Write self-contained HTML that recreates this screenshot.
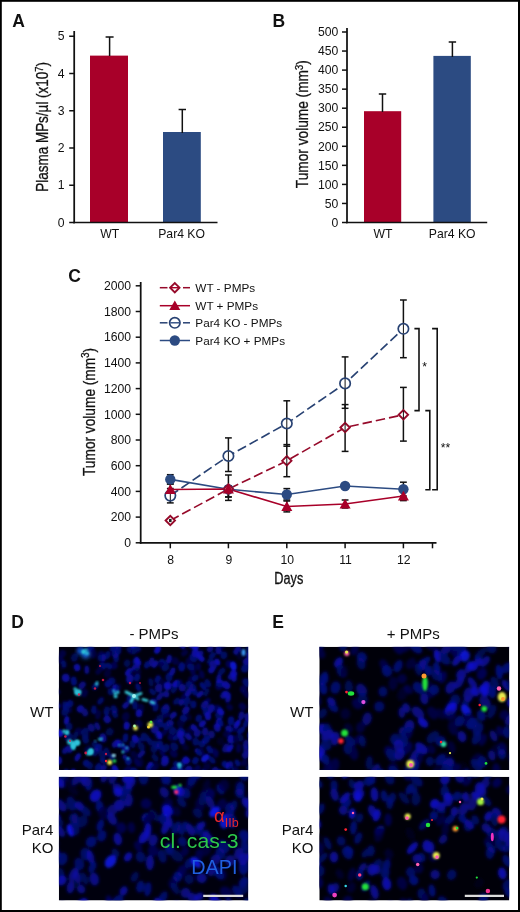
<!DOCTYPE html>
<html><head><meta charset="utf-8"><title>Figure</title>
<style>html,body{margin:0;padding:0;background:#fff}svg{display:block}text{font-family:"Liberation Sans",sans-serif;fill:#111}.b{font-weight:bold;font-size:17.5px}.t{font-size:12.2px}.l{font-size:11.75px}.c{font-size:16px;stroke:#111;stroke-width:0.3px}.m{font-size:15px}</style></head><body>
<svg width="520" height="912" viewBox="0 0 520 912">
<rect x="0" y="0" width="520" height="912" fill="#000"/>
<rect x="1.8" y="1.8" width="516.2" height="908.2" fill="#fff"/>
<text x="12.3" y="26.8" class="b" text-anchor="start" >A</text>
<text x="272.5" y="26.8" class="b" text-anchor="start" >B</text>
<text x="68.3" y="281.6" class="b" text-anchor="start" >C</text>
<text x="11.3" y="627.8" class="b" text-anchor="start" >D</text>
<text x="272.3" y="627.8" class="b" text-anchor="start" >E</text>
<line x1="69.2" y1="222.5" x2="74.2" y2="222.5" stroke="#111" stroke-width="1.5" />
<text x="64.5" y="226.7" class="t" text-anchor="end" >0</text>
<line x1="69.2" y1="185.25" x2="74.2" y2="185.25" stroke="#111" stroke-width="1.5" />
<text x="64.5" y="189.45" class="t" text-anchor="end" >1</text>
<line x1="69.2" y1="148.0" x2="74.2" y2="148.0" stroke="#111" stroke-width="1.5" />
<text x="64.5" y="152.2" class="t" text-anchor="end" >2</text>
<line x1="69.2" y1="110.75" x2="74.2" y2="110.75" stroke="#111" stroke-width="1.5" />
<text x="64.5" y="114.95" class="t" text-anchor="end" >3</text>
<line x1="69.2" y1="73.5" x2="74.2" y2="73.5" stroke="#111" stroke-width="1.5" />
<text x="64.5" y="77.7" class="t" text-anchor="end" >4</text>
<line x1="69.2" y1="36.25" x2="74.2" y2="36.25" stroke="#111" stroke-width="1.5" />
<text x="64.5" y="40.45" class="t" text-anchor="end" >5</text>
<rect x="90" y="55.62" width="38" height="166.88" fill="#A80029"/>
<rect x="163" y="132" width="37.8" height="90.5" fill="#2C4B82"/>
<line x1="74.2" y1="31" x2="74.2" y2="223.35" stroke="#111" stroke-width="1.75" />
<line x1="73.35000000000001" y1="222.5" x2="217.5" y2="222.5" stroke="#111" stroke-width="1.7" />
<line x1="109.6" y1="37" x2="109.6" y2="56" stroke="#111" stroke-width="1.5" />
<line x1="105.6" y1="37" x2="113.6" y2="37" stroke="#111" stroke-width="1.5" />
<line x1="182.3" y1="109.5" x2="182.3" y2="133" stroke="#111" stroke-width="1.5" />
<line x1="178.6" y1="109.5" x2="186" y2="109.5" stroke="#111" stroke-width="1.5" />
<text x="109.8" y="238" class="t" text-anchor="middle" >WT</text>
<text x="181.6" y="238" class="t" text-anchor="middle" >Par4 KO</text>
<text class="c" transform="translate(48.3,191.8) rotate(-90)" textLength="129.8" lengthAdjust="spacingAndGlyphs" >Plasma MPs/µl (x10<tspan dy="-5.8" font-size="11">7</tspan><tspan dy="5.8">)</tspan></text>
<line x1="342" y1="222.5" x2="347" y2="222.5" stroke="#111" stroke-width="1.5" />
<text x="338.3" y="226.7" class="t" text-anchor="end" >0</text>
<line x1="342" y1="203.45" x2="347" y2="203.45" stroke="#111" stroke-width="1.5" />
<text x="338.3" y="207.64999999999998" class="t" text-anchor="end" >50</text>
<line x1="342" y1="184.4" x2="347" y2="184.4" stroke="#111" stroke-width="1.5" />
<text x="338.3" y="188.6" class="t" text-anchor="end" >100</text>
<line x1="342" y1="165.35" x2="347" y2="165.35" stroke="#111" stroke-width="1.5" />
<text x="338.3" y="169.54999999999998" class="t" text-anchor="end" >150</text>
<line x1="342" y1="146.3" x2="347" y2="146.3" stroke="#111" stroke-width="1.5" />
<text x="338.3" y="150.5" class="t" text-anchor="end" >200</text>
<line x1="342" y1="127.25" x2="347" y2="127.25" stroke="#111" stroke-width="1.5" />
<text x="338.3" y="131.45" class="t" text-anchor="end" >250</text>
<line x1="342" y1="108.19999999999999" x2="347" y2="108.19999999999999" stroke="#111" stroke-width="1.5" />
<text x="338.3" y="112.39999999999999" class="t" text-anchor="end" >300</text>
<line x1="342" y1="89.15" x2="347" y2="89.15" stroke="#111" stroke-width="1.5" />
<text x="338.3" y="93.35000000000001" class="t" text-anchor="end" >350</text>
<line x1="342" y1="70.1" x2="347" y2="70.1" stroke="#111" stroke-width="1.5" />
<text x="338.3" y="74.3" class="t" text-anchor="end" >400</text>
<line x1="342" y1="51.04999999999998" x2="347" y2="51.04999999999998" stroke="#111" stroke-width="1.5" />
<text x="338.3" y="55.249999999999986" class="t" text-anchor="end" >450</text>
<line x1="342" y1="32.0" x2="347" y2="32.0" stroke="#111" stroke-width="1.5" />
<text x="338.3" y="36.2" class="t" text-anchor="end" >500</text>
<rect x="364" y="111.2" width="37.2" height="111.3" fill="#A80029"/>
<rect x="433.4" y="55.9" width="37.4" height="166.6" fill="#2C4B82"/>
<line x1="347" y1="28" x2="347" y2="223.35" stroke="#111" stroke-width="1.75" />
<line x1="346.15" y1="222.5" x2="487.2" y2="222.5" stroke="#111" stroke-width="1.7" />
<line x1="382.5" y1="94" x2="382.5" y2="112" stroke="#111" stroke-width="1.5" />
<line x1="378.8" y1="94" x2="386.2" y2="94" stroke="#111" stroke-width="1.5" />
<line x1="452.4" y1="42" x2="452.4" y2="57" stroke="#111" stroke-width="1.5" />
<line x1="448.7" y1="42" x2="456.1" y2="42" stroke="#111" stroke-width="1.5" />
<text x="382.9" y="238" class="t" text-anchor="middle" >WT</text>
<text x="452.2" y="238" class="t" text-anchor="middle" >Par4 KO</text>
<text class="c" transform="translate(308.3,188.2) rotate(-90)" textLength="128" lengthAdjust="spacingAndGlyphs" >Tumor volume (mm<tspan dy="-5.8" font-size="11">3</tspan><tspan dy="5.8">)</tspan></text>
<line x1="140.7" y1="282" x2="140.7" y2="543.65" stroke="#111" stroke-width="1.75" />
<line x1="139.85" y1="542.8" x2="436.5" y2="542.8" stroke="#111" stroke-width="1.7" />
<line x1="135.7" y1="542.8" x2="140.7" y2="542.8" stroke="#111" stroke-width="1.5" />
<text x="131" y="547.0" class="t" text-anchor="end" >0</text>
<line x1="135.7" y1="517.0999999999999" x2="140.7" y2="517.0999999999999" stroke="#111" stroke-width="1.5" />
<text x="131" y="521.3" class="t" text-anchor="end" >200</text>
<line x1="135.7" y1="491.4" x2="140.7" y2="491.4" stroke="#111" stroke-width="1.5" />
<text x="131" y="495.59999999999997" class="t" text-anchor="end" >400</text>
<line x1="135.7" y1="465.69999999999993" x2="140.7" y2="465.69999999999993" stroke="#111" stroke-width="1.5" />
<text x="131" y="469.8999999999999" class="t" text-anchor="end" >600</text>
<line x1="135.7" y1="439.99999999999994" x2="140.7" y2="439.99999999999994" stroke="#111" stroke-width="1.5" />
<text x="131" y="444.19999999999993" class="t" text-anchor="end" >800</text>
<line x1="135.7" y1="414.29999999999995" x2="140.7" y2="414.29999999999995" stroke="#111" stroke-width="1.5" />
<text x="131" y="418.49999999999994" class="t" text-anchor="end" >1000</text>
<line x1="135.7" y1="388.59999999999997" x2="140.7" y2="388.59999999999997" stroke="#111" stroke-width="1.5" />
<text x="131" y="392.79999999999995" class="t" text-anchor="end" >1200</text>
<line x1="135.7" y1="362.9" x2="140.7" y2="362.9" stroke="#111" stroke-width="1.5" />
<text x="131" y="367.09999999999997" class="t" text-anchor="end" >1400</text>
<line x1="135.7" y1="337.19999999999993" x2="140.7" y2="337.19999999999993" stroke="#111" stroke-width="1.5" />
<text x="131" y="341.3999999999999" class="t" text-anchor="end" >1600</text>
<line x1="135.7" y1="311.5" x2="140.7" y2="311.5" stroke="#111" stroke-width="1.5" />
<text x="131" y="315.7" class="t" text-anchor="end" >1800</text>
<line x1="135.7" y1="285.79999999999995" x2="140.7" y2="285.79999999999995" stroke="#111" stroke-width="1.5" />
<text x="131" y="289.99999999999994" class="t" text-anchor="end" >2000</text>
<line x1="170.3" y1="542.8" x2="170.3" y2="548.3" stroke="#111" stroke-width="1.5" />
<text x="170.70000000000002" y="564" class="t" text-anchor="middle" >8</text>
<line x1="228.4" y1="542.8" x2="228.4" y2="548.3" stroke="#111" stroke-width="1.5" />
<text x="228.8" y="564" class="t" text-anchor="middle" >9</text>
<line x1="286.8" y1="542.8" x2="286.8" y2="548.3" stroke="#111" stroke-width="1.5" />
<text x="287.2" y="564" class="t" text-anchor="middle" >10</text>
<line x1="345.1" y1="542.8" x2="345.1" y2="548.3" stroke="#111" stroke-width="1.5" />
<text x="345.5" y="564" class="t" text-anchor="middle" >11</text>
<line x1="403.4" y1="542.8" x2="403.4" y2="548.3" stroke="#111" stroke-width="1.5" />
<text x="403.79999999999995" y="564" class="t" text-anchor="middle" >12</text>
<line x1="432.5" y1="542.8" x2="432.5" y2="548.3" stroke="#111" stroke-width="1.5" />
<text class="c" x="274.3" y="583.6" textLength="29" lengthAdjust="spacingAndGlyphs">Days</text>
<text class="c" transform="translate(94.5,476) rotate(-90)" textLength="128" lengthAdjust="spacingAndGlyphs" >Tumor volume (mm<tspan dy="-5.8" font-size="11">3</tspan><tspan dy="5.8">)</tspan></text>
<line x1="170.3" y1="488.5" x2="170.3" y2="502.9" stroke="#111" stroke-width="1.5" />
<line x1="166.9" y1="488.5" x2="173.70000000000002" y2="488.5" stroke="#111" stroke-width="1.5" />
<line x1="166.9" y1="502.9" x2="173.70000000000002" y2="502.9" stroke="#111" stroke-width="1.5" />
<line x1="170.3" y1="474.7" x2="170.3" y2="484" stroke="#111" stroke-width="1.5" />
<line x1="166.9" y1="474.7" x2="173.70000000000002" y2="474.7" stroke="#111" stroke-width="1.5" />
<line x1="166.9" y1="484" x2="173.70000000000002" y2="484" stroke="#111" stroke-width="1.5" />
<line x1="170.3" y1="484" x2="170.3" y2="495" stroke="#111" stroke-width="1.5" />
<line x1="166.9" y1="484" x2="173.70000000000002" y2="484" stroke="#111" stroke-width="1.5" />
<line x1="166.9" y1="495" x2="173.70000000000002" y2="495" stroke="#111" stroke-width="1.5" />
<line x1="228.4" y1="437.9" x2="228.4" y2="471.5" stroke="#111" stroke-width="1.5" />
<line x1="225.0" y1="437.9" x2="231.8" y2="437.9" stroke="#111" stroke-width="1.5" />
<line x1="225.0" y1="471.5" x2="231.8" y2="471.5" stroke="#111" stroke-width="1.5" />
<line x1="228.4" y1="475" x2="228.4" y2="500.4" stroke="#111" stroke-width="1.5" />
<line x1="225.0" y1="475" x2="231.8" y2="475" stroke="#111" stroke-width="1.5" />
<line x1="225.0" y1="500.4" x2="231.8" y2="500.4" stroke="#111" stroke-width="1.5" />
<line x1="228.4" y1="486" x2="228.4" y2="496.9" stroke="#111" stroke-width="1.5" />
<line x1="225.0" y1="486" x2="231.8" y2="486" stroke="#111" stroke-width="1.5" />
<line x1="225.0" y1="496.9" x2="231.8" y2="496.9" stroke="#111" stroke-width="1.5" />
<line x1="228.4" y1="486" x2="228.4" y2="497" stroke="#111" stroke-width="1.5" />
<line x1="225.0" y1="486" x2="231.8" y2="486" stroke="#111" stroke-width="1.5" />
<line x1="225.0" y1="497" x2="231.8" y2="497" stroke="#111" stroke-width="1.5" />
<line x1="286.8" y1="400.8" x2="286.8" y2="446.2" stroke="#111" stroke-width="1.5" />
<line x1="283.40000000000003" y1="400.8" x2="290.2" y2="400.8" stroke="#111" stroke-width="1.5" />
<line x1="283.40000000000003" y1="446.2" x2="290.2" y2="446.2" stroke="#111" stroke-width="1.5" />
<line x1="286.8" y1="444.6" x2="286.8" y2="476.7" stroke="#111" stroke-width="1.5" />
<line x1="283.40000000000003" y1="444.6" x2="290.2" y2="444.6" stroke="#111" stroke-width="1.5" />
<line x1="283.40000000000003" y1="476.7" x2="290.2" y2="476.7" stroke="#111" stroke-width="1.5" />
<line x1="286.8" y1="488.6" x2="286.8" y2="500" stroke="#111" stroke-width="1.5" />
<line x1="283.40000000000003" y1="488.6" x2="290.2" y2="488.6" stroke="#111" stroke-width="1.5" />
<line x1="283.40000000000003" y1="500" x2="290.2" y2="500" stroke="#111" stroke-width="1.5" />
<line x1="286.8" y1="501" x2="286.8" y2="511.9" stroke="#111" stroke-width="1.5" />
<line x1="283.40000000000003" y1="501" x2="290.2" y2="501" stroke="#111" stroke-width="1.5" />
<line x1="283.40000000000003" y1="511.9" x2="290.2" y2="511.9" stroke="#111" stroke-width="1.5" />
<line x1="345.1" y1="356.9" x2="345.1" y2="408.3" stroke="#111" stroke-width="1.5" />
<line x1="341.70000000000005" y1="356.9" x2="348.5" y2="356.9" stroke="#111" stroke-width="1.5" />
<line x1="341.70000000000005" y1="408.3" x2="348.5" y2="408.3" stroke="#111" stroke-width="1.5" />
<line x1="345.1" y1="404.6" x2="345.1" y2="451.4" stroke="#111" stroke-width="1.5" />
<line x1="341.70000000000005" y1="404.6" x2="348.5" y2="404.6" stroke="#111" stroke-width="1.5" />
<line x1="341.70000000000005" y1="451.4" x2="348.5" y2="451.4" stroke="#111" stroke-width="1.5" />
<line x1="345.1" y1="500" x2="345.1" y2="508" stroke="#111" stroke-width="1.5" />
<line x1="341.70000000000005" y1="500" x2="348.5" y2="500" stroke="#111" stroke-width="1.5" />
<line x1="341.70000000000005" y1="508" x2="348.5" y2="508" stroke="#111" stroke-width="1.5" />
<line x1="403.4" y1="300" x2="403.4" y2="357.7" stroke="#111" stroke-width="1.5" />
<line x1="400.0" y1="300" x2="406.79999999999995" y2="300" stroke="#111" stroke-width="1.5" />
<line x1="400.0" y1="357.7" x2="406.79999999999995" y2="357.7" stroke="#111" stroke-width="1.5" />
<line x1="403.4" y1="387.4" x2="403.4" y2="441.1" stroke="#111" stroke-width="1.5" />
<line x1="400.0" y1="387.4" x2="406.79999999999995" y2="387.4" stroke="#111" stroke-width="1.5" />
<line x1="400.0" y1="441.1" x2="406.79999999999995" y2="441.1" stroke="#111" stroke-width="1.5" />
<line x1="403.4" y1="482.2" x2="403.4" y2="496" stroke="#111" stroke-width="1.5" />
<line x1="400.0" y1="482.2" x2="406.79999999999995" y2="482.2" stroke="#111" stroke-width="1.5" />
<line x1="400.0" y1="496" x2="406.79999999999995" y2="496" stroke="#111" stroke-width="1.5" />
<line x1="403.4" y1="491" x2="403.4" y2="500.6" stroke="#111" stroke-width="1.5" />
<line x1="400.0" y1="491" x2="406.79999999999995" y2="491" stroke="#111" stroke-width="1.5" />
<line x1="400.0" y1="500.6" x2="406.79999999999995" y2="500.6" stroke="#111" stroke-width="1.5" />
<polyline points="170.3,495.6 228.4,456 286.8,423.5 345.1,383.4 403.4,328.8" fill="none" stroke="#284273" stroke-width="1.65" stroke-dasharray="9.5 4"/>
<polyline points="170.3,520.5 228.4,489 286.8,460.8 345.1,427.5 403.4,414.7" fill="none" stroke="#960a2a" stroke-width="1.65" stroke-dasharray="9.5 4"/>
<polyline points="170.3,479.4 228.4,489.3 286.8,494.5 345.1,486 403.4,489.2" fill="none" stroke="#2C4B82" stroke-width="1.65" />
<polyline points="170.3,489.5 228.4,489 286.8,506.5 345.1,504 403.4,496" fill="none" stroke="#A80029" stroke-width="1.65" />
<circle cx="170.3" cy="495.6" r="5.2" fill="#fff" stroke="#284273" stroke-width="1.7"/>
<line x1="170.3" y1="491.1" x2="170.3" y2="500.1" stroke="#111" stroke-width="1.0" />
<circle cx="228.4" cy="456" r="5.2" fill="#fff" stroke="#284273" stroke-width="1.7"/>
<line x1="228.4" y1="451.5" x2="228.4" y2="460.5" stroke="#111" stroke-width="1.0" />
<circle cx="286.8" cy="423.5" r="5.2" fill="#fff" stroke="#284273" stroke-width="1.7"/>
<line x1="286.8" y1="419.0" x2="286.8" y2="428.0" stroke="#111" stroke-width="1.0" />
<circle cx="345.1" cy="383.4" r="5.2" fill="#fff" stroke="#284273" stroke-width="1.7"/>
<line x1="345.1" y1="378.9" x2="345.1" y2="387.9" stroke="#111" stroke-width="1.0" />
<circle cx="403.4" cy="328.8" r="5.2" fill="#fff" stroke="#284273" stroke-width="1.7"/>
<line x1="403.4" y1="324.3" x2="403.4" y2="333.3" stroke="#111" stroke-width="1.0" />
<circle cx="170.3" cy="479.4" r="5.2" fill="#2C4B82"/>
<circle cx="228.4" cy="489.3" r="5.2" fill="#2C4B82"/>
<circle cx="286.8" cy="494.5" r="5.2" fill="#2C4B82"/>
<circle cx="345.1" cy="486" r="5.2" fill="#2C4B82"/>
<circle cx="403.4" cy="489.2" r="5.2" fill="#2C4B82"/>
<path d="M165.60000000000002,520.5 L170.3,515.8 L175.0,520.5 L170.3,525.2 Z" fill="#fff" stroke="#960a2a" stroke-width="1.9"/>
<rect x="169.0" y="518.9" width="2.6" height="3.2" fill="#222"/>
<path d="M223.70000000000002,489 L228.4,484.3 L233.1,489 L228.4,493.7 Z" fill="#fff" stroke="#960a2a" stroke-width="1.9"/>
<line x1="228.4" y1="485" x2="228.4" y2="493" stroke="#111" stroke-width="1.0" />
<path d="M282.1,460.8 L286.8,456.1 L291.5,460.8 L286.8,465.5 Z" fill="#fff" stroke="#960a2a" stroke-width="1.9"/>
<line x1="286.8" y1="456.8" x2="286.8" y2="464.8" stroke="#111" stroke-width="1.0" />
<path d="M340.40000000000003,427.5 L345.1,422.8 L349.8,427.5 L345.1,432.2 Z" fill="#fff" stroke="#960a2a" stroke-width="1.9"/>
<line x1="345.1" y1="423.5" x2="345.1" y2="431.5" stroke="#111" stroke-width="1.0" />
<path d="M398.7,414.7 L403.4,410.0 L408.09999999999997,414.7 L403.4,419.4 Z" fill="#fff" stroke="#960a2a" stroke-width="1.9"/>
<line x1="403.4" y1="410.7" x2="403.4" y2="418.7" stroke="#111" stroke-width="1.0" />
<path d="M164.8,493.9 L170.3,484.3 L175.8,493.9 Z" fill="#A80029"/>
<path d="M222.9,493.4 L228.4,483.8 L233.9,493.4 Z" fill="#A80029"/>
<path d="M281.3,510.9 L286.8,501.3 L292.3,510.9 Z" fill="#A80029"/>
<path d="M339.6,508.4 L345.1,498.8 L350.6,508.4 Z" fill="#A80029"/>
<path d="M397.9,500.4 L403.4,490.8 L408.9,500.4 Z" fill="#A80029"/>
<line x1="159.8" y1="287.7" x2="167.5" y2="287.7" stroke="#960a2a" stroke-width="1.5" />
<line x1="183" y1="287.7" x2="190" y2="287.7" stroke="#960a2a" stroke-width="1.5" />
<path d="M170.10000000000002,287.7 L174.8,283.0 L179.5,287.7 L174.8,292.4 Z" fill="#fff" stroke="#960a2a" stroke-width="1.9"/>
<line x1="159.8" y1="305.7" x2="190" y2="305.7" stroke="#A80029" stroke-width="1.5" />
<path d="M169.3,310.09999999999997 L174.8,300.5 L180.3,310.09999999999997 Z" fill="#A80029"/>
<line x1="159.8" y1="322.8" x2="167.5" y2="322.8" stroke="#284273" stroke-width="1.5" />
<line x1="183" y1="322.8" x2="190" y2="322.8" stroke="#284273" stroke-width="1.5" />
<circle cx="174.8" cy="322.8" r="5.2" fill="#fff" stroke="#284273" stroke-width="1.7"/>
<line x1="170.3" y1="322.8" x2="179.3" y2="322.8" stroke="#2C4B82" stroke-width="1.4" />
<line x1="159.8" y1="340.5" x2="190" y2="340.5" stroke="#2C4B82" stroke-width="1.5" />
<circle cx="174.8" cy="340.5" r="5.2" fill="#2C4B82"/>
<line x1="171.0" y1="287.7" x2="178.60000000000002" y2="287.7" stroke="#A80029" stroke-width="1.4" />
<text x="195.3" y="291.9" class="l" text-anchor="start" >WT - PMPs</text>
<text x="195.3" y="309.9" class="l" text-anchor="start" >WT + PMPs</text>
<text x="195.3" y="327.0" class="l" text-anchor="start" >Par4 KO - PMPs</text>
<text x="195.3" y="344.7" class="l" text-anchor="start" >Par4 KO + PMPs</text>
<path d="M414.4,328.6 H419 V410.6 H414.4" fill="none" stroke="#111" stroke-width="1.6"/>
<path d="M425.3,410.6 H429.8 V489.8 H425.3" fill="none" stroke="#111" stroke-width="1.6"/>
<path d="M432.1,328.6 H437.2 V489.8 H432.1" fill="none" stroke="#111" stroke-width="1.6"/>
<text x="424.7" y="371.3" class="t" text-anchor="middle" >*</text>
<text x="445.6" y="452.3" class="t" text-anchor="middle" >**</text>
<text x="154" y="638.7" class="m" text-anchor="middle" >- PMPs</text>
<text x="413.2" y="638.7" class="m" text-anchor="middle" >+ PMPs</text>
<text x="53.4" y="716.8" class="m" text-anchor="end" >WT</text>
<text x="313.4" y="716.8" class="m" text-anchor="end" >WT</text>
<text x="53.4" y="834.5" class="m" text-anchor="end" >Par4</text>
<text x="53.4" y="853" class="m" text-anchor="end" >KO</text>
<text x="313.4" y="834.5" class="m" text-anchor="end" >Par4</text>
<text x="313.4" y="853" class="m" text-anchor="end" >KO</text>
<defs>
<filter id="nz1" x="0" y="0" width="100%" height="100%" color-interpolation-filters="sRGB"><feTurbulence type="fractalNoise" baseFrequency="0.055" numOctaves="2" seed="4"/><feColorMatrix type="matrix" values="0 0 0 0 0.02  0.25 0 0 0 -0.08  2.6 0 0 0 -0.72  0 0 0 0 1"/></filter>
<filter id="nz2" x="0" y="0" width="100%" height="100%" color-interpolation-filters="sRGB"><feTurbulence type="fractalNoise" baseFrequency="0.05" numOctaves="2" seed="11"/><feColorMatrix type="matrix" values="0 0 0 0 0.02  0.2 0 0 0 -0.07  2.6 0 0 0 -0.70  0 0 0 0 1"/></filter>
<filter id="nz3" x="0" y="0" width="100%" height="100%" color-interpolation-filters="sRGB"><feTurbulence type="fractalNoise" baseFrequency="0.04" numOctaves="2" seed="23"/><feColorMatrix type="matrix" values="0 0 0 0 0.02  0.1 0 0 0 -0.05  2.6 0 0 0 -0.85  0 0 0 0 1"/></filter>
<filter id="nz4" x="0" y="0" width="100%" height="100%" color-interpolation-filters="sRGB"><feTurbulence type="fractalNoise" baseFrequency="0.045" numOctaves="2" seed="37"/><feColorMatrix type="matrix" values="0 0 0 0 0.02  0.1 0 0 0 -0.05  2.6 0 0 0 -0.9  0 0 0 0 1"/></filter>
<filter id="bl1" x="-50%" y="-50%" width="200%" height="200%"><feGaussianBlur stdDeviation="1"/></filter>
<filter id="bl15" x="-10%" y="-10%" width="120%" height="120%"><feGaussianBlur stdDeviation="1.6"/></filter>
<filter id="bl17" x="-10%" y="-10%" width="120%" height="120%"><feGaussianBlur stdDeviation="1.8"/></filter>
<filter id="bl13" x="-10%" y="-10%" width="120%" height="120%"><feGaussianBlur stdDeviation="1.3"/></filter>
<filter id="bl2" x="-50%" y="-50%" width="200%" height="200%"><feGaussianBlur stdDeviation="2.2"/></filter>
<filter id="bl08" x="-50%" y="-50%" width="200%" height="200%"><feGaussianBlur stdDeviation="0.8"/></filter>
<filter id="bl05" x="-50%" y="-50%" width="200%" height="200%"><feGaussianBlur stdDeviation="0.6"/></filter>
</defs>
<svg x="58.8" y="646.8" width="189.5" height="123.2" viewBox="58.8 646.8 189.5 123.2" overflow="hidden">
<rect x="58.8" y="646.8" width="189.5" height="123.2" fill="#00000e"/>
<g filter="url(#bl13)">
<ellipse cx="80.3" cy="649.5" rx="3.2" ry="3.9" transform="rotate(4 80.3 649.5)" fill="rgb(7,11,126)" opacity="0.64"/>
<ellipse cx="90.7" cy="648.8" rx="3.4" ry="3.8" transform="rotate(-50 90.7 648.8)" fill="rgb(7,11,129)" opacity="0.90"/>
<ellipse cx="113.8" cy="648.0" rx="3.9" ry="4.5" transform="rotate(47 113.8 648.0)" fill="rgb(9,14,158)" opacity="0.69"/>
<ellipse cx="118.1" cy="644.4" rx="3.0" ry="4.4" transform="rotate(-50 118.1 644.4)" fill="rgb(6,9,111)" opacity="0.82"/>
<ellipse cx="133.9" cy="645.5" rx="3.5" ry="3.7" transform="rotate(48 133.9 645.5)" fill="rgb(11,17,197)" opacity="0.89"/>
<ellipse cx="137.6" cy="648.8" rx="3.4" ry="3.6" transform="rotate(-45 137.6 648.8)" fill="rgb(8,12,141)" opacity="0.62"/>
<ellipse cx="157.5" cy="649.8" rx="3.0" ry="4.3" transform="rotate(28 157.5 649.8)" fill="rgb(11,17,193)" opacity="0.87"/>
<ellipse cx="182.2" cy="645.5" rx="2.8" ry="3.7" transform="rotate(-35 182.2 645.5)" fill="rgb(10,16,183)" opacity="0.83"/>
<ellipse cx="192.2" cy="644.5" rx="3.9" ry="4.3" transform="rotate(-9 192.2 644.5)" fill="rgb(8,13,146)" opacity="0.88"/>
<ellipse cx="195.3" cy="646.3" rx="3.8" ry="3.6" transform="rotate(-1 195.3 646.3)" fill="rgb(11,17,195)" opacity="0.89"/>
<ellipse cx="210.2" cy="648.8" rx="3.1" ry="3.8" transform="rotate(34 210.2 648.8)" fill="rgb(7,11,129)" opacity="0.95"/>
<ellipse cx="218.5" cy="650.1" rx="3.2" ry="4.5" transform="rotate(-2 218.5 650.1)" fill="rgb(11,16,184)" opacity="0.67"/>
<ellipse cx="222.3" cy="644.4" rx="3.9" ry="4.8" transform="rotate(13 222.3 644.4)" fill="rgb(6,9,105)" opacity="0.59"/>
<ellipse cx="249.4" cy="648.2" rx="3.2" ry="4.6" transform="rotate(19 249.4 648.2)" fill="rgb(8,12,142)" opacity="0.67"/>
<ellipse cx="62.3" cy="654.0" rx="3.5" ry="4.2" transform="rotate(32 62.3 654.0)" fill="rgb(5,8,89)" opacity="0.69"/>
<ellipse cx="93.1" cy="653.8" rx="3.7" ry="4.8" transform="rotate(-2 93.1 653.8)" fill="rgb(4,6,74)" opacity="0.83"/>
<ellipse cx="101.3" cy="655.2" rx="3.6" ry="4.3" transform="rotate(17 101.3 655.2)" fill="rgb(4,7,82)" opacity="0.86"/>
<ellipse cx="107.6" cy="655.1" rx="2.8" ry="4.2" transform="rotate(15 107.6 655.1)" fill="rgb(9,14,158)" opacity="0.64"/>
<ellipse cx="114.8" cy="654.5" rx="3.2" ry="3.9" transform="rotate(-45 114.8 654.5)" fill="rgb(9,13,155)" opacity="0.62"/>
<ellipse cx="118.3" cy="650.5" rx="3.1" ry="4.4" transform="rotate(9 118.3 650.5)" fill="rgb(9,14,158)" opacity="0.65"/>
<ellipse cx="130.0" cy="650.2" rx="2.9" ry="4.1" transform="rotate(-38 130.0 650.2)" fill="rgb(9,13,150)" opacity="0.56"/>
<ellipse cx="134.8" cy="650.9" rx="3.0" ry="4.3" transform="rotate(46 134.8 650.9)" fill="rgb(5,8,98)" opacity="0.88"/>
<ellipse cx="184.6" cy="652.8" rx="2.8" ry="4.0" transform="rotate(47 184.6 652.8)" fill="rgb(4,6,67)" opacity="0.92"/>
<ellipse cx="195.6" cy="653.1" rx="3.9" ry="4.2" transform="rotate(-21 195.6 653.1)" fill="rgb(12,18,211)" opacity="0.74"/>
<ellipse cx="199.9" cy="654.5" rx="2.9" ry="4.6" transform="rotate(33 199.9 654.5)" fill="rgb(11,17,191)" opacity="0.66"/>
<ellipse cx="212.3" cy="655.6" rx="2.9" ry="3.8" transform="rotate(49 212.3 655.6)" fill="rgb(8,13,146)" opacity="0.67"/>
<ellipse cx="223.7" cy="655.3" rx="3.6" ry="4.0" transform="rotate(3 223.7 655.3)" fill="rgb(7,11,124)" opacity="0.76"/>
<ellipse cx="237.3" cy="650.5" rx="3.2" ry="4.8" transform="rotate(39 237.3 650.5)" fill="rgb(10,15,170)" opacity="0.77"/>
<ellipse cx="240.2" cy="655.5" rx="3.3" ry="4.5" transform="rotate(13 240.2 655.5)" fill="rgb(3,4,54)" opacity="0.70"/>
<ellipse cx="249.6" cy="656.0" rx="2.9" ry="4.6" transform="rotate(-43 249.6 656.0)" fill="rgb(9,13,152)" opacity="0.88"/>
<ellipse cx="60.1" cy="660.0" rx="3.6" ry="4.7" transform="rotate(-36 60.1 660.0)" fill="rgb(4,7,81)" opacity="0.75"/>
<ellipse cx="74.6" cy="657.5" rx="3.7" ry="4.6" transform="rotate(16 74.6 657.5)" fill="rgb(8,12,138)" opacity="0.56"/>
<ellipse cx="101.3" cy="658.0" rx="3.8" ry="3.8" transform="rotate(11 101.3 658.0)" fill="rgb(6,9,111)" opacity="0.80"/>
<ellipse cx="103.6" cy="657.8" rx="2.6" ry="3.7" transform="rotate(8 103.6 657.8)" fill="rgb(8,12,144)" opacity="0.85"/>
<ellipse cx="116.1" cy="658.0" rx="3.0" ry="4.4" transform="rotate(-1 116.1 658.0)" fill="rgb(10,15,167)" opacity="0.57"/>
<ellipse cx="127.2" cy="663.3" rx="3.4" ry="3.9" transform="rotate(5 127.2 663.3)" fill="rgb(7,10,117)" opacity="0.65"/>
<ellipse cx="135.8" cy="660.6" rx="2.9" ry="4.1" transform="rotate(24 135.8 660.6)" fill="rgb(9,14,159)" opacity="0.81"/>
<ellipse cx="138.0" cy="661.6" rx="2.7" ry="4.3" transform="rotate(-26 138.0 661.6)" fill="rgb(11,17,189)" opacity="0.90"/>
<ellipse cx="151.3" cy="662.0" rx="2.7" ry="4.8" transform="rotate(18 151.3 662.0)" fill="rgb(8,12,135)" opacity="0.94"/>
<ellipse cx="162.5" cy="662.7" rx="3.4" ry="4.0" transform="rotate(-26 162.5 662.7)" fill="rgb(9,14,161)" opacity="0.68"/>
<ellipse cx="169.0" cy="659.4" rx="2.7" ry="4.6" transform="rotate(15 169.0 659.4)" fill="rgb(9,14,156)" opacity="0.89"/>
<ellipse cx="175.2" cy="661.1" rx="3.6" ry="4.1" transform="rotate(-40 175.2 661.1)" fill="rgb(6,9,101)" opacity="0.56"/>
<ellipse cx="188.6" cy="662.3" rx="3.2" ry="4.7" transform="rotate(12 188.6 662.3)" fill="rgb(6,9,101)" opacity="0.59"/>
<ellipse cx="193.2" cy="658.1" rx="3.1" ry="4.7" transform="rotate(-35 193.2 658.1)" fill="rgb(9,14,161)" opacity="0.65"/>
<ellipse cx="200.9" cy="658.2" rx="2.9" ry="4.2" transform="rotate(-47 200.9 658.2)" fill="rgb(10,15,176)" opacity="0.93"/>
<ellipse cx="210.6" cy="661.7" rx="3.9" ry="3.7" transform="rotate(17 210.6 661.7)" fill="rgb(7,11,124)" opacity="0.67"/>
<ellipse cx="217.3" cy="662.0" rx="2.8" ry="3.6" transform="rotate(-27 217.3 662.0)" fill="rgb(10,15,177)" opacity="0.94"/>
<ellipse cx="246.5" cy="661.5" rx="3.9" ry="3.6" transform="rotate(-44 246.5 661.5)" fill="rgb(9,14,161)" opacity="0.86"/>
<ellipse cx="62.1" cy="667.4" rx="2.7" ry="3.7" transform="rotate(40 62.1 667.4)" fill="rgb(2,3,38)" opacity="0.57"/>
<ellipse cx="63.9" cy="664.2" rx="2.6" ry="3.9" transform="rotate(-9 63.9 664.2)" fill="rgb(8,12,137)" opacity="0.67"/>
<ellipse cx="77.1" cy="667.4" rx="3.3" ry="3.7" transform="rotate(-19 77.1 667.4)" fill="rgb(10,15,170)" opacity="0.92"/>
<ellipse cx="86.8" cy="669.8" rx="2.5" ry="4.3" transform="rotate(-1 86.8 669.8)" fill="rgb(9,14,163)" opacity="0.78"/>
<ellipse cx="102.7" cy="666.0" rx="3.7" ry="3.9" transform="rotate(-38 102.7 666.0)" fill="rgb(7,11,125)" opacity="0.86"/>
<ellipse cx="108.9" cy="666.0" rx="2.6" ry="3.9" transform="rotate(-42 108.9 666.0)" fill="rgb(8,13,147)" opacity="0.72"/>
<ellipse cx="114.0" cy="665.6" rx="3.5" ry="3.7" transform="rotate(-30 114.0 665.6)" fill="rgb(7,11,123)" opacity="0.59"/>
<ellipse cx="135.8" cy="667.8" rx="3.7" ry="4.4" transform="rotate(45 135.8 667.8)" fill="rgb(10,15,169)" opacity="0.84"/>
<ellipse cx="146.9" cy="664.8" rx="2.8" ry="3.9" transform="rotate(18 146.9 664.8)" fill="rgb(7,11,128)" opacity="0.86"/>
<ellipse cx="155.0" cy="664.1" rx="2.7" ry="4.1" transform="rotate(36 155.0 664.1)" fill="rgb(9,14,156)" opacity="0.93"/>
<ellipse cx="162.2" cy="665.5" rx="3.0" ry="4.0" transform="rotate(-49 162.2 665.5)" fill="rgb(4,6,77)" opacity="0.84"/>
<ellipse cx="165.5" cy="667.5" rx="3.5" ry="4.2" transform="rotate(44 165.5 667.5)" fill="rgb(6,9,104)" opacity="0.87"/>
<ellipse cx="181.7" cy="666.9" rx="3.6" ry="4.8" transform="rotate(3 181.7 666.9)" fill="rgb(11,17,194)" opacity="0.59"/>
<ellipse cx="190.9" cy="666.8" rx="3.9" ry="3.6" transform="rotate(8 190.9 666.8)" fill="rgb(7,11,131)" opacity="0.74"/>
<ellipse cx="198.2" cy="666.6" rx="2.9" ry="3.9" transform="rotate(6 198.2 666.6)" fill="rgb(6,9,100)" opacity="0.65"/>
<ellipse cx="211.6" cy="669.7" rx="3.1" ry="3.8" transform="rotate(33 211.6 669.7)" fill="rgb(11,17,194)" opacity="0.75"/>
<ellipse cx="213.0" cy="665.1" rx="3.6" ry="4.7" transform="rotate(-30 213.0 665.1)" fill="rgb(9,13,152)" opacity="0.82"/>
<ellipse cx="229.0" cy="664.0" rx="3.4" ry="3.8" transform="rotate(-11 229.0 664.0)" fill="rgb(6,9,108)" opacity="0.68"/>
<ellipse cx="233.4" cy="666.0" rx="3.2" ry="4.5" transform="rotate(-10 233.4 666.0)" fill="rgb(12,19,215)" opacity="0.92"/>
<ellipse cx="244.8" cy="668.5" rx="3.7" ry="4.1" transform="rotate(9 244.8 668.5)" fill="rgb(7,11,133)" opacity="0.82"/>
<ellipse cx="250.5" cy="665.8" rx="2.6" ry="4.0" transform="rotate(8 250.5 665.8)" fill="rgb(8,13,145)" opacity="0.67"/>
<ellipse cx="99.1" cy="670.8" rx="2.8" ry="4.4" transform="rotate(40 99.1 670.8)" fill="rgb(4,6,68)" opacity="0.91"/>
<ellipse cx="107.5" cy="673.4" rx="3.5" ry="4.3" transform="rotate(22 107.5 673.4)" fill="rgb(4,6,73)" opacity="0.64"/>
<ellipse cx="129.0" cy="672.3" rx="3.3" ry="4.6" transform="rotate(38 129.0 672.3)" fill="rgb(11,17,191)" opacity="0.84"/>
<ellipse cx="133.5" cy="673.6" rx="3.8" ry="4.0" transform="rotate(-22 133.5 673.6)" fill="rgb(2,4,49)" opacity="0.62"/>
<ellipse cx="137.7" cy="671.5" rx="3.4" ry="3.8" transform="rotate(-31 137.7 671.5)" fill="rgb(4,6,67)" opacity="0.79"/>
<ellipse cx="169.2" cy="677.1" rx="3.5" ry="4.7" transform="rotate(-2 169.2 677.1)" fill="rgb(9,14,163)" opacity="0.61"/>
<ellipse cx="172.3" cy="671.8" rx="2.7" ry="4.6" transform="rotate(24 172.3 671.8)" fill="rgb(9,14,157)" opacity="0.88"/>
<ellipse cx="192.9" cy="671.4" rx="2.8" ry="4.1" transform="rotate(-4 192.9 671.4)" fill="rgb(6,10,114)" opacity="0.58"/>
<ellipse cx="201.8" cy="674.5" rx="2.7" ry="4.4" transform="rotate(-13 201.8 674.5)" fill="rgb(4,7,82)" opacity="0.82"/>
<ellipse cx="221.6" cy="671.5" rx="3.0" ry="4.5" transform="rotate(42 221.6 671.5)" fill="rgb(7,10,117)" opacity="0.75"/>
<ellipse cx="231.1" cy="676.1" rx="2.9" ry="4.0" transform="rotate(35 231.1 676.1)" fill="rgb(9,14,164)" opacity="0.76"/>
<ellipse cx="233.6" cy="673.6" rx="3.5" ry="3.7" transform="rotate(-23 233.6 673.6)" fill="rgb(10,16,179)" opacity="0.94"/>
<ellipse cx="55.4" cy="682.8" rx="2.5" ry="3.9" transform="rotate(-4 55.4 682.8)" fill="rgb(9,14,157)" opacity="0.70"/>
<ellipse cx="65.8" cy="677.9" rx="3.9" ry="4.2" transform="rotate(-3 65.8 677.9)" fill="rgb(9,14,159)" opacity="0.93"/>
<ellipse cx="73.8" cy="681.1" rx="3.1" ry="4.6" transform="rotate(-7 73.8 681.1)" fill="rgb(8,13,148)" opacity="0.79"/>
<ellipse cx="108.4" cy="683.7" rx="3.6" ry="4.1" transform="rotate(47 108.4 683.7)" fill="rgb(9,14,159)" opacity="0.72"/>
<ellipse cx="112.0" cy="680.8" rx="3.5" ry="3.8" transform="rotate(-33 112.0 680.8)" fill="rgb(7,11,130)" opacity="0.73"/>
<ellipse cx="129.8" cy="678.9" rx="3.7" ry="4.8" transform="rotate(10 129.8 678.9)" fill="rgb(9,13,151)" opacity="0.92"/>
<ellipse cx="137.0" cy="677.8" rx="3.1" ry="3.9" transform="rotate(25 137.0 677.8)" fill="rgb(9,13,154)" opacity="0.70"/>
<ellipse cx="151.0" cy="682.4" rx="2.7" ry="4.4" transform="rotate(-13 151.0 682.4)" fill="rgb(6,9,101)" opacity="0.78"/>
<ellipse cx="157.7" cy="679.2" rx="2.9" ry="4.3" transform="rotate(23 157.7 679.2)" fill="rgb(10,15,175)" opacity="0.60"/>
<ellipse cx="161.3" cy="682.4" rx="3.6" ry="4.1" transform="rotate(0 161.3 682.4)" fill="rgb(5,7,87)" opacity="0.57"/>
<ellipse cx="168.2" cy="677.8" rx="3.0" ry="3.6" transform="rotate(-20 168.2 677.8)" fill="rgb(5,8,96)" opacity="0.73"/>
<ellipse cx="176.1" cy="683.9" rx="3.3" ry="4.5" transform="rotate(44 176.1 683.9)" fill="rgb(15,22,255)" opacity="0.67"/>
<ellipse cx="179.6" cy="684.0" rx="3.2" ry="4.5" transform="rotate(3 179.6 684.0)" fill="rgb(6,9,104)" opacity="0.71"/>
<ellipse cx="191.7" cy="679.6" rx="3.7" ry="3.8" transform="rotate(-15 191.7 679.6)" fill="rgb(5,8,90)" opacity="0.63"/>
<ellipse cx="195.3" cy="678.0" rx="3.0" ry="3.8" transform="rotate(47 195.3 678.0)" fill="rgb(8,12,143)" opacity="0.66"/>
<ellipse cx="207.7" cy="683.3" rx="3.1" ry="4.4" transform="rotate(-25 207.7 683.3)" fill="rgb(8,12,135)" opacity="0.73"/>
<ellipse cx="218.8" cy="678.8" rx="2.6" ry="4.5" transform="rotate(6 218.8 678.8)" fill="rgb(13,20,223)" opacity="0.55"/>
<ellipse cx="219.8" cy="683.2" rx="3.8" ry="3.7" transform="rotate(9 219.8 683.2)" fill="rgb(11,17,189)" opacity="0.79"/>
<ellipse cx="234.0" cy="678.0" rx="2.7" ry="3.7" transform="rotate(-4 234.0 678.0)" fill="rgb(11,16,185)" opacity="0.81"/>
<ellipse cx="246.2" cy="682.5" rx="3.4" ry="4.7" transform="rotate(-38 246.2 682.5)" fill="rgb(8,12,142)" opacity="0.67"/>
<ellipse cx="246.9" cy="682.8" rx="3.8" ry="4.2" transform="rotate(-34 246.9 682.8)" fill="rgb(6,9,111)" opacity="0.64"/>
<ellipse cx="57.2" cy="690.9" rx="2.6" ry="4.0" transform="rotate(-42 57.2 690.9)" fill="rgb(4,7,82)" opacity="0.81"/>
<ellipse cx="82.1" cy="685.4" rx="3.2" ry="4.3" transform="rotate(40 82.1 685.4)" fill="rgb(9,14,157)" opacity="0.77"/>
<ellipse cx="95.3" cy="686.4" rx="2.9" ry="4.1" transform="rotate(39 95.3 686.4)" fill="rgb(7,11,126)" opacity="0.81"/>
<ellipse cx="115.9" cy="688.4" rx="3.9" ry="4.1" transform="rotate(14 115.9 688.4)" fill="rgb(11,16,188)" opacity="0.84"/>
<ellipse cx="118.7" cy="687.2" rx="2.7" ry="3.7" transform="rotate(22 118.7 687.2)" fill="rgb(3,5,63)" opacity="0.58"/>
<ellipse cx="138.2" cy="687.3" rx="2.6" ry="4.3" transform="rotate(-21 138.2 687.3)" fill="rgb(10,15,175)" opacity="0.59"/>
<ellipse cx="158.8" cy="688.1" rx="3.9" ry="4.3" transform="rotate(-6 158.8 688.1)" fill="rgb(8,12,134)" opacity="0.94"/>
<ellipse cx="167.7" cy="685.9" rx="3.8" ry="4.1" transform="rotate(13 167.7 685.9)" fill="rgb(11,17,192)" opacity="0.92"/>
<ellipse cx="173.9" cy="690.0" rx="2.7" ry="3.7" transform="rotate(44 173.9 690.0)" fill="rgb(5,8,99)" opacity="0.92"/>
<ellipse cx="182.4" cy="687.8" rx="3.6" ry="3.9" transform="rotate(-3 182.4 687.8)" fill="rgb(9,13,151)" opacity="0.85"/>
<ellipse cx="189.5" cy="685.3" rx="3.5" ry="4.5" transform="rotate(-40 189.5 685.3)" fill="rgb(9,14,163)" opacity="0.62"/>
<ellipse cx="192.8" cy="687.5" rx="3.8" ry="3.8" transform="rotate(20 192.8 687.5)" fill="rgb(8,12,141)" opacity="0.59"/>
<ellipse cx="203.0" cy="686.1" rx="2.6" ry="4.5" transform="rotate(-38 203.0 686.1)" fill="rgb(8,13,145)" opacity="0.79"/>
<ellipse cx="219.0" cy="686.3" rx="3.8" ry="3.8" transform="rotate(-8 219.0 686.3)" fill="rgb(6,9,105)" opacity="0.72"/>
<ellipse cx="226.2" cy="685.3" rx="3.6" ry="4.5" transform="rotate(-50 226.2 685.3)" fill="rgb(10,15,174)" opacity="0.89"/>
<ellipse cx="243.5" cy="689.3" rx="3.7" ry="3.8" transform="rotate(-1 243.5 689.3)" fill="rgb(7,11,129)" opacity="0.55"/>
<ellipse cx="84.3" cy="693.1" rx="3.5" ry="4.3" transform="rotate(24 84.3 693.1)" fill="rgb(5,8,89)" opacity="0.67"/>
<ellipse cx="111.1" cy="691.6" rx="3.6" ry="3.7" transform="rotate(-4 111.1 691.6)" fill="rgb(7,11,130)" opacity="0.73"/>
<ellipse cx="152.5" cy="691.7" rx="2.7" ry="4.1" transform="rotate(-41 152.5 691.7)" fill="rgb(7,11,132)" opacity="0.72"/>
<ellipse cx="160.0" cy="696.2" rx="2.8" ry="4.8" transform="rotate(39 160.0 696.2)" fill="rgb(8,13,145)" opacity="0.83"/>
<ellipse cx="166.3" cy="694.0" rx="3.1" ry="3.6" transform="rotate(-4 166.3 694.0)" fill="rgb(8,13,148)" opacity="0.89"/>
<ellipse cx="184.8" cy="696.7" rx="3.5" ry="4.4" transform="rotate(38 184.8 696.7)" fill="rgb(4,7,80)" opacity="0.84"/>
<ellipse cx="188.4" cy="692.6" rx="2.9" ry="4.5" transform="rotate(27 188.4 692.6)" fill="rgb(9,14,159)" opacity="0.89"/>
<ellipse cx="194.7" cy="691.9" rx="3.0" ry="3.8" transform="rotate(-21 194.7 691.9)" fill="rgb(11,16,188)" opacity="0.55"/>
<ellipse cx="200.0" cy="694.2" rx="2.5" ry="4.3" transform="rotate(46 200.0 694.2)" fill="rgb(9,14,159)" opacity="0.92"/>
<ellipse cx="206.4" cy="692.3" rx="2.6" ry="4.4" transform="rotate(26 206.4 692.3)" fill="rgb(6,9,111)" opacity="0.74"/>
<ellipse cx="223.7" cy="694.9" rx="3.1" ry="4.2" transform="rotate(32 223.7 694.9)" fill="rgb(8,13,146)" opacity="0.88"/>
<ellipse cx="226.9" cy="694.9" rx="3.5" ry="4.3" transform="rotate(-41 226.9 694.9)" fill="rgb(10,15,175)" opacity="0.84"/>
<ellipse cx="245.4" cy="693.4" rx="2.7" ry="4.3" transform="rotate(-42 245.4 693.4)" fill="rgb(5,7,85)" opacity="0.80"/>
<ellipse cx="247.2" cy="694.8" rx="3.2" ry="3.8" transform="rotate(-22 247.2 694.8)" fill="rgb(4,6,73)" opacity="0.73"/>
<ellipse cx="55.9" cy="702.7" rx="2.9" ry="3.7" transform="rotate(-20 55.9 702.7)" fill="rgb(9,14,162)" opacity="0.59"/>
<ellipse cx="64.6" cy="704.6" rx="3.0" ry="3.9" transform="rotate(18 64.6 704.6)" fill="rgb(7,10,118)" opacity="0.73"/>
<ellipse cx="69.7" cy="704.0" rx="3.5" ry="4.2" transform="rotate(37 69.7 704.0)" fill="rgb(9,14,158)" opacity="0.66"/>
<ellipse cx="100.6" cy="700.9" rx="2.7" ry="4.2" transform="rotate(38 100.6 700.9)" fill="rgb(8,12,142)" opacity="0.67"/>
<ellipse cx="130.0" cy="698.6" rx="3.4" ry="4.0" transform="rotate(16 130.0 698.6)" fill="rgb(10,15,175)" opacity="0.61"/>
<ellipse cx="153.3" cy="702.4" rx="3.8" ry="4.1" transform="rotate(28 153.3 702.4)" fill="rgb(8,12,141)" opacity="0.93"/>
<ellipse cx="176.6" cy="701.2" rx="2.8" ry="4.1" transform="rotate(43 176.6 701.2)" fill="rgb(6,10,116)" opacity="0.80"/>
<ellipse cx="181.5" cy="702.3" rx="2.9" ry="3.6" transform="rotate(32 181.5 702.3)" fill="rgb(9,14,159)" opacity="0.81"/>
<ellipse cx="187.0" cy="701.5" rx="3.2" ry="4.7" transform="rotate(28 187.0 701.5)" fill="rgb(7,11,129)" opacity="0.79"/>
<ellipse cx="193.3" cy="704.5" rx="3.2" ry="3.9" transform="rotate(3 193.3 704.5)" fill="rgb(10,15,176)" opacity="0.57"/>
<ellipse cx="207.4" cy="701.2" rx="2.7" ry="3.8" transform="rotate(48 207.4 701.2)" fill="rgb(7,11,130)" opacity="0.58"/>
<ellipse cx="228.1" cy="699.3" rx="2.6" ry="3.8" transform="rotate(22 228.1 699.3)" fill="rgb(10,15,169)" opacity="0.75"/>
<ellipse cx="253.1" cy="701.9" rx="3.3" ry="4.0" transform="rotate(-46 253.1 701.9)" fill="rgb(8,12,139)" opacity="0.60"/>
<ellipse cx="55.9" cy="706.6" rx="3.9" ry="4.2" transform="rotate(34 55.9 706.6)" fill="rgb(10,15,176)" opacity="0.85"/>
<ellipse cx="66.3" cy="707.1" rx="3.0" ry="4.4" transform="rotate(36 66.3 707.1)" fill="rgb(8,12,140)" opacity="0.61"/>
<ellipse cx="69.1" cy="708.9" rx="2.5" ry="4.0" transform="rotate(-27 69.1 708.9)" fill="rgb(5,8,99)" opacity="0.63"/>
<ellipse cx="80.4" cy="708.9" rx="3.6" ry="3.9" transform="rotate(42 80.4 708.9)" fill="rgb(10,15,171)" opacity="0.83"/>
<ellipse cx="93.9" cy="709.7" rx="2.8" ry="4.2" transform="rotate(5 93.9 709.7)" fill="rgb(10,15,168)" opacity="0.59"/>
<ellipse cx="106.8" cy="710.7" rx="3.3" ry="4.4" transform="rotate(16 106.8 710.7)" fill="rgb(7,10,119)" opacity="0.74"/>
<ellipse cx="114.2" cy="709.3" rx="3.2" ry="4.3" transform="rotate(-31 114.2 709.3)" fill="rgb(9,14,161)" opacity="0.59"/>
<ellipse cx="125.8" cy="705.2" rx="2.8" ry="4.1" transform="rotate(41 125.8 705.2)" fill="rgb(9,14,164)" opacity="0.83"/>
<ellipse cx="134.9" cy="705.1" rx="2.9" ry="4.7" transform="rotate(-6 134.9 705.1)" fill="rgb(8,13,149)" opacity="0.65"/>
<ellipse cx="140.7" cy="708.3" rx="3.5" ry="4.5" transform="rotate(-2 140.7 708.3)" fill="rgb(3,5,65)" opacity="0.93"/>
<ellipse cx="155.7" cy="707.2" rx="3.0" ry="4.4" transform="rotate(11 155.7 707.2)" fill="rgb(7,11,126)" opacity="0.82"/>
<ellipse cx="164.3" cy="709.8" rx="3.5" ry="3.9" transform="rotate(11 164.3 709.8)" fill="rgb(7,11,131)" opacity="0.85"/>
<ellipse cx="166.4" cy="708.3" rx="3.6" ry="4.6" transform="rotate(-3 166.4 708.3)" fill="rgb(7,11,132)" opacity="0.93"/>
<ellipse cx="185.9" cy="710.3" rx="3.3" ry="4.6" transform="rotate(36 185.9 710.3)" fill="rgb(10,15,169)" opacity="0.80"/>
<ellipse cx="204.7" cy="705.4" rx="3.8" ry="4.8" transform="rotate(26 204.7 705.4)" fill="rgb(10,16,178)" opacity="0.68"/>
<ellipse cx="211.1" cy="708.6" rx="3.4" ry="4.7" transform="rotate(21 211.1 708.6)" fill="rgb(11,16,187)" opacity="0.75"/>
<ellipse cx="217.2" cy="708.8" rx="3.9" ry="4.0" transform="rotate(-0 217.2 708.8)" fill="rgb(7,11,133)" opacity="0.57"/>
<ellipse cx="220.8" cy="711.3" rx="2.9" ry="4.6" transform="rotate(-26 220.8 711.3)" fill="rgb(6,10,116)" opacity="0.91"/>
<ellipse cx="229.6" cy="707.2" rx="3.0" ry="3.6" transform="rotate(-38 229.6 707.2)" fill="rgb(5,8,96)" opacity="0.61"/>
<ellipse cx="242.5" cy="706.6" rx="3.4" ry="4.2" transform="rotate(-38 242.5 706.6)" fill="rgb(6,9,110)" opacity="0.61"/>
<ellipse cx="252.3" cy="705.7" rx="3.6" ry="4.3" transform="rotate(37 252.3 705.7)" fill="rgb(8,12,137)" opacity="0.68"/>
<ellipse cx="65.1" cy="711.8" rx="3.9" ry="4.5" transform="rotate(24 65.1 711.8)" fill="rgb(7,11,133)" opacity="0.67"/>
<ellipse cx="84.8" cy="712.3" rx="3.3" ry="4.2" transform="rotate(-19 84.8 712.3)" fill="rgb(7,11,127)" opacity="0.93"/>
<ellipse cx="98.1" cy="714.7" rx="2.9" ry="4.9" transform="rotate(12 98.1 714.7)" fill="rgb(4,6,72)" opacity="0.82"/>
<ellipse cx="106.8" cy="714.3" rx="2.6" ry="3.8" transform="rotate(-9 106.8 714.3)" fill="rgb(7,11,123)" opacity="0.55"/>
<ellipse cx="114.7" cy="714.1" rx="3.0" ry="4.2" transform="rotate(-29 114.7 714.1)" fill="rgb(9,14,159)" opacity="0.58"/>
<ellipse cx="125.8" cy="716.7" rx="3.8" ry="4.8" transform="rotate(16 125.8 716.7)" fill="rgb(5,8,95)" opacity="0.57"/>
<ellipse cx="138.9" cy="713.4" rx="3.3" ry="3.8" transform="rotate(-5 138.9 713.4)" fill="rgb(12,18,200)" opacity="0.75"/>
<ellipse cx="160.0" cy="718.5" rx="3.9" ry="4.7" transform="rotate(43 160.0 718.5)" fill="rgb(5,8,89)" opacity="0.84"/>
<ellipse cx="165.3" cy="713.7" rx="3.8" ry="4.5" transform="rotate(-46 165.3 713.7)" fill="rgb(7,10,120)" opacity="0.62"/>
<ellipse cx="173.2" cy="715.3" rx="2.9" ry="4.1" transform="rotate(45 173.2 715.3)" fill="rgb(10,15,172)" opacity="0.79"/>
<ellipse cx="183.6" cy="718.2" rx="3.8" ry="3.7" transform="rotate(-30 183.6 718.2)" fill="rgb(8,12,137)" opacity="0.80"/>
<ellipse cx="188.6" cy="716.7" rx="2.8" ry="3.9" transform="rotate(-39 188.6 716.7)" fill="rgb(4,6,75)" opacity="0.56"/>
<ellipse cx="198.7" cy="718.3" rx="3.1" ry="4.0" transform="rotate(28 198.7 718.3)" fill="rgb(7,10,117)" opacity="0.90"/>
<ellipse cx="205.4" cy="712.1" rx="2.8" ry="4.4" transform="rotate(-14 205.4 712.1)" fill="rgb(8,12,143)" opacity="0.67"/>
<ellipse cx="207.9" cy="715.9" rx="3.2" ry="4.5" transform="rotate(-3 207.9 715.9)" fill="rgb(10,16,182)" opacity="0.87"/>
<ellipse cx="219.1" cy="716.0" rx="3.7" ry="4.5" transform="rotate(-31 219.1 716.0)" fill="rgb(7,11,127)" opacity="0.72"/>
<ellipse cx="220.6" cy="711.9" rx="3.0" ry="3.9" transform="rotate(-47 220.6 711.9)" fill="rgb(12,18,201)" opacity="0.69"/>
<ellipse cx="241.3" cy="715.8" rx="2.9" ry="4.7" transform="rotate(11 241.3 715.8)" fill="rgb(9,13,150)" opacity="0.83"/>
<ellipse cx="247.8" cy="717.5" rx="3.4" ry="4.5" transform="rotate(-18 247.8 717.5)" fill="rgb(8,12,138)" opacity="0.94"/>
<ellipse cx="66.7" cy="720.4" rx="2.7" ry="4.3" transform="rotate(10 66.7 720.4)" fill="rgb(10,15,167)" opacity="0.94"/>
<ellipse cx="107.2" cy="719.4" rx="3.6" ry="4.0" transform="rotate(-37 107.2 719.4)" fill="rgb(9,14,158)" opacity="0.86"/>
<ellipse cx="139.0" cy="723.6" rx="3.4" ry="4.0" transform="rotate(-27 139.0 723.6)" fill="rgb(4,6,71)" opacity="0.77"/>
<ellipse cx="154.6" cy="723.1" rx="3.1" ry="3.9" transform="rotate(18 154.6 723.1)" fill="rgb(7,11,133)" opacity="0.62"/>
<ellipse cx="160.4" cy="723.3" rx="3.2" ry="4.6" transform="rotate(-17 160.4 723.3)" fill="rgb(8,13,149)" opacity="0.69"/>
<ellipse cx="170.0" cy="723.3" rx="3.8" ry="3.6" transform="rotate(4 170.0 723.3)" fill="rgb(11,17,193)" opacity="0.63"/>
<ellipse cx="180.7" cy="723.2" rx="3.9" ry="4.0" transform="rotate(-11 180.7 723.2)" fill="rgb(4,7,78)" opacity="0.60"/>
<ellipse cx="202.4" cy="723.8" rx="2.9" ry="4.1" transform="rotate(48 202.4 723.8)" fill="rgb(10,15,172)" opacity="0.90"/>
<ellipse cx="218.9" cy="722.7" rx="3.4" ry="4.8" transform="rotate(9 218.9 722.7)" fill="rgb(13,20,223)" opacity="0.61"/>
<ellipse cx="220.9" cy="722.9" rx="2.5" ry="4.1" transform="rotate(-24 220.9 722.9)" fill="rgb(7,11,126)" opacity="0.77"/>
<ellipse cx="231.0" cy="720.8" rx="3.3" ry="4.6" transform="rotate(8 231.0 720.8)" fill="rgb(8,12,142)" opacity="0.81"/>
<ellipse cx="237.1" cy="724.2" rx="2.7" ry="4.7" transform="rotate(33 237.1 724.2)" fill="rgb(13,20,226)" opacity="0.79"/>
<ellipse cx="245.9" cy="723.4" rx="2.7" ry="4.6" transform="rotate(21 245.9 723.4)" fill="rgb(8,13,146)" opacity="0.74"/>
<ellipse cx="68.9" cy="726.7" rx="3.6" ry="4.1" transform="rotate(-3 68.9 726.7)" fill="rgb(7,10,119)" opacity="0.79"/>
<ellipse cx="78.8" cy="731.6" rx="3.8" ry="3.9" transform="rotate(-16 78.8 731.6)" fill="rgb(6,9,102)" opacity="0.59"/>
<ellipse cx="84.9" cy="732.2" rx="3.7" ry="4.8" transform="rotate(20 84.9 732.2)" fill="rgb(8,13,149)" opacity="0.62"/>
<ellipse cx="91.3" cy="727.8" rx="3.5" ry="4.3" transform="rotate(-21 91.3 727.8)" fill="rgb(10,15,170)" opacity="0.65"/>
<ellipse cx="97.4" cy="726.2" rx="2.6" ry="4.3" transform="rotate(-24 97.4 726.2)" fill="rgb(8,12,136)" opacity="0.89"/>
<ellipse cx="109.7" cy="731.8" rx="3.9" ry="4.2" transform="rotate(38 109.7 731.8)" fill="rgb(6,9,100)" opacity="0.74"/>
<ellipse cx="126.7" cy="725.7" rx="3.1" ry="4.1" transform="rotate(8 126.7 725.7)" fill="rgb(10,15,176)" opacity="0.91"/>
<ellipse cx="154.9" cy="729.6" rx="3.5" ry="4.2" transform="rotate(44 154.9 729.6)" fill="rgb(8,12,143)" opacity="0.95"/>
<ellipse cx="164.8" cy="732.0" rx="2.6" ry="4.0" transform="rotate(33 164.8 732.0)" fill="rgb(6,10,113)" opacity="0.59"/>
<ellipse cx="166.5" cy="726.3" rx="3.6" ry="3.8" transform="rotate(-33 166.5 726.3)" fill="rgb(7,11,130)" opacity="0.80"/>
<ellipse cx="172.6" cy="731.2" rx="3.8" ry="4.5" transform="rotate(23 172.6 731.2)" fill="rgb(8,12,137)" opacity="0.70"/>
<ellipse cx="181.2" cy="731.7" rx="3.7" ry="4.4" transform="rotate(-42 181.2 731.7)" fill="rgb(10,16,183)" opacity="0.63"/>
<ellipse cx="189.3" cy="730.9" rx="2.9" ry="4.1" transform="rotate(-4 189.3 730.9)" fill="rgb(3,5,62)" opacity="0.79"/>
<ellipse cx="194.1" cy="727.8" rx="2.8" ry="4.1" transform="rotate(-44 194.1 727.8)" fill="rgb(11,16,185)" opacity="0.81"/>
<ellipse cx="205.0" cy="731.6" rx="3.1" ry="4.3" transform="rotate(6 205.0 731.6)" fill="rgb(9,14,164)" opacity="0.75"/>
<ellipse cx="217.1" cy="727.7" rx="3.4" ry="4.3" transform="rotate(-20 217.1 727.7)" fill="rgb(11,16,186)" opacity="0.74"/>
<ellipse cx="228.9" cy="729.1" rx="3.5" ry="3.9" transform="rotate(-25 228.9 729.1)" fill="rgb(9,14,161)" opacity="0.82"/>
<ellipse cx="235.0" cy="728.8" rx="2.9" ry="3.8" transform="rotate(46 235.0 728.8)" fill="rgb(7,11,131)" opacity="0.57"/>
<ellipse cx="241.0" cy="730.5" rx="2.8" ry="4.6" transform="rotate(48 241.0 730.5)" fill="rgb(9,14,158)" opacity="0.71"/>
<ellipse cx="59.9" cy="733.2" rx="3.5" ry="3.8" transform="rotate(-41 59.9 733.2)" fill="rgb(11,17,192)" opacity="0.95"/>
<ellipse cx="68.5" cy="736.8" rx="3.5" ry="4.8" transform="rotate(28 68.5 736.8)" fill="rgb(7,10,122)" opacity="0.80"/>
<ellipse cx="75.4" cy="735.7" rx="2.7" ry="4.8" transform="rotate(21 75.4 735.7)" fill="rgb(5,8,89)" opacity="0.92"/>
<ellipse cx="85.7" cy="735.5" rx="3.6" ry="4.6" transform="rotate(23 85.7 735.5)" fill="rgb(5,8,89)" opacity="0.71"/>
<ellipse cx="103.0" cy="737.8" rx="3.5" ry="4.6" transform="rotate(-16 103.0 737.8)" fill="rgb(9,13,151)" opacity="0.91"/>
<ellipse cx="125.5" cy="737.8" rx="2.8" ry="4.6" transform="rotate(8 125.5 737.8)" fill="rgb(8,13,145)" opacity="0.75"/>
<ellipse cx="135.2" cy="739.0" rx="3.3" ry="4.3" transform="rotate(-21 135.2 739.0)" fill="rgb(12,19,215)" opacity="0.76"/>
<ellipse cx="144.1" cy="737.1" rx="3.5" ry="4.4" transform="rotate(-13 144.1 737.1)" fill="rgb(6,10,113)" opacity="0.86"/>
<ellipse cx="147.0" cy="737.9" rx="2.8" ry="4.0" transform="rotate(-37 147.0 737.9)" fill="rgb(5,8,97)" opacity="0.90"/>
<ellipse cx="158.0" cy="735.1" rx="3.8" ry="4.7" transform="rotate(-26 158.0 735.1)" fill="rgb(7,11,125)" opacity="0.60"/>
<ellipse cx="159.4" cy="735.0" rx="2.7" ry="4.4" transform="rotate(-20 159.4 735.0)" fill="rgb(11,16,186)" opacity="0.92"/>
<ellipse cx="171.4" cy="736.9" rx="3.6" ry="4.0" transform="rotate(37 171.4 736.9)" fill="rgb(5,7,87)" opacity="0.85"/>
<ellipse cx="176.5" cy="737.4" rx="2.7" ry="4.1" transform="rotate(46 176.5 737.4)" fill="rgb(10,15,170)" opacity="0.56"/>
<ellipse cx="180.4" cy="734.4" rx="3.8" ry="3.8" transform="rotate(-40 180.4 734.4)" fill="rgb(10,16,178)" opacity="0.84"/>
<ellipse cx="188.4" cy="736.7" rx="3.0" ry="4.1" transform="rotate(-46 188.4 736.7)" fill="rgb(8,13,146)" opacity="0.93"/>
<ellipse cx="197.2" cy="733.0" rx="3.6" ry="4.2" transform="rotate(25 197.2 733.0)" fill="rgb(8,12,142)" opacity="0.88"/>
<ellipse cx="211.4" cy="734.4" rx="3.6" ry="4.0" transform="rotate(-6 211.4 734.4)" fill="rgb(7,10,119)" opacity="0.95"/>
<ellipse cx="226.4" cy="734.0" rx="3.2" ry="3.8" transform="rotate(42 226.4 734.0)" fill="rgb(4,6,72)" opacity="0.75"/>
<ellipse cx="229.8" cy="738.8" rx="2.8" ry="4.7" transform="rotate(9 229.8 738.8)" fill="rgb(6,9,108)" opacity="0.86"/>
<ellipse cx="240.0" cy="737.6" rx="3.6" ry="4.3" transform="rotate(-28 240.0 737.6)" fill="rgb(6,9,100)" opacity="0.76"/>
<ellipse cx="251.2" cy="735.7" rx="3.4" ry="4.4" transform="rotate(-1 251.2 735.7)" fill="rgb(13,20,223)" opacity="0.91"/>
<ellipse cx="85.5" cy="739.3" rx="3.4" ry="4.5" transform="rotate(-15 85.5 739.3)" fill="rgb(6,10,112)" opacity="0.81"/>
<ellipse cx="94.9" cy="744.5" rx="3.3" ry="3.6" transform="rotate(-23 94.9 744.5)" fill="rgb(7,10,118)" opacity="0.71"/>
<ellipse cx="116.0" cy="743.5" rx="3.1" ry="4.8" transform="rotate(45 116.0 743.5)" fill="rgb(10,15,174)" opacity="0.81"/>
<ellipse cx="119.3" cy="743.9" rx="3.6" ry="4.3" transform="rotate(9 119.3 743.9)" fill="rgb(11,17,192)" opacity="0.57"/>
<ellipse cx="132.6" cy="744.1" rx="3.3" ry="4.0" transform="rotate(-3 132.6 744.1)" fill="rgb(7,11,128)" opacity="0.72"/>
<ellipse cx="139.1" cy="740.3" rx="2.7" ry="3.6" transform="rotate(47 139.1 740.3)" fill="rgb(8,13,146)" opacity="0.57"/>
<ellipse cx="150.4" cy="742.0" rx="3.1" ry="4.2" transform="rotate(-44 150.4 742.0)" fill="rgb(7,11,127)" opacity="0.67"/>
<ellipse cx="156.0" cy="744.9" rx="3.1" ry="4.8" transform="rotate(-18 156.0 744.9)" fill="rgb(8,12,140)" opacity="0.60"/>
<ellipse cx="159.7" cy="745.1" rx="3.5" ry="4.8" transform="rotate(12 159.7 745.1)" fill="rgb(9,14,156)" opacity="0.68"/>
<ellipse cx="182.0" cy="740.5" rx="2.9" ry="3.9" transform="rotate(-11 182.0 740.5)" fill="rgb(11,16,185)" opacity="0.74"/>
<ellipse cx="195.7" cy="741.7" rx="3.5" ry="4.2" transform="rotate(-10 195.7 741.7)" fill="rgb(6,10,113)" opacity="0.82"/>
<ellipse cx="201.9" cy="744.0" rx="3.4" ry="3.8" transform="rotate(-1 201.9 744.0)" fill="rgb(7,11,126)" opacity="0.75"/>
<ellipse cx="206.0" cy="740.0" rx="3.6" ry="4.6" transform="rotate(34 206.0 740.0)" fill="rgb(10,16,178)" opacity="0.63"/>
<ellipse cx="220.8" cy="741.3" rx="3.8" ry="3.9" transform="rotate(-26 220.8 741.3)" fill="rgb(2,3,44)" opacity="0.79"/>
<ellipse cx="231.2" cy="739.4" rx="3.3" ry="4.3" transform="rotate(2 231.2 739.4)" fill="rgb(9,14,163)" opacity="0.89"/>
<ellipse cx="235.5" cy="739.4" rx="2.6" ry="4.4" transform="rotate(-2 235.5 739.4)" fill="rgb(4,6,70)" opacity="0.85"/>
<ellipse cx="245.8" cy="744.2" rx="3.0" ry="4.5" transform="rotate(14 245.8 744.2)" fill="rgb(9,14,157)" opacity="0.74"/>
<ellipse cx="65.8" cy="750.0" rx="2.9" ry="4.6" transform="rotate(42 65.8 750.0)" fill="rgb(12,18,211)" opacity="0.56"/>
<ellipse cx="69.3" cy="749.2" rx="3.2" ry="4.0" transform="rotate(-26 69.3 749.2)" fill="rgb(8,12,140)" opacity="0.92"/>
<ellipse cx="88.0" cy="748.9" rx="3.1" ry="4.3" transform="rotate(47 88.0 748.9)" fill="rgb(4,7,79)" opacity="0.81"/>
<ellipse cx="95.4" cy="751.7" rx="3.2" ry="4.7" transform="rotate(22 95.4 751.7)" fill="rgb(6,9,111)" opacity="0.84"/>
<ellipse cx="98.4" cy="747.8" rx="3.5" ry="4.4" transform="rotate(44 98.4 747.8)" fill="rgb(8,13,147)" opacity="0.79"/>
<ellipse cx="106.6" cy="752.0" rx="3.4" ry="4.8" transform="rotate(-17 106.6 752.0)" fill="rgb(8,12,143)" opacity="0.56"/>
<ellipse cx="122.7" cy="746.2" rx="2.9" ry="3.9" transform="rotate(-47 122.7 746.2)" fill="rgb(8,13,148)" opacity="0.65"/>
<ellipse cx="126.1" cy="749.1" rx="3.9" ry="3.7" transform="rotate(-37 126.1 749.1)" fill="rgb(9,14,159)" opacity="0.77"/>
<ellipse cx="141.4" cy="746.6" rx="3.5" ry="4.3" transform="rotate(-22 141.4 746.6)" fill="rgb(6,10,113)" opacity="0.71"/>
<ellipse cx="153.8" cy="749.2" rx="3.5" ry="4.1" transform="rotate(-11 153.8 749.2)" fill="rgb(8,12,136)" opacity="0.58"/>
<ellipse cx="162.4" cy="751.0" rx="3.0" ry="4.7" transform="rotate(1 162.4 751.0)" fill="rgb(6,9,108)" opacity="0.71"/>
<ellipse cx="165.7" cy="748.0" rx="3.8" ry="4.4" transform="rotate(47 165.7 748.0)" fill="rgb(7,11,129)" opacity="0.69"/>
<ellipse cx="174.2" cy="746.4" rx="3.8" ry="4.7" transform="rotate(-37 174.2 746.4)" fill="rgb(9,13,150)" opacity="0.58"/>
<ellipse cx="185.2" cy="747.1" rx="2.8" ry="3.9" transform="rotate(-47 185.2 747.1)" fill="rgb(4,6,74)" opacity="0.58"/>
<ellipse cx="198.4" cy="752.0" rx="2.7" ry="4.5" transform="rotate(-43 198.4 752.0)" fill="rgb(9,14,158)" opacity="0.86"/>
<ellipse cx="201.1" cy="752.1" rx="3.6" ry="4.2" transform="rotate(-26 201.1 752.1)" fill="rgb(5,8,99)" opacity="0.61"/>
<ellipse cx="209.6" cy="749.6" rx="3.0" ry="4.4" transform="rotate(-30 209.6 749.6)" fill="rgb(8,12,144)" opacity="0.76"/>
<ellipse cx="214.3" cy="751.4" rx="2.9" ry="3.7" transform="rotate(-20 214.3 751.4)" fill="rgb(6,10,114)" opacity="0.60"/>
<ellipse cx="225.7" cy="748.1" rx="3.1" ry="4.7" transform="rotate(25 225.7 748.1)" fill="rgb(8,12,134)" opacity="0.91"/>
<ellipse cx="230.1" cy="748.3" rx="2.6" ry="4.5" transform="rotate(34 230.1 748.3)" fill="rgb(12,18,206)" opacity="0.81"/>
<ellipse cx="238.7" cy="748.0" rx="2.8" ry="4.8" transform="rotate(1 238.7 748.0)" fill="rgb(6,9,103)" opacity="0.62"/>
<ellipse cx="246.8" cy="750.2" rx="3.7" ry="4.4" transform="rotate(12 246.8 750.2)" fill="rgb(10,15,167)" opacity="0.66"/>
<ellipse cx="250.8" cy="747.4" rx="3.2" ry="3.9" transform="rotate(-38 250.8 747.4)" fill="rgb(7,10,117)" opacity="0.61"/>
<ellipse cx="77.7" cy="757.1" rx="2.6" ry="4.3" transform="rotate(30 77.7 757.1)" fill="rgb(9,14,163)" opacity="0.91"/>
<ellipse cx="102.1" cy="754.3" rx="3.6" ry="4.7" transform="rotate(-27 102.1 754.3)" fill="rgb(6,9,105)" opacity="0.77"/>
<ellipse cx="112.0" cy="758.2" rx="2.7" ry="4.8" transform="rotate(-35 112.0 758.2)" fill="rgb(8,12,139)" opacity="0.69"/>
<ellipse cx="125.5" cy="757.7" rx="2.5" ry="3.6" transform="rotate(-38 125.5 757.7)" fill="rgb(8,12,137)" opacity="0.93"/>
<ellipse cx="133.7" cy="754.5" rx="3.4" ry="4.0" transform="rotate(-32 133.7 754.5)" fill="rgb(4,6,73)" opacity="0.69"/>
<ellipse cx="141.3" cy="754.1" rx="2.6" ry="4.8" transform="rotate(43 141.3 754.1)" fill="rgb(9,14,156)" opacity="0.78"/>
<ellipse cx="155.1" cy="757.7" rx="3.1" ry="4.5" transform="rotate(-32 155.1 757.7)" fill="rgb(7,11,125)" opacity="0.63"/>
<ellipse cx="165.2" cy="759.1" rx="3.6" ry="3.7" transform="rotate(10 165.2 759.1)" fill="rgb(9,14,166)" opacity="0.87"/>
<ellipse cx="173.6" cy="753.5" rx="3.6" ry="4.6" transform="rotate(-44 173.6 753.5)" fill="rgb(6,9,102)" opacity="0.67"/>
<ellipse cx="205.3" cy="758.2" rx="3.1" ry="4.8" transform="rotate(49 205.3 758.2)" fill="rgb(13,19,221)" opacity="0.87"/>
<ellipse cx="216.1" cy="753.7" rx="2.7" ry="4.0" transform="rotate(7 216.1 753.7)" fill="rgb(5,7,84)" opacity="0.88"/>
<ellipse cx="245.7" cy="755.0" rx="3.9" ry="3.6" transform="rotate(-38 245.7 755.0)" fill="rgb(8,12,141)" opacity="0.90"/>
<ellipse cx="58.4" cy="760.6" rx="3.6" ry="4.4" transform="rotate(-0 58.4 760.6)" fill="rgb(15,22,255)" opacity="0.58"/>
<ellipse cx="86.5" cy="763.3" rx="3.6" ry="3.7" transform="rotate(-40 86.5 763.3)" fill="rgb(8,12,141)" opacity="0.80"/>
<ellipse cx="89.9" cy="765.6" rx="3.2" ry="3.9" transform="rotate(-2 89.9 765.6)" fill="rgb(6,10,112)" opacity="0.77"/>
<ellipse cx="103.1" cy="760.7" rx="2.8" ry="3.7" transform="rotate(-49 103.1 760.7)" fill="rgb(6,10,114)" opacity="0.93"/>
<ellipse cx="128.6" cy="761.3" rx="3.4" ry="4.0" transform="rotate(11 128.6 761.3)" fill="rgb(7,11,131)" opacity="0.84"/>
<ellipse cx="137.3" cy="762.4" rx="3.0" ry="4.7" transform="rotate(-28 137.3 762.4)" fill="rgb(7,10,121)" opacity="0.59"/>
<ellipse cx="140.9" cy="762.7" rx="2.8" ry="4.8" transform="rotate(3 140.9 762.7)" fill="rgb(4,7,81)" opacity="0.57"/>
<ellipse cx="150.6" cy="765.4" rx="3.2" ry="3.6" transform="rotate(29 150.6 765.4)" fill="rgb(10,15,174)" opacity="0.94"/>
<ellipse cx="155.2" cy="766.4" rx="3.8" ry="4.7" transform="rotate(43 155.2 766.4)" fill="rgb(5,8,95)" opacity="0.56"/>
<ellipse cx="164.5" cy="760.3" rx="3.4" ry="3.8" transform="rotate(-15 164.5 760.3)" fill="rgb(9,13,153)" opacity="0.67"/>
<ellipse cx="164.9" cy="762.4" rx="3.6" ry="4.5" transform="rotate(45 164.9 762.4)" fill="rgb(9,14,163)" opacity="0.79"/>
<ellipse cx="176.4" cy="765.1" rx="3.0" ry="4.4" transform="rotate(-19 176.4 765.1)" fill="rgb(7,10,119)" opacity="0.92"/>
<ellipse cx="181.3" cy="764.5" rx="3.8" ry="4.8" transform="rotate(47 181.3 764.5)" fill="rgb(6,9,100)" opacity="0.94"/>
<ellipse cx="186.1" cy="760.2" rx="3.9" ry="3.6" transform="rotate(34 186.1 760.2)" fill="rgb(12,18,205)" opacity="0.81"/>
<ellipse cx="195.4" cy="760.6" rx="3.2" ry="3.9" transform="rotate(40 195.4 760.6)" fill="rgb(8,12,140)" opacity="0.80"/>
<ellipse cx="211.9" cy="760.0" rx="2.7" ry="4.5" transform="rotate(-42 211.9 760.0)" fill="rgb(7,10,117)" opacity="0.88"/>
<ellipse cx="225.5" cy="764.7" rx="3.3" ry="4.3" transform="rotate(-47 225.5 764.7)" fill="rgb(9,14,162)" opacity="0.72"/>
<ellipse cx="229.5" cy="765.4" rx="3.6" ry="4.6" transform="rotate(33 229.5 765.4)" fill="rgb(11,17,199)" opacity="0.64"/>
<ellipse cx="237.4" cy="762.9" rx="2.6" ry="3.8" transform="rotate(-25 237.4 762.9)" fill="rgb(9,14,156)" opacity="0.70"/>
<ellipse cx="244.2" cy="762.7" rx="2.9" ry="4.0" transform="rotate(46 244.2 762.7)" fill="rgb(4,6,73)" opacity="0.90"/>
<ellipse cx="66.4" cy="772.7" rx="3.8" ry="3.9" transform="rotate(-42 66.4 772.7)" fill="rgb(7,10,118)" opacity="0.87"/>
<ellipse cx="73.0" cy="773.1" rx="3.1" ry="4.3" transform="rotate(9 73.0 773.1)" fill="rgb(10,16,178)" opacity="0.83"/>
<ellipse cx="98.5" cy="767.1" rx="3.4" ry="4.3" transform="rotate(31 98.5 767.1)" fill="rgb(9,14,158)" opacity="0.67"/>
<ellipse cx="103.6" cy="767.8" rx="2.7" ry="3.6" transform="rotate(48 103.6 767.8)" fill="rgb(10,16,181)" opacity="0.69"/>
<ellipse cx="115.3" cy="769.4" rx="2.9" ry="4.8" transform="rotate(-29 115.3 769.4)" fill="rgb(11,17,199)" opacity="0.90"/>
<ellipse cx="127.7" cy="770.4" rx="3.9" ry="4.8" transform="rotate(45 127.7 770.4)" fill="rgb(6,10,114)" opacity="0.61"/>
<ellipse cx="134.2" cy="771.3" rx="3.8" ry="4.5" transform="rotate(-38 134.2 771.3)" fill="rgb(6,10,114)" opacity="0.90"/>
<ellipse cx="148.3" cy="769.0" rx="2.7" ry="3.6" transform="rotate(-7 148.3 769.0)" fill="rgb(11,17,189)" opacity="0.60"/>
<ellipse cx="152.5" cy="768.7" rx="2.8" ry="3.9" transform="rotate(48 152.5 768.7)" fill="rgb(4,7,82)" opacity="0.77"/>
<ellipse cx="173.9" cy="770.7" rx="3.9" ry="3.9" transform="rotate(50 173.9 770.7)" fill="rgb(10,15,167)" opacity="0.64"/>
<ellipse cx="180.8" cy="771.6" rx="2.8" ry="3.8" transform="rotate(38 180.8 771.6)" fill="rgb(9,13,154)" opacity="0.88"/>
<ellipse cx="188.7" cy="769.8" rx="3.9" ry="4.4" transform="rotate(17 188.7 769.8)" fill="rgb(11,16,188)" opacity="0.71"/>
<ellipse cx="197.0" cy="769.1" rx="3.0" ry="4.6" transform="rotate(36 197.0 769.1)" fill="rgb(4,7,83)" opacity="0.92"/>
<ellipse cx="203.5" cy="773.2" rx="3.8" ry="4.5" transform="rotate(7 203.5 773.2)" fill="rgb(8,12,136)" opacity="0.79"/>
<ellipse cx="207.0" cy="766.6" rx="3.8" ry="4.1" transform="rotate(10 207.0 766.6)" fill="rgb(3,5,65)" opacity="0.84"/>
<ellipse cx="215.3" cy="770.9" rx="3.9" ry="3.8" transform="rotate(41 215.3 770.9)" fill="rgb(10,15,171)" opacity="0.76"/>
<ellipse cx="220.5" cy="773.2" rx="3.5" ry="3.9" transform="rotate(-37 220.5 773.2)" fill="rgb(9,14,163)" opacity="0.91"/>
<ellipse cx="231.0" cy="770.9" rx="4.0" ry="4.0" transform="rotate(14 231.0 770.9)" fill="rgb(3,5,60)" opacity="0.56"/>
<ellipse cx="235.4" cy="770.1" rx="3.1" ry="4.1" transform="rotate(-48 235.4 770.1)" fill="rgb(7,10,119)" opacity="0.60"/>
<ellipse cx="249.7" cy="767.3" rx="3.4" ry="4.2" transform="rotate(47 249.7 767.3)" fill="rgb(6,10,112)" opacity="0.70"/>
<ellipse cx="59.0" cy="773.5" rx="2.8" ry="3.8" transform="rotate(-33 59.0 773.5)" fill="rgb(12,18,201)" opacity="0.78"/>
<ellipse cx="65.6" cy="777.2" rx="3.8" ry="4.5" transform="rotate(-7 65.6 777.2)" fill="rgb(11,16,188)" opacity="0.56"/>
<ellipse cx="76.1" cy="776.4" rx="3.1" ry="4.0" transform="rotate(44 76.1 776.4)" fill="rgb(11,17,196)" opacity="0.76"/>
<ellipse cx="89.3" cy="778.1" rx="2.7" ry="3.8" transform="rotate(-40 89.3 778.1)" fill="rgb(6,10,112)" opacity="0.71"/>
<ellipse cx="93.7" cy="774.8" rx="3.0" ry="4.2" transform="rotate(38 93.7 774.8)" fill="rgb(11,17,189)" opacity="0.65"/>
<ellipse cx="106.9" cy="774.9" rx="2.9" ry="4.6" transform="rotate(-26 106.9 774.9)" fill="rgb(5,7,85)" opacity="0.86"/>
<ellipse cx="111.4" cy="773.4" rx="3.8" ry="4.4" transform="rotate(-25 111.4 773.4)" fill="rgb(5,8,96)" opacity="0.81"/>
<ellipse cx="124.0" cy="774.3" rx="3.0" ry="4.3" transform="rotate(-0 124.0 774.3)" fill="rgb(7,11,130)" opacity="0.61"/>
<ellipse cx="136.3" cy="778.2" rx="2.8" ry="3.7" transform="rotate(1 136.3 778.2)" fill="rgb(5,8,90)" opacity="0.65"/>
<ellipse cx="143.4" cy="779.5" rx="2.7" ry="3.8" transform="rotate(22 143.4 779.5)" fill="rgb(4,7,83)" opacity="0.58"/>
<ellipse cx="148.6" cy="778.2" rx="2.7" ry="3.9" transform="rotate(-6 148.6 778.2)" fill="rgb(10,15,174)" opacity="0.71"/>
<ellipse cx="151.2" cy="777.0" rx="2.9" ry="4.8" transform="rotate(-21 151.2 777.0)" fill="rgb(4,6,74)" opacity="0.71"/>
<ellipse cx="162.6" cy="779.7" rx="3.4" ry="4.4" transform="rotate(-37 162.6 779.7)" fill="rgb(10,15,170)" opacity="0.69"/>
<ellipse cx="169.6" cy="780.0" rx="3.1" ry="4.9" transform="rotate(43 169.6 780.0)" fill="rgb(9,14,163)" opacity="0.73"/>
<ellipse cx="174.9" cy="776.9" rx="3.4" ry="4.5" transform="rotate(-2 174.9 776.9)" fill="rgb(3,5,66)" opacity="0.80"/>
<ellipse cx="192.7" cy="780.2" rx="3.8" ry="4.4" transform="rotate(28 192.7 780.2)" fill="rgb(5,8,97)" opacity="0.69"/>
<ellipse cx="201.0" cy="774.5" rx="2.7" ry="3.8" transform="rotate(32 201.0 774.5)" fill="rgb(3,5,65)" opacity="0.94"/>
<ellipse cx="220.4" cy="775.2" rx="2.7" ry="4.7" transform="rotate(25 220.4 775.2)" fill="rgb(7,11,123)" opacity="0.77"/>
<ellipse cx="243.2" cy="773.6" rx="2.6" ry="4.3" transform="rotate(-28 243.2 773.6)" fill="rgb(6,9,106)" opacity="0.83"/>
<ellipse cx="251.3" cy="775.7" rx="3.6" ry="3.7" transform="rotate(8 251.3 775.7)" fill="rgb(9,14,164)" opacity="0.84"/>
</g>
<ellipse cx="85.7" cy="654" rx="4.5" ry="4.5" fill="#1a62dc" filter="url(#bl2)" opacity="1"/>
<ellipse cx="80" cy="651" rx="3.0" ry="3.0" fill="#1a62dc" filter="url(#bl2)" opacity="1"/>
<ellipse cx="243.5" cy="652.5" rx="2.0" ry="3.4" fill="#3a98f8" filter="url(#bl1)" opacity="1"/>
<ellipse cx="78.4" cy="693.2" rx="2.5" ry="2.5" fill="#2fc4dc" filter="url(#bl08)" opacity="1"/>
<ellipse cx="76.4" cy="692.8" rx="2.1" ry="2.1" fill="#2fc4dc" filter="url(#bl08)" opacity="1"/>
<ellipse cx="75.0" cy="688.8" rx="1.6" ry="1.6" fill="#2fc4dc" filter="url(#bl08)" opacity="1"/>
<ellipse cx="79.3" cy="691.5" rx="2.1" ry="2.1" fill="#2fc4dc" filter="url(#bl08)" opacity="1"/>
<ellipse cx="76.5" cy="690.9" rx="2.1" ry="2.1" fill="#2fc4dc" filter="url(#bl08)" opacity="1"/>
<ellipse cx="97.3" cy="682.3" rx="1.0" ry="1.0" fill="#2fc4dc" filter="url(#bl08)" opacity="1"/>
<ellipse cx="96.6" cy="684.0" rx="1.7" ry="1.7" fill="#2fc4dc" filter="url(#bl08)" opacity="1"/>
<ellipse cx="115.3" cy="693.6" rx="1.8" ry="1.8" fill="#2fc4dc" filter="url(#bl08)" opacity="1"/>
<ellipse cx="113.8" cy="690.9" rx="1.4" ry="1.4" fill="#2fc4dc" filter="url(#bl08)" opacity="1"/>
<ellipse cx="117.7" cy="692.2" rx="1.7" ry="1.7" fill="#2fc4dc" filter="url(#bl08)" opacity="1"/>
<ellipse cx="115.6" cy="696.3" rx="1.9" ry="1.9" fill="#2fc4dc" filter="url(#bl08)" opacity="1"/>
<g filter="url(#bl1)" stroke="#38d0e0" stroke-width="2.8" stroke-linecap="round" fill="none"><path d="M126,692 L134,696 L141,693.5 M131,702 L134,696 L138,699 M143,699.5 L147,700.5 M151,702 L154,703"/></g>
<ellipse cx="134" cy="696" rx="2.0" ry="2.0" fill="#9ff0f0" filter="url(#bl05)" opacity="1"/>
<ellipse cx="72.9" cy="746.2" rx="2.1" ry="2.1" fill="#2fc4dc" filter="url(#bl08)" opacity="1"/>
<ellipse cx="73.3" cy="745.8" rx="2.1" ry="2.1" fill="#2fc4dc" filter="url(#bl08)" opacity="1"/>
<ellipse cx="76.9" cy="742.7" rx="2.6" ry="2.6" fill="#2fc4dc" filter="url(#bl08)" opacity="1"/>
<ellipse cx="73.4" cy="748.2" rx="1.9" ry="1.9" fill="#2fc4dc" filter="url(#bl08)" opacity="1"/>
<ellipse cx="73.4" cy="746.1" rx="1.8" ry="1.8" fill="#2fc4dc" filter="url(#bl08)" opacity="1"/>
<ellipse cx="77.2" cy="742.8" rx="2.7" ry="2.7" fill="#2fc4dc" filter="url(#bl08)" opacity="1"/>
<ellipse cx="73.3" cy="743.4" rx="2.0" ry="2.0" fill="#2fc4dc" filter="url(#bl08)" opacity="1"/>
<ellipse cx="69.9" cy="742.0" rx="2.8" ry="2.8" fill="#2fc4dc" filter="url(#bl08)" opacity="1"/>
<ellipse cx="73.6" cy="744.2" rx="2.4" ry="2.4" fill="#2fc4dc" filter="url(#bl08)" opacity="1"/>
<ellipse cx="64.0" cy="731.4" rx="1.8" ry="1.8" fill="#2fc4dc" filter="url(#bl08)" opacity="1"/>
<ellipse cx="67.2" cy="732.1" rx="2.0" ry="2.0" fill="#2fc4dc" filter="url(#bl08)" opacity="1"/>
<ellipse cx="66.7" cy="733.0" rx="2.0" ry="2.0" fill="#2fc4dc" filter="url(#bl08)" opacity="1"/>
<ellipse cx="91.2" cy="750.3" rx="2.0" ry="2.0" fill="#2fc4dc" filter="url(#bl08)" opacity="1"/>
<ellipse cx="90.5" cy="753.0" rx="2.3" ry="2.3" fill="#2fc4dc" filter="url(#bl08)" opacity="1"/>
<ellipse cx="88.0" cy="753.5" rx="1.9" ry="1.9" fill="#2fc4dc" filter="url(#bl08)" opacity="1"/>
<ellipse cx="90.7" cy="751.8" rx="2.5" ry="2.5" fill="#2fc4dc" filter="url(#bl08)" opacity="1"/>
<ellipse cx="90.3" cy="751.5" rx="2.1" ry="2.1" fill="#2fc4dc" filter="url(#bl08)" opacity="1"/>
<ellipse cx="113.1" cy="755.5" rx="1.5" ry="1.5" fill="#a0f0ff" filter="url(#bl08)" opacity="1"/>
<ellipse cx="114.5" cy="755.5" rx="1.2" ry="1.2" fill="#a0f0ff" filter="url(#bl08)" opacity="1"/>
<ellipse cx="179.4" cy="767.5" rx="1.4" ry="1.4" fill="#2fc4dc" filter="url(#bl08)" opacity="1"/>
<ellipse cx="178.9" cy="764.6" rx="1.5" ry="1.5" fill="#2fc4dc" filter="url(#bl08)" opacity="1"/>
<ellipse cx="179.7" cy="765.0" rx="2.0" ry="2.0" fill="#2fc4dc" filter="url(#bl08)" opacity="1"/>
<ellipse cx="95.3" cy="741.1" rx="0.9" ry="0.9" fill="#2fc4dc" filter="url(#bl08)" opacity="1"/>
<ellipse cx="100.4" cy="739.6" rx="1.2" ry="1.2" fill="#2fc4dc" filter="url(#bl08)" opacity="1"/>
<ellipse cx="101.6" cy="738.8" rx="1.2" ry="1.2" fill="#2fc4dc" filter="url(#bl08)" opacity="1"/>
<ellipse cx="98.9" cy="739.0" rx="1.1" ry="1.1" fill="#2fc4dc" filter="url(#bl08)" opacity="1"/>
<ellipse cx="119.3" cy="745.2" rx="1.1" ry="1.1" fill="#2fc4dc" filter="url(#bl08)" opacity="1"/>
<ellipse cx="128.0" cy="758.6" rx="1.3" ry="1.3" fill="#2fc4dc" filter="url(#bl08)" opacity="1"/>
<ellipse cx="123.0" cy="745.1" rx="1.1" ry="1.1" fill="#2fc4dc" filter="url(#bl08)" opacity="1"/>
<ellipse cx="122.9" cy="752.0" rx="1.4" ry="1.4" fill="#2fc4dc" filter="url(#bl08)" opacity="1"/>
<ellipse cx="126.8" cy="748.0" rx="1.3" ry="1.3" fill="#2fc4dc" filter="url(#bl08)" opacity="1"/>
<ellipse cx="83.6" cy="651.8" rx="2.1" ry="2.1" fill="#2fc4dc" filter="url(#bl08)" opacity="1"/>
<ellipse cx="83.7" cy="651.5" rx="1.7" ry="1.7" fill="#2fc4dc" filter="url(#bl08)" opacity="1"/>
<ellipse cx="87.0" cy="653.2" rx="1.8" ry="1.8" fill="#2fc4dc" filter="url(#bl08)" opacity="1"/>
<ellipse cx="86.2" cy="650.1" rx="1.4" ry="1.4" fill="#2fc4dc" filter="url(#bl08)" opacity="1"/>
<ellipse cx="135.5" cy="728" rx="2.4" ry="2.4" fill="#e8ea50" filter="url(#bl1)" opacity="1"/>
<ellipse cx="150.3" cy="724.7" rx="2.8" ry="2.8" fill="#e8ea50" filter="url(#bl1)" opacity="1"/>
<ellipse cx="109.7" cy="762.3" rx="2.6" ry="2.6" fill="#e8ea50" filter="url(#bl1)" opacity="1"/>
<ellipse cx="134.5" cy="726" rx="1.4" ry="1.4" fill="#b0ffb0" filter="url(#bl05)" opacity="1"/>
<ellipse cx="151" cy="722" rx="1.5" ry="1.5" fill="#60e040" filter="url(#bl05)" opacity="1"/>
<ellipse cx="148.5" cy="727" rx="1.5" ry="1.5" fill="#f0d030" filter="url(#bl05)" opacity="1"/>
<ellipse cx="114.5" cy="761" rx="1.8" ry="1.8" fill="#22e03a" filter="url(#bl1)" opacity="1"/>
<ellipse cx="106" cy="761" rx="1.2" ry="1.2" fill="#ff2030" filter="url(#bl05)" opacity="1"/>
<ellipse cx="103" cy="680" rx="1.3" ry="1.3" fill="#e01c48" filter="url(#bl05)" opacity="0.85"/>
<ellipse cx="130" cy="683" rx="1.2" ry="1.2" fill="#e01c48" filter="url(#bl05)" opacity="0.85"/>
<ellipse cx="95" cy="688.5" rx="1.2" ry="1.2" fill="#e01c48" filter="url(#bl05)" opacity="0.85"/>
<ellipse cx="79" cy="694.5" rx="1.3" ry="1.3" fill="#e01c48" filter="url(#bl05)" opacity="0.85"/>
<ellipse cx="65.4" cy="736.5" rx="1.3" ry="1.3" fill="#e01c48" filter="url(#bl05)" opacity="0.85"/>
<ellipse cx="85.7" cy="753" rx="1.4" ry="1.4" fill="#e01c48" filter="url(#bl05)" opacity="0.85"/>
<ellipse cx="106" cy="754" rx="1.2" ry="1.2" fill="#e01c48" filter="url(#bl05)" opacity="0.85"/>
<ellipse cx="100" cy="666" rx="1.0" ry="1.0" fill="#e01c48" filter="url(#bl05)" opacity="0.85"/>
<ellipse cx="140" cy="683" rx="0.9" ry="0.9" fill="#e01c48" filter="url(#bl05)" opacity="0.85"/>
<ellipse cx="70" cy="741" rx="1.0" ry="1.0" fill="#e01c48" filter="url(#bl05)" opacity="0.85"/>
</svg>
<svg x="58.8" y="776.8" width="189.5" height="123.7" viewBox="58.8 776.8 189.5 123.7" overflow="hidden">
<rect x="58.8" y="776.8" width="189.5" height="123.7" fill="#00000e"/>
<g filter="url(#bl15)">
<ellipse cx="64.1" cy="777.1" rx="3.5" ry="6.3" transform="rotate(-46 64.1 777.1)" fill="rgb(8,12,136)" opacity="0.59"/>
<ellipse cx="76.7" cy="779.8" rx="3.9" ry="6.6" transform="rotate(45 76.7 779.8)" fill="rgb(9,14,156)" opacity="0.78"/>
<ellipse cx="85.8" cy="781.2" rx="5.1" ry="5.7" transform="rotate(-36 85.8 781.2)" fill="rgb(10,15,175)" opacity="0.88"/>
<ellipse cx="104.2" cy="777.2" rx="3.5" ry="5.5" transform="rotate(18 104.2 777.2)" fill="rgb(10,15,173)" opacity="0.72"/>
<ellipse cx="112.9" cy="777.6" rx="4.0" ry="7.0" transform="rotate(20 112.9 777.6)" fill="rgb(9,13,151)" opacity="0.76"/>
<ellipse cx="127.5" cy="778.9" rx="5.4" ry="5.2" transform="rotate(-8 127.5 778.9)" fill="rgb(12,18,202)" opacity="0.85"/>
<ellipse cx="130.0" cy="776.7" rx="4.7" ry="7.0" transform="rotate(7 130.0 776.7)" fill="rgb(10,15,174)" opacity="0.83"/>
<ellipse cx="143.5" cy="777.5" rx="5.1" ry="7.4" transform="rotate(-3 143.5 777.5)" fill="rgb(7,11,125)" opacity="0.82"/>
<ellipse cx="165.8" cy="779.8" rx="4.2" ry="6.7" transform="rotate(-48 165.8 779.8)" fill="rgb(7,11,126)" opacity="0.60"/>
<ellipse cx="166.4" cy="779.3" rx="3.9" ry="6.0" transform="rotate(37 166.4 779.3)" fill="rgb(9,13,155)" opacity="0.58"/>
<ellipse cx="192.1" cy="780.2" rx="4.2" ry="5.9" transform="rotate(38 192.1 780.2)" fill="rgb(10,15,172)" opacity="0.62"/>
<ellipse cx="196.0" cy="774.3" rx="4.6" ry="5.6" transform="rotate(-50 196.0 774.3)" fill="rgb(8,12,143)" opacity="0.72"/>
<ellipse cx="244.0" cy="775.9" rx="4.7" ry="5.1" transform="rotate(-43 244.0 775.9)" fill="rgb(9,14,156)" opacity="0.69"/>
<ellipse cx="250.1" cy="772.1" rx="3.6" ry="5.9" transform="rotate(-47 250.1 772.1)" fill="rgb(10,15,173)" opacity="0.90"/>
<ellipse cx="59.9" cy="782.8" rx="4.1" ry="5.9" transform="rotate(-38 59.9 782.8)" fill="rgb(13,20,223)" opacity="0.74"/>
<ellipse cx="68.0" cy="782.3" rx="4.1" ry="5.6" transform="rotate(33 68.0 782.3)" fill="rgb(2,4,47)" opacity="0.61"/>
<ellipse cx="73.0" cy="790.3" rx="3.7" ry="6.4" transform="rotate(-47 73.0 790.3)" fill="rgb(2,3,40)" opacity="0.90"/>
<ellipse cx="88.6" cy="783.9" rx="3.8" ry="7.0" transform="rotate(3 88.6 783.9)" fill="rgb(7,11,130)" opacity="0.86"/>
<ellipse cx="117.6" cy="788.3" rx="4.4" ry="5.9" transform="rotate(-47 117.6 788.3)" fill="rgb(10,16,181)" opacity="0.65"/>
<ellipse cx="125.8" cy="790.4" rx="5.3" ry="7.6" transform="rotate(46 125.8 790.4)" fill="rgb(9,13,155)" opacity="0.70"/>
<ellipse cx="130.7" cy="783.6" rx="3.8" ry="6.6" transform="rotate(40 130.7 783.6)" fill="rgb(10,15,174)" opacity="0.81"/>
<ellipse cx="191.2" cy="783.0" rx="3.7" ry="7.3" transform="rotate(31 191.2 783.0)" fill="rgb(6,9,111)" opacity="0.61"/>
<ellipse cx="206.4" cy="786.6" rx="3.5" ry="7.5" transform="rotate(15 206.4 786.6)" fill="rgb(3,5,58)" opacity="0.72"/>
<ellipse cx="220.5" cy="789.1" rx="3.9" ry="5.7" transform="rotate(-26 220.5 789.1)" fill="rgb(8,12,134)" opacity="0.78"/>
<ellipse cx="224.1" cy="785.4" rx="5.2" ry="5.9" transform="rotate(-4 224.1 785.4)" fill="rgb(4,6,74)" opacity="0.72"/>
<ellipse cx="239.6" cy="786.1" rx="4.5" ry="5.0" transform="rotate(-6 239.6 786.1)" fill="rgb(6,9,106)" opacity="0.62"/>
<ellipse cx="240.4" cy="788.9" rx="4.4" ry="6.9" transform="rotate(6 240.4 788.9)" fill="rgb(7,11,127)" opacity="0.77"/>
<ellipse cx="95.6" cy="795.7" rx="5.3" ry="6.8" transform="rotate(38 95.6 795.7)" fill="rgb(11,17,192)" opacity="0.93"/>
<ellipse cx="117.8" cy="792.0" rx="4.3" ry="5.1" transform="rotate(-26 117.8 792.0)" fill="rgb(12,18,203)" opacity="0.86"/>
<ellipse cx="164.3" cy="792.3" rx="4.4" ry="5.8" transform="rotate(-30 164.3 792.3)" fill="rgb(10,15,176)" opacity="0.68"/>
<ellipse cx="179.3" cy="790.9" rx="4.7" ry="6.3" transform="rotate(-44 179.3 790.9)" fill="rgb(13,19,220)" opacity="0.94"/>
<ellipse cx="185.5" cy="793.2" rx="5.0" ry="5.6" transform="rotate(-37 185.5 793.2)" fill="rgb(8,12,143)" opacity="0.72"/>
<ellipse cx="202.3" cy="798.4" rx="3.7" ry="7.4" transform="rotate(7 202.3 798.4)" fill="rgb(8,12,144)" opacity="0.57"/>
<ellipse cx="209.5" cy="794.7" rx="5.3" ry="6.6" transform="rotate(30 209.5 794.7)" fill="rgb(7,11,133)" opacity="0.58"/>
<ellipse cx="239.7" cy="793.3" rx="4.5" ry="5.5" transform="rotate(-39 239.7 793.3)" fill="rgb(9,14,156)" opacity="0.63"/>
<ellipse cx="252.4" cy="795.4" rx="4.1" ry="4.9" transform="rotate(-25 252.4 795.4)" fill="rgb(9,14,160)" opacity="0.56"/>
<ellipse cx="61.0" cy="805.2" rx="4.4" ry="7.4" transform="rotate(-39 61.0 805.2)" fill="rgb(10,15,167)" opacity="0.75"/>
<ellipse cx="71.2" cy="803.7" rx="4.8" ry="7.5" transform="rotate(-16 71.2 803.7)" fill="rgb(6,9,111)" opacity="0.88"/>
<ellipse cx="79.3" cy="806.0" rx="4.1" ry="5.0" transform="rotate(-37 79.3 806.0)" fill="rgb(12,18,209)" opacity="0.65"/>
<ellipse cx="99.5" cy="806.3" rx="3.9" ry="5.7" transform="rotate(-4 99.5 806.3)" fill="rgb(10,16,178)" opacity="0.61"/>
<ellipse cx="119.1" cy="805.2" rx="5.3" ry="5.7" transform="rotate(-14 119.1 805.2)" fill="rgb(11,17,189)" opacity="0.74"/>
<ellipse cx="124.0" cy="801.9" rx="3.4" ry="5.6" transform="rotate(-41 124.0 801.9)" fill="rgb(9,13,150)" opacity="0.71"/>
<ellipse cx="129.0" cy="800.3" rx="3.9" ry="6.5" transform="rotate(3 129.0 800.3)" fill="rgb(9,13,150)" opacity="0.84"/>
<ellipse cx="146.1" cy="803.7" rx="5.4" ry="5.3" transform="rotate(22 146.1 803.7)" fill="rgb(5,8,91)" opacity="0.81"/>
<ellipse cx="167.2" cy="805.0" rx="5.1" ry="7.1" transform="rotate(33 167.2 805.0)" fill="rgb(4,6,76)" opacity="0.82"/>
<ellipse cx="181.6" cy="802.2" rx="3.7" ry="5.9" transform="rotate(-40 181.6 802.2)" fill="rgb(6,9,107)" opacity="0.88"/>
<ellipse cx="200.1" cy="804.6" rx="5.0" ry="6.9" transform="rotate(0 200.1 804.6)" fill="rgb(5,8,92)" opacity="0.58"/>
<ellipse cx="210.0" cy="802.4" rx="4.0" ry="6.9" transform="rotate(-29 210.0 802.4)" fill="rgb(8,12,137)" opacity="0.85"/>
<ellipse cx="221.5" cy="804.7" rx="4.4" ry="6.7" transform="rotate(27 221.5 804.7)" fill="rgb(6,9,107)" opacity="0.58"/>
<ellipse cx="233.9" cy="805.4" rx="3.5" ry="5.6" transform="rotate(17 233.9 805.4)" fill="rgb(6,9,111)" opacity="0.83"/>
<ellipse cx="246.6" cy="802.8" rx="4.3" ry="6.2" transform="rotate(-38 246.6 802.8)" fill="rgb(10,15,170)" opacity="0.94"/>
<ellipse cx="258.4" cy="800.2" rx="5.0" ry="7.5" transform="rotate(-5 258.4 800.2)" fill="rgb(7,11,133)" opacity="0.66"/>
<ellipse cx="56.1" cy="818.2" rx="4.6" ry="5.3" transform="rotate(2 56.1 818.2)" fill="rgb(10,15,170)" opacity="0.88"/>
<ellipse cx="74.9" cy="817.7" rx="3.5" ry="4.9" transform="rotate(-1 74.9 817.7)" fill="rgb(8,12,143)" opacity="0.73"/>
<ellipse cx="84.9" cy="810.7" rx="4.0" ry="7.2" transform="rotate(-50 84.9 810.7)" fill="rgb(9,13,150)" opacity="0.60"/>
<ellipse cx="103.4" cy="812.9" rx="5.4" ry="6.5" transform="rotate(-14 103.4 812.9)" fill="rgb(4,6,73)" opacity="0.72"/>
<ellipse cx="112.6" cy="809.8" rx="5.1" ry="5.7" transform="rotate(44 112.6 809.8)" fill="rgb(9,13,150)" opacity="0.75"/>
<ellipse cx="146.4" cy="818.1" rx="4.8" ry="5.0" transform="rotate(23 146.4 818.1)" fill="rgb(10,16,181)" opacity="0.73"/>
<ellipse cx="154.3" cy="815.4" rx="3.5" ry="7.4" transform="rotate(-37 154.3 815.4)" fill="rgb(6,10,113)" opacity="0.67"/>
<ellipse cx="163.4" cy="818.5" rx="4.7" ry="5.7" transform="rotate(6 163.4 818.5)" fill="rgb(9,14,156)" opacity="0.71"/>
<ellipse cx="167.4" cy="810.9" rx="5.2" ry="6.2" transform="rotate(-28 167.4 810.9)" fill="rgb(15,22,255)" opacity="0.73"/>
<ellipse cx="176.5" cy="811.2" rx="4.1" ry="5.1" transform="rotate(-26 176.5 811.2)" fill="rgb(4,6,75)" opacity="0.65"/>
<ellipse cx="197.6" cy="813.2" rx="4.2" ry="5.8" transform="rotate(-44 197.6 813.2)" fill="rgb(7,11,131)" opacity="0.60"/>
<ellipse cx="214.4" cy="811.9" rx="4.2" ry="6.1" transform="rotate(45 214.4 811.9)" fill="rgb(15,22,253)" opacity="0.89"/>
<ellipse cx="229.9" cy="809.6" rx="4.8" ry="7.3" transform="rotate(-3 229.9 809.6)" fill="rgb(8,13,149)" opacity="0.71"/>
<ellipse cx="249.4" cy="811.7" rx="3.7" ry="6.3" transform="rotate(18 249.4 811.7)" fill="rgb(8,13,149)" opacity="0.93"/>
<ellipse cx="58.4" cy="823.8" rx="5.0" ry="5.5" transform="rotate(42 58.4 823.8)" fill="rgb(7,11,129)" opacity="0.60"/>
<ellipse cx="73.8" cy="819.3" rx="4.6" ry="5.9" transform="rotate(-28 73.8 819.3)" fill="rgb(7,11,123)" opacity="0.79"/>
<ellipse cx="82.2" cy="821.5" rx="5.3" ry="6.6" transform="rotate(38 82.2 821.5)" fill="rgb(7,10,121)" opacity="0.65"/>
<ellipse cx="100.3" cy="825.3" rx="3.5" ry="6.2" transform="rotate(17 100.3 825.3)" fill="rgb(9,13,154)" opacity="0.72"/>
<ellipse cx="112.1" cy="819.0" rx="4.3" ry="6.7" transform="rotate(-30 112.1 819.0)" fill="rgb(10,15,169)" opacity="0.75"/>
<ellipse cx="121.2" cy="827.7" rx="5.0" ry="5.5" transform="rotate(-28 121.2 827.7)" fill="rgb(5,7,87)" opacity="0.85"/>
<ellipse cx="131.4" cy="827.6" rx="3.8" ry="5.5" transform="rotate(-8 131.4 827.6)" fill="rgb(6,9,100)" opacity="0.61"/>
<ellipse cx="148.6" cy="819.2" rx="4.2" ry="7.3" transform="rotate(38 148.6 819.2)" fill="rgb(3,5,65)" opacity="0.84"/>
<ellipse cx="165.8" cy="827.4" rx="3.8" ry="7.4" transform="rotate(25 165.8 827.4)" fill="rgb(12,18,207)" opacity="0.70"/>
<ellipse cx="169.3" cy="821.8" rx="3.4" ry="5.7" transform="rotate(-15 169.3 821.8)" fill="rgb(9,14,161)" opacity="0.93"/>
<ellipse cx="176.3" cy="827.7" rx="4.1" ry="7.1" transform="rotate(32 176.3 827.7)" fill="rgb(8,12,138)" opacity="0.74"/>
<ellipse cx="188.0" cy="827.3" rx="4.1" ry="7.3" transform="rotate(-47 188.0 827.3)" fill="rgb(9,13,155)" opacity="0.71"/>
<ellipse cx="201.4" cy="825.8" rx="3.5" ry="5.1" transform="rotate(42 201.4 825.8)" fill="rgb(8,13,147)" opacity="0.91"/>
<ellipse cx="224.7" cy="821.3" rx="4.9" ry="7.4" transform="rotate(13 224.7 821.3)" fill="rgb(12,19,216)" opacity="0.93"/>
<ellipse cx="231.3" cy="820.9" rx="5.3" ry="7.5" transform="rotate(-11 231.3 820.9)" fill="rgb(8,13,149)" opacity="0.75"/>
<ellipse cx="59.8" cy="831.1" rx="4.1" ry="7.0" transform="rotate(-42 59.8 831.1)" fill="rgb(11,17,192)" opacity="0.63"/>
<ellipse cx="70.5" cy="830.3" rx="3.5" ry="6.4" transform="rotate(-17 70.5 830.3)" fill="rgb(13,20,232)" opacity="0.95"/>
<ellipse cx="75.2" cy="828.8" rx="4.4" ry="6.8" transform="rotate(-5 75.2 828.8)" fill="rgb(8,12,139)" opacity="0.64"/>
<ellipse cx="101.8" cy="835.8" rx="4.5" ry="5.9" transform="rotate(24 101.8 835.8)" fill="rgb(9,14,159)" opacity="0.65"/>
<ellipse cx="144.0" cy="837.2" rx="4.4" ry="7.1" transform="rotate(34 144.0 837.2)" fill="rgb(10,16,178)" opacity="0.92"/>
<ellipse cx="147.6" cy="830.7" rx="3.8" ry="7.5" transform="rotate(8 147.6 830.7)" fill="rgb(11,16,184)" opacity="0.90"/>
<ellipse cx="180.9" cy="830.0" rx="3.7" ry="5.4" transform="rotate(-25 180.9 830.0)" fill="rgb(7,11,133)" opacity="0.79"/>
<ellipse cx="190.6" cy="829.9" rx="4.1" ry="6.7" transform="rotate(-31 190.6 829.9)" fill="rgb(8,12,139)" opacity="0.87"/>
<ellipse cx="198.9" cy="828.6" rx="4.2" ry="6.4" transform="rotate(14 198.9 828.6)" fill="rgb(10,15,174)" opacity="0.59"/>
<ellipse cx="204.6" cy="834.5" rx="4.0" ry="5.7" transform="rotate(45 204.6 834.5)" fill="rgb(7,11,130)" opacity="0.69"/>
<ellipse cx="244.3" cy="835.6" rx="5.2" ry="6.1" transform="rotate(-34 244.3 835.6)" fill="rgb(11,17,197)" opacity="0.56"/>
<ellipse cx="55.0" cy="843.1" rx="4.4" ry="5.3" transform="rotate(-22 55.0 843.1)" fill="rgb(3,5,59)" opacity="0.59"/>
<ellipse cx="91.2" cy="841.8" rx="5.2" ry="5.9" transform="rotate(40 91.2 841.8)" fill="rgb(8,12,137)" opacity="0.80"/>
<ellipse cx="117.7" cy="839.0" rx="4.2" ry="6.3" transform="rotate(-12 117.7 839.0)" fill="rgb(10,15,171)" opacity="0.84"/>
<ellipse cx="153.1" cy="840.2" rx="4.6" ry="6.0" transform="rotate(16 153.1 840.2)" fill="rgb(10,15,171)" opacity="0.73"/>
<ellipse cx="182.4" cy="841.6" rx="4.4" ry="5.2" transform="rotate(-37 182.4 841.6)" fill="rgb(8,12,134)" opacity="0.73"/>
<ellipse cx="207.9" cy="837.8" rx="4.2" ry="7.5" transform="rotate(-36 207.9 837.8)" fill="rgb(9,14,157)" opacity="0.89"/>
<ellipse cx="223.5" cy="846.5" rx="5.3" ry="7.4" transform="rotate(-33 223.5 846.5)" fill="rgb(10,15,172)" opacity="0.58"/>
<ellipse cx="234.3" cy="844.4" rx="5.2" ry="5.6" transform="rotate(32 234.3 844.4)" fill="rgb(3,5,60)" opacity="0.61"/>
<ellipse cx="245.0" cy="845.9" rx="3.9" ry="6.3" transform="rotate(-18 245.0 845.9)" fill="rgb(10,15,174)" opacity="0.61"/>
<ellipse cx="55.7" cy="853.9" rx="4.5" ry="6.6" transform="rotate(-14 55.7 853.9)" fill="rgb(9,13,155)" opacity="0.90"/>
<ellipse cx="85.7" cy="854.1" rx="5.4" ry="6.5" transform="rotate(-14 85.7 854.1)" fill="rgb(9,13,153)" opacity="0.62"/>
<ellipse cx="115.5" cy="852.8" rx="3.4" ry="5.0" transform="rotate(-35 115.5 852.8)" fill="rgb(6,9,106)" opacity="0.80"/>
<ellipse cx="138.1" cy="846.6" rx="3.6" ry="5.9" transform="rotate(-28 138.1 846.6)" fill="rgb(6,9,103)" opacity="0.63"/>
<ellipse cx="153.1" cy="851.0" rx="5.3" ry="5.6" transform="rotate(-35 153.1 851.0)" fill="rgb(7,11,123)" opacity="0.59"/>
<ellipse cx="169.6" cy="849.1" rx="4.7" ry="6.4" transform="rotate(-15 169.6 849.1)" fill="rgb(7,11,123)" opacity="0.92"/>
<ellipse cx="184.9" cy="851.6" rx="3.9" ry="5.1" transform="rotate(28 184.9 851.6)" fill="rgb(6,10,115)" opacity="0.55"/>
<ellipse cx="198.9" cy="855.4" rx="3.8" ry="6.5" transform="rotate(1 198.9 855.4)" fill="rgb(6,9,103)" opacity="0.62"/>
<ellipse cx="206.0" cy="849.4" rx="5.2" ry="7.0" transform="rotate(22 206.0 849.4)" fill="rgb(5,8,93)" opacity="0.55"/>
<ellipse cx="220.3" cy="853.6" rx="4.9" ry="6.1" transform="rotate(-27 220.3 853.6)" fill="rgb(10,15,172)" opacity="0.57"/>
<ellipse cx="238.9" cy="853.3" rx="4.5" ry="6.1" transform="rotate(29 238.9 853.3)" fill="rgb(10,15,167)" opacity="0.76"/>
<ellipse cx="251.7" cy="854.8" rx="3.9" ry="5.5" transform="rotate(24 251.7 854.8)" fill="rgb(12,19,212)" opacity="0.68"/>
<ellipse cx="62.3" cy="859.0" rx="5.2" ry="6.6" transform="rotate(19 62.3 859.0)" fill="rgb(7,11,127)" opacity="0.82"/>
<ellipse cx="79.3" cy="863.9" rx="4.9" ry="6.4" transform="rotate(-19 79.3 863.9)" fill="rgb(9,14,163)" opacity="0.58"/>
<ellipse cx="90.6" cy="857.3" rx="3.6" ry="7.4" transform="rotate(-16 90.6 857.3)" fill="rgb(12,18,204)" opacity="0.61"/>
<ellipse cx="110.6" cy="861.4" rx="5.0" ry="7.1" transform="rotate(39 110.6 861.4)" fill="rgb(13,20,223)" opacity="0.92"/>
<ellipse cx="128.1" cy="856.9" rx="3.6" ry="5.0" transform="rotate(35 128.1 856.9)" fill="rgb(10,16,182)" opacity="0.87"/>
<ellipse cx="140.6" cy="856.9" rx="4.9" ry="5.5" transform="rotate(-18 140.6 856.9)" fill="rgb(8,12,142)" opacity="0.65"/>
<ellipse cx="149.9" cy="862.6" rx="4.1" ry="7.5" transform="rotate(0 149.9 862.6)" fill="rgb(9,13,153)" opacity="0.89"/>
<ellipse cx="162.3" cy="856.2" rx="4.3" ry="7.0" transform="rotate(-15 162.3 856.2)" fill="rgb(8,12,136)" opacity="0.64"/>
<ellipse cx="176.8" cy="855.9" rx="4.9" ry="7.5" transform="rotate(-50 176.8 855.9)" fill="rgb(6,9,102)" opacity="0.75"/>
<ellipse cx="189.1" cy="863.4" rx="4.4" ry="5.8" transform="rotate(33 189.1 863.4)" fill="rgb(8,12,143)" opacity="0.66"/>
<ellipse cx="195.8" cy="862.4" rx="3.6" ry="6.6" transform="rotate(-42 195.8 862.4)" fill="rgb(14,22,245)" opacity="0.87"/>
<ellipse cx="215.7" cy="859.7" rx="5.2" ry="5.1" transform="rotate(39 215.7 859.7)" fill="rgb(10,15,176)" opacity="0.66"/>
<ellipse cx="230.1" cy="860.6" rx="5.2" ry="5.5" transform="rotate(-4 230.1 860.6)" fill="rgb(9,13,154)" opacity="0.76"/>
<ellipse cx="243.6" cy="859.0" rx="5.1" ry="6.7" transform="rotate(24 243.6 859.0)" fill="rgb(10,15,170)" opacity="0.86"/>
<ellipse cx="255.0" cy="857.1" rx="5.2" ry="5.5" transform="rotate(-31 255.0 857.1)" fill="rgb(11,16,187)" opacity="0.67"/>
<ellipse cx="60.7" cy="873.1" rx="3.7" ry="5.6" transform="rotate(-17 60.7 873.1)" fill="rgb(7,11,126)" opacity="0.68"/>
<ellipse cx="73.7" cy="874.2" rx="4.2" ry="7.6" transform="rotate(29 73.7 874.2)" fill="rgb(8,13,146)" opacity="0.84"/>
<ellipse cx="92.4" cy="867.2" rx="3.5" ry="6.0" transform="rotate(29 92.4 867.2)" fill="rgb(7,11,133)" opacity="0.80"/>
<ellipse cx="181.8" cy="871.1" rx="4.3" ry="6.1" transform="rotate(12 181.8 871.1)" fill="rgb(6,9,105)" opacity="0.71"/>
<ellipse cx="190.8" cy="873.9" rx="4.7" ry="7.0" transform="rotate(-11 190.8 873.9)" fill="rgb(2,3,41)" opacity="0.57"/>
<ellipse cx="211.9" cy="870.1" rx="4.6" ry="6.4" transform="rotate(22 211.9 870.1)" fill="rgb(9,14,156)" opacity="0.75"/>
<ellipse cx="218.4" cy="873.0" rx="4.2" ry="7.5" transform="rotate(-29 218.4 873.0)" fill="rgb(7,11,133)" opacity="0.86"/>
<ellipse cx="222.9" cy="874.4" rx="3.5" ry="5.6" transform="rotate(-10 222.9 874.4)" fill="rgb(6,10,113)" opacity="0.56"/>
<ellipse cx="243.6" cy="867.7" rx="4.9" ry="7.4" transform="rotate(3 243.6 867.7)" fill="rgb(9,14,163)" opacity="0.71"/>
<ellipse cx="61.7" cy="880.5" rx="4.5" ry="5.5" transform="rotate(46 61.7 880.5)" fill="rgb(13,19,220)" opacity="0.69"/>
<ellipse cx="77.1" cy="877.3" rx="3.7" ry="7.1" transform="rotate(-15 77.1 877.3)" fill="rgb(10,15,168)" opacity="0.70"/>
<ellipse cx="84.4" cy="878.5" rx="3.4" ry="6.8" transform="rotate(-22 84.4 878.5)" fill="rgb(7,11,124)" opacity="0.65"/>
<ellipse cx="94.2" cy="879.0" rx="4.7" ry="6.7" transform="rotate(-14 94.2 879.0)" fill="rgb(13,19,220)" opacity="0.57"/>
<ellipse cx="134.7" cy="876.9" rx="3.7" ry="5.5" transform="rotate(28 134.7 876.9)" fill="rgb(6,10,115)" opacity="0.69"/>
<ellipse cx="173.2" cy="882.4" rx="4.8" ry="6.3" transform="rotate(24 173.2 882.4)" fill="rgb(4,6,73)" opacity="0.77"/>
<ellipse cx="177.6" cy="876.7" rx="4.4" ry="5.1" transform="rotate(-3 177.6 876.7)" fill="rgb(10,16,181)" opacity="0.61"/>
<ellipse cx="189.1" cy="879.2" rx="5.1" ry="4.9" transform="rotate(34 189.1 879.2)" fill="rgb(5,8,99)" opacity="0.82"/>
<ellipse cx="201.6" cy="878.0" rx="5.3" ry="5.1" transform="rotate(14 201.6 878.0)" fill="rgb(9,14,160)" opacity="0.80"/>
<ellipse cx="243.5" cy="882.6" rx="4.4" ry="6.3" transform="rotate(27 243.5 882.6)" fill="rgb(9,14,160)" opacity="0.72"/>
<ellipse cx="254.8" cy="882.3" rx="5.1" ry="6.0" transform="rotate(0 254.8 882.3)" fill="rgb(11,17,191)" opacity="0.66"/>
<ellipse cx="70.8" cy="886.9" rx="4.0" ry="6.5" transform="rotate(13 70.8 886.9)" fill="rgb(9,13,152)" opacity="0.84"/>
<ellipse cx="81.0" cy="888.9" rx="4.0" ry="4.9" transform="rotate(-31 81.0 888.9)" fill="rgb(8,12,138)" opacity="0.92"/>
<ellipse cx="123.6" cy="891.0" rx="3.8" ry="5.0" transform="rotate(27 123.6 891.0)" fill="rgb(12,18,200)" opacity="0.70"/>
<ellipse cx="140.3" cy="886.7" rx="4.1" ry="6.1" transform="rotate(14 140.3 886.7)" fill="rgb(7,10,119)" opacity="0.92"/>
<ellipse cx="147.8" cy="889.1" rx="3.7" ry="7.1" transform="rotate(8 147.8 889.1)" fill="rgb(11,16,187)" opacity="0.56"/>
<ellipse cx="175.0" cy="888.3" rx="3.6" ry="6.6" transform="rotate(-29 175.0 888.3)" fill="rgb(7,11,128)" opacity="0.61"/>
<ellipse cx="185.6" cy="892.9" rx="5.1" ry="5.2" transform="rotate(-48 185.6 892.9)" fill="rgb(8,12,144)" opacity="0.84"/>
<ellipse cx="226.0" cy="892.5" rx="5.3" ry="6.8" transform="rotate(-49 226.0 892.5)" fill="rgb(7,10,120)" opacity="0.56"/>
<ellipse cx="237.1" cy="891.5" rx="4.0" ry="6.9" transform="rotate(-33 237.1 891.5)" fill="rgb(10,16,179)" opacity="0.57"/>
<ellipse cx="243.8" cy="889.2" rx="4.8" ry="5.3" transform="rotate(30 243.8 889.2)" fill="rgb(6,10,114)" opacity="0.70"/>
<ellipse cx="255.7" cy="889.7" rx="4.2" ry="7.0" transform="rotate(44 255.7 889.7)" fill="rgb(9,14,161)" opacity="0.67"/>
<ellipse cx="109.0" cy="900.7" rx="3.4" ry="5.6" transform="rotate(-8 109.0 900.7)" fill="rgb(5,8,99)" opacity="0.78"/>
<ellipse cx="117.6" cy="901.4" rx="5.1" ry="7.1" transform="rotate(37 117.6 901.4)" fill="rgb(7,10,121)" opacity="0.89"/>
<ellipse cx="162.9" cy="897.5" rx="3.9" ry="6.9" transform="rotate(29 162.9 897.5)" fill="rgb(8,12,136)" opacity="0.73"/>
<ellipse cx="192.7" cy="898.0" rx="4.6" ry="5.4" transform="rotate(-31 192.7 898.0)" fill="rgb(10,15,176)" opacity="0.70"/>
<ellipse cx="199.0" cy="896.9" rx="3.7" ry="5.0" transform="rotate(50 199.0 896.9)" fill="rgb(12,18,206)" opacity="0.70"/>
<ellipse cx="213.9" cy="898.7" rx="4.4" ry="5.0" transform="rotate(-47 213.9 898.7)" fill="rgb(13,20,230)" opacity="0.74"/>
<ellipse cx="248.0" cy="902.1" rx="3.5" ry="5.4" transform="rotate(-32 248.0 902.1)" fill="rgb(8,13,145)" opacity="0.58"/>
<ellipse cx="64.1" cy="908.1" rx="3.7" ry="7.5" transform="rotate(-24 64.1 908.1)" fill="rgb(5,8,97)" opacity="0.93"/>
<ellipse cx="79.0" cy="906.1" rx="3.7" ry="7.5" transform="rotate(49 79.0 906.1)" fill="rgb(7,11,127)" opacity="0.64"/>
<ellipse cx="82.4" cy="904.9" rx="5.2" ry="7.3" transform="rotate(34 82.4 904.9)" fill="rgb(13,19,217)" opacity="0.83"/>
<ellipse cx="97.4" cy="911.7" rx="3.7" ry="6.9" transform="rotate(44 97.4 911.7)" fill="rgb(10,15,170)" opacity="0.82"/>
<ellipse cx="111.0" cy="905.5" rx="3.7" ry="6.2" transform="rotate(-33 111.0 905.5)" fill="rgb(9,13,151)" opacity="0.82"/>
<ellipse cx="119.4" cy="909.2" rx="3.5" ry="7.4" transform="rotate(-28 119.4 909.2)" fill="rgb(10,15,172)" opacity="0.92"/>
<ellipse cx="136.7" cy="910.8" rx="4.3" ry="5.2" transform="rotate(43 136.7 910.8)" fill="rgb(10,16,180)" opacity="0.73"/>
<ellipse cx="141.1" cy="910.1" rx="4.7" ry="5.3" transform="rotate(-28 141.1 910.1)" fill="rgb(6,9,102)" opacity="0.57"/>
<ellipse cx="153.9" cy="907.6" rx="5.1" ry="5.6" transform="rotate(-9 153.9 907.6)" fill="rgb(10,15,167)" opacity="0.89"/>
<ellipse cx="159.7" cy="904.0" rx="4.1" ry="7.3" transform="rotate(-39 159.7 904.0)" fill="rgb(10,15,176)" opacity="0.94"/>
<ellipse cx="177.1" cy="906.9" rx="3.9" ry="5.4" transform="rotate(-14 177.1 906.9)" fill="rgb(15,22,255)" opacity="0.92"/>
<ellipse cx="194.3" cy="909.2" rx="5.3" ry="4.9" transform="rotate(31 194.3 909.2)" fill="rgb(8,12,142)" opacity="0.69"/>
<ellipse cx="217.3" cy="904.2" rx="5.2" ry="5.5" transform="rotate(7 217.3 904.2)" fill="rgb(9,14,166)" opacity="0.86"/>
<ellipse cx="228.4" cy="904.3" rx="3.6" ry="6.5" transform="rotate(-0 228.4 904.3)" fill="rgb(10,15,169)" opacity="0.66"/>
<ellipse cx="247.9" cy="907.9" rx="3.6" ry="6.9" transform="rotate(-9 247.9 907.9)" fill="rgb(8,13,147)" opacity="0.87"/>
</g>
<ellipse cx="174.3" cy="787.3" rx="3.2" ry="1.7" fill="#22e03a" filter="url(#bl08)" opacity="1"/>
<ellipse cx="180" cy="785.2" rx="1.5" ry="1.5" fill="#22e03a" filter="url(#bl08)" opacity="1"/>
<ellipse cx="176.3" cy="792" rx="2.2" ry="2.2" fill="#ff3070" filter="url(#bl08)" opacity="1"/>
</svg>
<svg x="319.3" y="646.8" width="190" height="123.2" viewBox="319.3 646.8 190 123.2" overflow="hidden">
<rect x="319.3" y="646.8" width="190" height="123.2" fill="#000009"/>
<g filter="url(#bl17)">
<ellipse cx="319.0" cy="645.6" rx="5.0" ry="4.8" transform="rotate(0 319.0 645.6)" fill="rgb(6,9,109)" opacity="0.77"/>
<ellipse cx="343.5" cy="644.4" rx="4.3" ry="7.5" transform="rotate(9 343.5 644.4)" fill="rgb(6,9,106)" opacity="0.86"/>
<ellipse cx="354.7" cy="649.0" rx="3.9" ry="6.7" transform="rotate(23 354.7 649.0)" fill="rgb(6,9,102)" opacity="0.66"/>
<ellipse cx="397.8" cy="647.7" rx="4.5" ry="7.4" transform="rotate(-30 397.8 647.7)" fill="rgb(7,11,126)" opacity="0.55"/>
<ellipse cx="406.7" cy="647.2" rx="3.5" ry="6.2" transform="rotate(42 406.7 647.2)" fill="rgb(4,7,83)" opacity="0.81"/>
<ellipse cx="415.9" cy="647.5" rx="4.5" ry="7.6" transform="rotate(-45 415.9 647.5)" fill="rgb(8,12,140)" opacity="0.77"/>
<ellipse cx="429.7" cy="643.6" rx="5.3" ry="7.7" transform="rotate(-38 429.7 643.6)" fill="rgb(5,8,99)" opacity="0.64"/>
<ellipse cx="438.9" cy="642.6" rx="4.7" ry="6.5" transform="rotate(27 438.9 642.6)" fill="rgb(2,3,36)" opacity="0.58"/>
<ellipse cx="445.6" cy="650.1" rx="4.2" ry="6.0" transform="rotate(49 445.6 650.1)" fill="rgb(8,12,139)" opacity="0.87"/>
<ellipse cx="454.5" cy="646.2" rx="4.2" ry="5.7" transform="rotate(-41 454.5 646.2)" fill="rgb(7,11,127)" opacity="0.80"/>
<ellipse cx="461.6" cy="649.4" rx="4.9" ry="7.1" transform="rotate(-0 461.6 649.4)" fill="rgb(7,11,123)" opacity="0.85"/>
<ellipse cx="491.4" cy="648.3" rx="5.0" ry="5.5" transform="rotate(-45 491.4 648.3)" fill="rgb(5,8,93)" opacity="0.94"/>
<ellipse cx="511.8" cy="642.3" rx="3.8" ry="5.9" transform="rotate(11 511.8 642.3)" fill="rgb(9,13,154)" opacity="0.61"/>
<ellipse cx="319.9" cy="652.6" rx="4.4" ry="6.8" transform="rotate(-43 319.9 652.6)" fill="rgb(4,7,82)" opacity="0.73"/>
<ellipse cx="361.9" cy="657.1" rx="4.9" ry="5.4" transform="rotate(-49 361.9 657.1)" fill="rgb(8,12,137)" opacity="0.77"/>
<ellipse cx="437.4" cy="655.8" rx="3.5" ry="6.5" transform="rotate(-13 437.4 655.8)" fill="rgb(11,17,197)" opacity="0.90"/>
<ellipse cx="444.5" cy="658.9" rx="4.6" ry="7.3" transform="rotate(-46 444.5 658.9)" fill="rgb(7,10,122)" opacity="0.82"/>
<ellipse cx="455.2" cy="652.0" rx="4.5" ry="5.3" transform="rotate(-44 455.2 652.0)" fill="rgb(6,9,108)" opacity="0.69"/>
<ellipse cx="464.9" cy="656.2" rx="4.8" ry="5.8" transform="rotate(28 464.9 656.2)" fill="rgb(14,21,244)" opacity="0.79"/>
<ellipse cx="478.7" cy="660.4" rx="3.6" ry="5.8" transform="rotate(-27 478.7 660.4)" fill="rgb(10,16,179)" opacity="0.86"/>
<ellipse cx="480.7" cy="653.4" rx="3.6" ry="7.5" transform="rotate(48 480.7 653.4)" fill="rgb(6,9,103)" opacity="0.74"/>
<ellipse cx="338.5" cy="662.5" rx="3.9" ry="5.7" transform="rotate(30 338.5 662.5)" fill="rgb(9,14,162)" opacity="0.94"/>
<ellipse cx="361.2" cy="663.4" rx="4.5" ry="6.2" transform="rotate(-15 361.2 663.4)" fill="rgb(8,12,138)" opacity="0.63"/>
<ellipse cx="383.8" cy="664.5" rx="4.1" ry="5.7" transform="rotate(-33 383.8 664.5)" fill="rgb(4,7,82)" opacity="0.77"/>
<ellipse cx="398.1" cy="666.2" rx="4.2" ry="6.5" transform="rotate(26 398.1 666.2)" fill="rgb(9,14,166)" opacity="0.63"/>
<ellipse cx="410.9" cy="663.5" rx="4.4" ry="6.2" transform="rotate(37 410.9 663.5)" fill="rgb(4,6,77)" opacity="0.68"/>
<ellipse cx="422.7" cy="665.2" rx="4.7" ry="5.6" transform="rotate(3 422.7 665.2)" fill="rgb(8,12,140)" opacity="0.92"/>
<ellipse cx="424.6" cy="661.8" rx="3.5" ry="7.2" transform="rotate(50 424.6 661.8)" fill="rgb(8,12,141)" opacity="0.81"/>
<ellipse cx="436.9" cy="668.6" rx="3.6" ry="6.8" transform="rotate(-14 436.9 668.6)" fill="rgb(9,14,162)" opacity="0.70"/>
<ellipse cx="456.7" cy="660.6" rx="3.4" ry="6.2" transform="rotate(37 456.7 660.6)" fill="rgb(11,16,186)" opacity="0.82"/>
<ellipse cx="468.9" cy="667.4" rx="3.6" ry="6.1" transform="rotate(18 468.9 667.4)" fill="rgb(9,14,166)" opacity="0.85"/>
<ellipse cx="473.0" cy="666.0" rx="5.1" ry="4.9" transform="rotate(-31 473.0 666.0)" fill="rgb(12,18,208)" opacity="0.86"/>
<ellipse cx="485.0" cy="661.4" rx="3.8" ry="6.4" transform="rotate(40 485.0 661.4)" fill="rgb(9,14,164)" opacity="0.82"/>
<ellipse cx="506.8" cy="667.9" rx="4.3" ry="6.6" transform="rotate(46 506.8 667.9)" fill="rgb(8,13,145)" opacity="0.77"/>
<ellipse cx="323.1" cy="678.4" rx="4.0" ry="7.4" transform="rotate(27 323.1 678.4)" fill="rgb(8,12,142)" opacity="0.76"/>
<ellipse cx="341.9" cy="671.2" rx="5.0" ry="6.5" transform="rotate(-30 341.9 671.2)" fill="rgb(6,9,111)" opacity="0.88"/>
<ellipse cx="344.7" cy="670.8" rx="3.4" ry="6.0" transform="rotate(28 344.7 670.8)" fill="rgb(1,2,30)" opacity="0.57"/>
<ellipse cx="387.0" cy="671.0" rx="5.2" ry="5.9" transform="rotate(-21 387.0 671.0)" fill="rgb(8,13,146)" opacity="0.74"/>
<ellipse cx="418.2" cy="669.7" rx="3.5" ry="6.3" transform="rotate(-19 418.2 669.7)" fill="rgb(8,12,143)" opacity="0.56"/>
<ellipse cx="428.4" cy="670.7" rx="3.8" ry="5.3" transform="rotate(14 428.4 670.7)" fill="rgb(7,11,124)" opacity="0.92"/>
<ellipse cx="436.7" cy="675.4" rx="5.1" ry="6.4" transform="rotate(-47 436.7 675.4)" fill="rgb(9,13,153)" opacity="0.57"/>
<ellipse cx="442.6" cy="677.3" rx="4.0" ry="6.4" transform="rotate(21 442.6 677.3)" fill="rgb(7,11,127)" opacity="0.58"/>
<ellipse cx="461.2" cy="674.8" rx="5.0" ry="5.8" transform="rotate(16 461.2 674.8)" fill="rgb(10,15,177)" opacity="0.76"/>
<ellipse cx="481.8" cy="673.8" rx="4.9" ry="6.3" transform="rotate(25 481.8 673.8)" fill="rgb(7,11,132)" opacity="0.59"/>
<ellipse cx="499.2" cy="672.0" rx="3.5" ry="7.5" transform="rotate(-9 499.2 672.0)" fill="rgb(8,13,148)" opacity="0.81"/>
<ellipse cx="513.5" cy="675.5" rx="3.4" ry="6.1" transform="rotate(-11 513.5 675.5)" fill="rgb(6,9,111)" opacity="0.93"/>
<ellipse cx="325.4" cy="679.0" rx="3.4" ry="5.1" transform="rotate(8 325.4 679.0)" fill="rgb(7,11,133)" opacity="0.70"/>
<ellipse cx="335.5" cy="687.6" rx="5.1" ry="6.3" transform="rotate(16 335.5 687.6)" fill="rgb(10,15,167)" opacity="0.61"/>
<ellipse cx="348.9" cy="686.8" rx="4.3" ry="6.7" transform="rotate(-3 348.9 686.8)" fill="rgb(6,10,113)" opacity="0.68"/>
<ellipse cx="393.1" cy="683.6" rx="4.6" ry="6.8" transform="rotate(4 393.1 683.6)" fill="rgb(3,5,58)" opacity="0.93"/>
<ellipse cx="402.1" cy="678.8" rx="4.7" ry="5.0" transform="rotate(47 402.1 678.8)" fill="rgb(5,8,96)" opacity="0.62"/>
<ellipse cx="427.6" cy="685.8" rx="5.2" ry="6.8" transform="rotate(-18 427.6 685.8)" fill="rgb(3,5,64)" opacity="0.74"/>
<ellipse cx="450.7" cy="687.5" rx="4.9" ry="6.6" transform="rotate(31 450.7 687.5)" fill="rgb(10,15,177)" opacity="0.73"/>
<ellipse cx="459.0" cy="682.8" rx="3.8" ry="7.2" transform="rotate(38 459.0 682.8)" fill="rgb(9,14,163)" opacity="0.78"/>
<ellipse cx="472.4" cy="683.1" rx="3.5" ry="6.9" transform="rotate(-34 472.4 683.1)" fill="rgb(13,20,229)" opacity="0.59"/>
<ellipse cx="485.8" cy="686.2" rx="4.1" ry="5.4" transform="rotate(21 485.8 686.2)" fill="rgb(11,17,195)" opacity="0.94"/>
<ellipse cx="494.8" cy="683.2" rx="4.1" ry="6.9" transform="rotate(-23 494.8 683.2)" fill="rgb(8,12,135)" opacity="0.65"/>
<ellipse cx="506.2" cy="685.4" rx="3.4" ry="6.5" transform="rotate(-37 506.2 685.4)" fill="rgb(11,16,185)" opacity="0.75"/>
<ellipse cx="511.7" cy="686.1" rx="4.4" ry="7.1" transform="rotate(-37 511.7 686.1)" fill="rgb(4,7,83)" opacity="0.69"/>
<ellipse cx="323.2" cy="688.6" rx="4.1" ry="6.1" transform="rotate(-13 323.2 688.6)" fill="rgb(10,16,179)" opacity="0.64"/>
<ellipse cx="361.5" cy="690.0" rx="5.1" ry="6.8" transform="rotate(-32 361.5 690.0)" fill="rgb(11,16,187)" opacity="0.60"/>
<ellipse cx="382.9" cy="691.6" rx="4.6" ry="5.2" transform="rotate(-2 382.9 691.6)" fill="rgb(8,13,148)" opacity="0.65"/>
<ellipse cx="402.7" cy="693.7" rx="4.9" ry="7.3" transform="rotate(25 402.7 693.7)" fill="rgb(2,4,45)" opacity="0.93"/>
<ellipse cx="408.5" cy="689.3" rx="3.4" ry="5.5" transform="rotate(-42 408.5 689.3)" fill="rgb(6,10,114)" opacity="0.55"/>
<ellipse cx="418.7" cy="687.9" rx="5.0" ry="6.9" transform="rotate(-45 418.7 687.9)" fill="rgb(7,11,125)" opacity="0.87"/>
<ellipse cx="430.1" cy="692.8" rx="5.2" ry="5.4" transform="rotate(40 430.1 692.8)" fill="rgb(6,9,104)" opacity="0.63"/>
<ellipse cx="434.2" cy="689.8" rx="5.0" ry="5.3" transform="rotate(7 434.2 689.8)" fill="rgb(7,11,123)" opacity="0.86"/>
<ellipse cx="468.4" cy="694.8" rx="5.1" ry="7.5" transform="rotate(7 468.4 694.8)" fill="rgb(12,18,203)" opacity="0.62"/>
<ellipse cx="475.1" cy="691.7" rx="4.0" ry="5.0" transform="rotate(-31 475.1 691.7)" fill="rgb(12,18,207)" opacity="0.83"/>
<ellipse cx="483.8" cy="690.7" rx="4.2" ry="6.2" transform="rotate(-30 483.8 690.7)" fill="rgb(12,18,209)" opacity="0.95"/>
<ellipse cx="492.1" cy="692.1" rx="4.2" ry="6.2" transform="rotate(-7 492.1 692.1)" fill="rgb(8,13,145)" opacity="0.80"/>
<ellipse cx="315.8" cy="699.5" rx="5.2" ry="7.6" transform="rotate(-28 315.8 699.5)" fill="rgb(4,7,80)" opacity="0.81"/>
<ellipse cx="331.4" cy="701.6" rx="3.7" ry="5.0" transform="rotate(-46 331.4 701.6)" fill="rgb(10,15,174)" opacity="0.79"/>
<ellipse cx="357.3" cy="703.8" rx="4.8" ry="6.1" transform="rotate(-44 357.3 703.8)" fill="rgb(7,10,117)" opacity="0.57"/>
<ellipse cx="362.8" cy="699.1" rx="5.1" ry="5.9" transform="rotate(-29 362.8 699.1)" fill="rgb(6,10,112)" opacity="0.71"/>
<ellipse cx="424.3" cy="698.7" rx="4.1" ry="5.8" transform="rotate(-11 424.3 698.7)" fill="rgb(9,14,159)" opacity="0.80"/>
<ellipse cx="450.9" cy="705.7" rx="4.1" ry="7.7" transform="rotate(34 450.9 705.7)" fill="rgb(8,13,146)" opacity="0.67"/>
<ellipse cx="455.4" cy="699.8" rx="5.2" ry="5.9" transform="rotate(1 455.4 699.8)" fill="rgb(7,11,130)" opacity="0.68"/>
<ellipse cx="466.0" cy="701.9" rx="3.5" ry="7.0" transform="rotate(33 466.0 701.9)" fill="rgb(8,13,149)" opacity="0.59"/>
<ellipse cx="485.1" cy="702.2" rx="5.1" ry="7.5" transform="rotate(-33 485.1 702.2)" fill="rgb(11,16,185)" opacity="0.60"/>
<ellipse cx="512.3" cy="702.9" rx="5.2" ry="5.7" transform="rotate(-40 512.3 702.9)" fill="rgb(11,16,188)" opacity="0.86"/>
<ellipse cx="322.5" cy="713.4" rx="4.1" ry="5.6" transform="rotate(36 322.5 713.4)" fill="rgb(8,12,142)" opacity="0.55"/>
<ellipse cx="333.0" cy="707.1" rx="3.8" ry="6.3" transform="rotate(-47 333.0 707.1)" fill="rgb(7,11,133)" opacity="0.81"/>
<ellipse cx="345.4" cy="713.8" rx="5.0" ry="5.5" transform="rotate(1 345.4 713.8)" fill="rgb(3,5,62)" opacity="0.78"/>
<ellipse cx="379.3" cy="706.5" rx="5.2" ry="5.3" transform="rotate(18 379.3 706.5)" fill="rgb(9,13,150)" opacity="0.64"/>
<ellipse cx="401.8" cy="712.6" rx="3.5" ry="5.5" transform="rotate(-5 401.8 712.6)" fill="rgb(8,12,139)" opacity="0.86"/>
<ellipse cx="406.2" cy="708.0" rx="4.0" ry="5.0" transform="rotate(-22 406.2 708.0)" fill="rgb(8,13,145)" opacity="0.89"/>
<ellipse cx="417.9" cy="712.6" rx="4.8" ry="7.3" transform="rotate(-48 417.9 712.6)" fill="rgb(9,14,158)" opacity="0.79"/>
<ellipse cx="432.5" cy="713.1" rx="4.8" ry="7.0" transform="rotate(-34 432.5 713.1)" fill="rgb(5,8,96)" opacity="0.63"/>
<ellipse cx="440.8" cy="713.9" rx="4.3" ry="6.5" transform="rotate(-49 440.8 713.9)" fill="rgb(4,6,70)" opacity="0.76"/>
<ellipse cx="451.0" cy="709.1" rx="5.2" ry="7.3" transform="rotate(45 451.0 709.1)" fill="rgb(15,22,255)" opacity="0.68"/>
<ellipse cx="466.0" cy="710.3" rx="4.3" ry="6.5" transform="rotate(-35 466.0 710.3)" fill="rgb(14,21,243)" opacity="0.84"/>
<ellipse cx="491.9" cy="711.6" rx="3.8" ry="7.3" transform="rotate(25 491.9 711.6)" fill="rgb(8,13,147)" opacity="0.56"/>
<ellipse cx="504.2" cy="714.8" rx="4.6" ry="5.2" transform="rotate(46 504.2 714.8)" fill="rgb(4,7,80)" opacity="0.83"/>
<ellipse cx="367.0" cy="718.9" rx="4.7" ry="6.7" transform="rotate(15 367.0 718.9)" fill="rgb(8,12,134)" opacity="0.84"/>
<ellipse cx="423.0" cy="722.6" rx="4.0" ry="6.1" transform="rotate(-47 423.0 722.6)" fill="rgb(11,17,199)" opacity="0.90"/>
<ellipse cx="450.4" cy="715.3" rx="5.3" ry="5.1" transform="rotate(41 450.4 715.3)" fill="rgb(5,8,96)" opacity="0.70"/>
<ellipse cx="459.6" cy="721.1" rx="4.9" ry="5.8" transform="rotate(33 459.6 721.1)" fill="rgb(8,12,141)" opacity="0.75"/>
<ellipse cx="468.5" cy="720.2" rx="5.3" ry="7.6" transform="rotate(5 468.5 720.2)" fill="rgb(4,7,82)" opacity="0.82"/>
<ellipse cx="472.3" cy="723.7" rx="5.3" ry="6.5" transform="rotate(42 472.3 723.7)" fill="rgb(7,11,125)" opacity="0.92"/>
<ellipse cx="481.4" cy="715.5" rx="4.5" ry="5.8" transform="rotate(-15 481.4 715.5)" fill="rgb(8,13,146)" opacity="0.73"/>
<ellipse cx="510.9" cy="719.4" rx="4.7" ry="7.3" transform="rotate(47 510.9 719.4)" fill="rgb(8,12,137)" opacity="0.87"/>
<ellipse cx="323.6" cy="729.6" rx="5.2" ry="6.7" transform="rotate(-43 323.6 729.6)" fill="rgb(10,16,180)" opacity="0.89"/>
<ellipse cx="327.6" cy="730.1" rx="4.5" ry="7.3" transform="rotate(-11 327.6 730.1)" fill="rgb(6,9,108)" opacity="0.82"/>
<ellipse cx="348.4" cy="728.3" rx="4.3" ry="5.3" transform="rotate(-31 348.4 728.3)" fill="rgb(3,4,51)" opacity="0.92"/>
<ellipse cx="360.6" cy="727.3" rx="4.5" ry="5.7" transform="rotate(11 360.6 727.3)" fill="rgb(5,7,86)" opacity="0.68"/>
<ellipse cx="402.6" cy="731.5" rx="3.9" ry="4.8" transform="rotate(3 402.6 731.5)" fill="rgb(9,13,152)" opacity="0.73"/>
<ellipse cx="409.3" cy="726.2" rx="5.1" ry="6.4" transform="rotate(16 409.3 726.2)" fill="rgb(8,12,139)" opacity="0.95"/>
<ellipse cx="452.9" cy="728.0" rx="4.5" ry="7.3" transform="rotate(-18 452.9 728.0)" fill="rgb(5,8,90)" opacity="0.65"/>
<ellipse cx="477.9" cy="729.0" rx="4.9" ry="7.2" transform="rotate(29 477.9 729.0)" fill="rgb(7,11,123)" opacity="0.82"/>
<ellipse cx="499.9" cy="731.0" rx="3.5" ry="5.3" transform="rotate(-21 499.9 731.0)" fill="rgb(5,7,84)" opacity="0.91"/>
<ellipse cx="506.8" cy="732.2" rx="3.9" ry="6.1" transform="rotate(-5 506.8 732.2)" fill="rgb(8,12,135)" opacity="0.78"/>
<ellipse cx="315.0" cy="738.9" rx="3.7" ry="5.6" transform="rotate(1 315.0 738.9)" fill="rgb(8,12,142)" opacity="0.56"/>
<ellipse cx="327.6" cy="735.5" rx="4.9" ry="7.4" transform="rotate(49 327.6 735.5)" fill="rgb(9,13,151)" opacity="0.93"/>
<ellipse cx="335.2" cy="738.6" rx="4.4" ry="6.8" transform="rotate(13 335.2 738.6)" fill="rgb(11,17,197)" opacity="0.72"/>
<ellipse cx="350.3" cy="740.7" rx="4.1" ry="7.0" transform="rotate(-44 350.3 740.7)" fill="rgb(6,9,110)" opacity="0.88"/>
<ellipse cx="359.4" cy="739.3" rx="4.4" ry="5.2" transform="rotate(39 359.4 739.3)" fill="rgb(5,8,97)" opacity="0.73"/>
<ellipse cx="362.5" cy="741.3" rx="3.6" ry="5.9" transform="rotate(-6 362.5 741.3)" fill="rgb(6,9,108)" opacity="0.77"/>
<ellipse cx="395.3" cy="739.3" rx="5.3" ry="5.8" transform="rotate(16 395.3 739.3)" fill="rgb(8,12,134)" opacity="0.72"/>
<ellipse cx="404.0" cy="740.3" rx="3.9" ry="6.5" transform="rotate(-6 404.0 740.3)" fill="rgb(8,13,146)" opacity="0.65"/>
<ellipse cx="407.1" cy="733.9" rx="4.9" ry="7.6" transform="rotate(30 407.1 733.9)" fill="rgb(6,9,111)" opacity="0.66"/>
<ellipse cx="432.9" cy="737.1" rx="4.8" ry="7.5" transform="rotate(47 432.9 737.1)" fill="rgb(5,8,93)" opacity="0.94"/>
<ellipse cx="440.5" cy="741.0" rx="4.7" ry="5.4" transform="rotate(50 440.5 741.0)" fill="rgb(7,11,126)" opacity="0.86"/>
<ellipse cx="461.9" cy="736.5" rx="4.3" ry="5.7" transform="rotate(-23 461.9 736.5)" fill="rgb(10,15,176)" opacity="0.76"/>
<ellipse cx="476.7" cy="737.7" rx="4.1" ry="7.5" transform="rotate(26 476.7 737.7)" fill="rgb(6,10,115)" opacity="0.85"/>
<ellipse cx="482.9" cy="739.8" rx="3.5" ry="6.4" transform="rotate(23 482.9 739.8)" fill="rgb(6,9,107)" opacity="0.62"/>
<ellipse cx="493.6" cy="735.9" rx="3.5" ry="5.9" transform="rotate(-25 493.6 735.9)" fill="rgb(8,12,136)" opacity="0.86"/>
<ellipse cx="321.3" cy="750.9" rx="4.1" ry="6.4" transform="rotate(3 321.3 750.9)" fill="rgb(10,15,177)" opacity="0.94"/>
<ellipse cx="326.0" cy="745.0" rx="4.9" ry="5.7" transform="rotate(-45 326.0 745.0)" fill="rgb(6,9,110)" opacity="0.89"/>
<ellipse cx="348.1" cy="748.3" rx="4.7" ry="6.1" transform="rotate(4 348.1 748.3)" fill="rgb(7,10,122)" opacity="0.77"/>
<ellipse cx="389.7" cy="751.6" rx="5.2" ry="6.4" transform="rotate(-42 389.7 751.6)" fill="rgb(7,11,126)" opacity="0.55"/>
<ellipse cx="398.9" cy="745.9" rx="5.2" ry="6.3" transform="rotate(-14 398.9 745.9)" fill="rgb(11,16,187)" opacity="0.70"/>
<ellipse cx="406.9" cy="748.1" rx="4.8" ry="7.3" transform="rotate(36 406.9 748.1)" fill="rgb(7,11,130)" opacity="0.59"/>
<ellipse cx="421.4" cy="748.4" rx="4.7" ry="7.4" transform="rotate(-47 421.4 748.4)" fill="rgb(11,16,188)" opacity="0.80"/>
<ellipse cx="431.3" cy="749.3" rx="4.1" ry="5.0" transform="rotate(-28 431.3 749.3)" fill="rgb(5,7,84)" opacity="0.69"/>
<ellipse cx="451.7" cy="747.1" rx="3.7" ry="6.4" transform="rotate(-19 451.7 747.1)" fill="rgb(4,6,75)" opacity="0.66"/>
<ellipse cx="496.2" cy="749.8" rx="5.0" ry="5.7" transform="rotate(4 496.2 749.8)" fill="rgb(3,5,61)" opacity="0.58"/>
<ellipse cx="501.9" cy="748.6" rx="4.9" ry="6.3" transform="rotate(-5 501.9 748.6)" fill="rgb(6,10,114)" opacity="0.63"/>
<ellipse cx="323.2" cy="758.0" rx="3.8" ry="7.4" transform="rotate(-47 323.2 758.0)" fill="rgb(11,17,199)" opacity="0.89"/>
<ellipse cx="325.6" cy="759.4" rx="4.2" ry="5.6" transform="rotate(-16 325.6 759.4)" fill="rgb(6,9,102)" opacity="0.83"/>
<ellipse cx="353.5" cy="752.9" rx="4.6" ry="7.4" transform="rotate(-14 353.5 752.9)" fill="rgb(4,7,81)" opacity="0.81"/>
<ellipse cx="391.3" cy="755.2" rx="4.7" ry="7.3" transform="rotate(-29 391.3 755.2)" fill="rgb(6,10,116)" opacity="0.75"/>
<ellipse cx="399.5" cy="754.4" rx="5.0" ry="6.1" transform="rotate(30 399.5 754.4)" fill="rgb(10,15,170)" opacity="0.78"/>
<ellipse cx="414.5" cy="755.5" rx="3.5" ry="7.1" transform="rotate(27 414.5 755.5)" fill="rgb(13,20,225)" opacity="0.56"/>
<ellipse cx="419.7" cy="758.0" rx="3.6" ry="5.9" transform="rotate(9 419.7 758.0)" fill="rgb(6,10,114)" opacity="0.55"/>
<ellipse cx="440.7" cy="759.8" rx="4.8" ry="6.7" transform="rotate(39 440.7 759.8)" fill="rgb(9,13,153)" opacity="0.70"/>
<ellipse cx="448.8" cy="756.1" rx="3.9" ry="5.0" transform="rotate(-18 448.8 756.1)" fill="rgb(2,3,41)" opacity="0.62"/>
<ellipse cx="476.8" cy="759.8" rx="5.1" ry="7.1" transform="rotate(38 476.8 759.8)" fill="rgb(4,7,80)" opacity="0.67"/>
<ellipse cx="491.8" cy="755.5" rx="3.7" ry="5.3" transform="rotate(-19 491.8 755.5)" fill="rgb(8,12,138)" opacity="0.85"/>
<ellipse cx="502.0" cy="754.3" rx="4.2" ry="5.3" transform="rotate(-9 502.0 754.3)" fill="rgb(10,15,168)" opacity="0.61"/>
<ellipse cx="512.7" cy="758.5" rx="3.7" ry="5.7" transform="rotate(-29 512.7 758.5)" fill="rgb(9,13,155)" opacity="0.56"/>
<ellipse cx="327.0" cy="769.2" rx="3.8" ry="6.8" transform="rotate(10 327.0 769.2)" fill="rgb(5,8,95)" opacity="0.71"/>
<ellipse cx="334.2" cy="765.6" rx="5.1" ry="7.6" transform="rotate(16 334.2 765.6)" fill="rgb(6,9,109)" opacity="0.59"/>
<ellipse cx="369.3" cy="762.8" rx="3.6" ry="7.0" transform="rotate(6 369.3 762.8)" fill="rgb(5,8,98)" opacity="0.83"/>
<ellipse cx="392.7" cy="767.9" rx="4.9" ry="5.8" transform="rotate(41 392.7 767.9)" fill="rgb(4,6,72)" opacity="0.75"/>
<ellipse cx="413.4" cy="760.9" rx="4.0" ry="5.0" transform="rotate(-44 413.4 760.9)" fill="rgb(8,12,134)" opacity="0.85"/>
<ellipse cx="415.4" cy="766.8" rx="3.7" ry="6.1" transform="rotate(22 415.4 766.8)" fill="rgb(8,13,147)" opacity="0.75"/>
<ellipse cx="429.9" cy="761.2" rx="4.3" ry="4.8" transform="rotate(2 429.9 761.2)" fill="rgb(7,11,123)" opacity="0.75"/>
<ellipse cx="448.3" cy="763.9" rx="5.0" ry="6.7" transform="rotate(49 448.3 763.9)" fill="rgb(9,14,164)" opacity="0.80"/>
<ellipse cx="456.0" cy="767.9" rx="4.4" ry="5.0" transform="rotate(42 456.0 767.9)" fill="rgb(7,10,120)" opacity="0.57"/>
<ellipse cx="465.0" cy="768.2" rx="3.9" ry="6.7" transform="rotate(-41 465.0 768.2)" fill="rgb(1,2,30)" opacity="0.66"/>
<ellipse cx="476.4" cy="765.5" rx="4.3" ry="7.6" transform="rotate(-37 476.4 765.5)" fill="rgb(7,10,117)" opacity="0.78"/>
<ellipse cx="482.1" cy="762.0" rx="5.1" ry="6.1" transform="rotate(-5 482.1 762.0)" fill="rgb(7,11,128)" opacity="0.78"/>
<ellipse cx="496.3" cy="769.9" rx="4.0" ry="6.9" transform="rotate(-4 496.3 769.9)" fill="rgb(6,10,115)" opacity="0.57"/>
<ellipse cx="514.2" cy="768.1" rx="4.1" ry="6.0" transform="rotate(-2 514.2 768.1)" fill="rgb(6,10,116)" opacity="0.65"/>
<ellipse cx="317.9" cy="775.9" rx="3.5" ry="6.5" transform="rotate(43 317.9 775.9)" fill="rgb(9,14,156)" opacity="0.93"/>
<ellipse cx="331.2" cy="777.8" rx="4.9" ry="5.8" transform="rotate(-19 331.2 777.8)" fill="rgb(2,3,43)" opacity="0.83"/>
<ellipse cx="375.1" cy="770.4" rx="4.0" ry="7.4" transform="rotate(30 375.1 770.4)" fill="rgb(10,15,170)" opacity="0.67"/>
<ellipse cx="381.4" cy="773.1" rx="3.8" ry="5.6" transform="rotate(-31 381.4 773.1)" fill="rgb(6,9,111)" opacity="0.87"/>
<ellipse cx="394.5" cy="772.2" rx="4.5" ry="7.6" transform="rotate(-38 394.5 772.2)" fill="rgb(6,10,115)" opacity="0.86"/>
<ellipse cx="409.3" cy="771.5" rx="4.7" ry="6.6" transform="rotate(-29 409.3 771.5)" fill="rgb(8,12,143)" opacity="0.56"/>
<ellipse cx="420.3" cy="777.9" rx="3.5" ry="6.9" transform="rotate(21 420.3 777.9)" fill="rgb(10,16,181)" opacity="0.89"/>
<ellipse cx="436.0" cy="773.2" rx="4.4" ry="6.6" transform="rotate(6 436.0 773.2)" fill="rgb(3,5,58)" opacity="0.91"/>
<ellipse cx="445.1" cy="770.2" rx="5.2" ry="5.5" transform="rotate(47 445.1 770.2)" fill="rgb(6,9,103)" opacity="0.80"/>
<ellipse cx="451.6" cy="774.3" rx="4.0" ry="5.8" transform="rotate(-30 451.6 774.3)" fill="rgb(8,12,139)" opacity="0.93"/>
<ellipse cx="464.3" cy="774.6" rx="4.3" ry="7.0" transform="rotate(40 464.3 774.6)" fill="rgb(7,10,120)" opacity="0.65"/>
<ellipse cx="478.7" cy="776.7" rx="3.6" ry="5.5" transform="rotate(-28 478.7 776.7)" fill="rgb(9,13,155)" opacity="0.90"/>
</g>
<ellipse cx="425" cy="683.5" rx="2.75" ry="7.5" fill="#22e03a" filter="url(#bl08)" opacity="1"/>
<ellipse cx="424" cy="676" rx="2.5" ry="2.5" fill="#ff9a30" filter="url(#bl05)" opacity="1"/>
<ellipse cx="346.8" cy="653.4" rx="2.5" ry="2.5" fill="#ff60b0" filter="url(#bl08)" opacity="1"/>
<ellipse cx="346.6" cy="652" rx="1.625" ry="1.625" fill="#e8ea50" filter="url(#bl05)" opacity="1"/>
<ellipse cx="351" cy="693.5" rx="3.25" ry="2.25" fill="#22e03a" filter="url(#bl05)" opacity="1"/>
<ellipse cx="346.5" cy="692" rx="1.375" ry="1.375" fill="#ff2030" filter="url(#bl05)" opacity="1"/>
<ellipse cx="363.4" cy="702" rx="2.125" ry="2.125" fill="#e050e0" filter="url(#bl05)" opacity="1"/>
<ellipse cx="344.6" cy="733" rx="3.5" ry="3.5" fill="#22e03a" filter="url(#bl08)" opacity="1"/>
<ellipse cx="340.9" cy="741" rx="2.75" ry="2.75" fill="#ff2030" filter="url(#bl08)" opacity="1"/>
<ellipse cx="499" cy="688.5" rx="2.25" ry="2.25" fill="#ff60b0" filter="url(#bl05)" opacity="1"/>
<ellipse cx="502" cy="697" rx="4.25" ry="5.0" fill="#e8ea50" filter="url(#bl08)" opacity="1"/>
<ellipse cx="503" cy="699" rx="2.0" ry="2.0" fill="#ff9a30" filter="url(#bl05)" opacity="1"/>
<ellipse cx="484.2" cy="708.8" rx="2.875" ry="2.875" fill="#22e03a" filter="url(#bl08)" opacity="1"/>
<ellipse cx="479.7" cy="705" rx="1.25" ry="1.25" fill="#ff2030" filter="url(#bl05)" opacity="1"/>
<ellipse cx="443.5" cy="744" rx="2.875" ry="2.875" fill="#30e0a0" filter="url(#bl08)" opacity="1"/>
<ellipse cx="441" cy="742" rx="1.25" ry="1.25" fill="#ff2030" filter="url(#bl05)" opacity="1"/>
<ellipse cx="410.3" cy="764" rx="4.0" ry="4.0" fill="#e8ea50" filter="url(#bl08)" opacity="1"/>
<ellipse cx="411" cy="765" rx="2.0" ry="2.0" fill="#ff60b0" filter="url(#bl05)" opacity="1"/>
<ellipse cx="486" cy="763.4" rx="1.375" ry="1.375" fill="#22e03a" filter="url(#bl05)" opacity="1"/>
<ellipse cx="450" cy="753" rx="1.125" ry="1.125" fill="#e8ea50" filter="url(#bl05)" opacity="1"/>
</svg>
<svg x="319.3" y="776.8" width="190" height="123.7" viewBox="319.3 776.8 190 123.7" overflow="hidden">
<rect x="319.3" y="776.8" width="190" height="123.7" fill="#000009"/>
<g filter="url(#bl17)">
<ellipse cx="331.1" cy="774.1" rx="3.5" ry="5.2" transform="rotate(23 331.1 774.1)" fill="rgb(10,15,170)" opacity="0.64"/>
<ellipse cx="346.5" cy="772.6" rx="3.5" ry="7.0" transform="rotate(31 346.5 772.6)" fill="rgb(10,16,183)" opacity="0.87"/>
<ellipse cx="371.6" cy="779.0" rx="4.0" ry="5.6" transform="rotate(-7 371.6 779.0)" fill="rgb(8,12,136)" opacity="0.88"/>
<ellipse cx="389.7" cy="779.0" rx="4.5" ry="5.8" transform="rotate(-32 389.7 779.0)" fill="rgb(8,12,143)" opacity="0.63"/>
<ellipse cx="407.6" cy="775.9" rx="4.1" ry="5.2" transform="rotate(-26 407.6 775.9)" fill="rgb(7,11,131)" opacity="0.58"/>
<ellipse cx="416.8" cy="780.8" rx="4.5" ry="7.2" transform="rotate(-46 416.8 780.8)" fill="rgb(9,13,154)" opacity="0.61"/>
<ellipse cx="445.0" cy="779.4" rx="4.8" ry="5.6" transform="rotate(22 445.0 779.4)" fill="rgb(11,17,190)" opacity="0.79"/>
<ellipse cx="459.8" cy="777.6" rx="4.6" ry="5.5" transform="rotate(-20 459.8 777.6)" fill="rgb(12,18,200)" opacity="0.62"/>
<ellipse cx="469.5" cy="773.4" rx="3.3" ry="6.4" transform="rotate(6 469.5 773.4)" fill="rgb(6,9,110)" opacity="0.73"/>
<ellipse cx="475.2" cy="773.2" rx="5.1" ry="4.9" transform="rotate(-20 475.2 773.2)" fill="rgb(7,10,121)" opacity="0.66"/>
<ellipse cx="486.2" cy="773.1" rx="3.9" ry="6.9" transform="rotate(-49 486.2 773.1)" fill="rgb(6,9,106)" opacity="0.94"/>
<ellipse cx="515.2" cy="778.9" rx="4.5" ry="6.9" transform="rotate(-24 515.2 778.9)" fill="rgb(9,14,158)" opacity="0.79"/>
<ellipse cx="318.0" cy="783.3" rx="3.6" ry="5.6" transform="rotate(-46 318.0 783.3)" fill="rgb(6,10,115)" opacity="0.85"/>
<ellipse cx="334.1" cy="785.4" rx="3.8" ry="5.4" transform="rotate(-7 334.1 785.4)" fill="rgb(9,14,161)" opacity="0.60"/>
<ellipse cx="351.8" cy="783.8" rx="3.3" ry="5.0" transform="rotate(-14 351.8 783.8)" fill="rgb(5,8,90)" opacity="0.95"/>
<ellipse cx="359.0" cy="785.8" rx="4.7" ry="5.5" transform="rotate(39 359.0 785.8)" fill="rgb(11,17,195)" opacity="0.77"/>
<ellipse cx="368.5" cy="781.2" rx="4.8" ry="5.0" transform="rotate(-2 368.5 781.2)" fill="rgb(7,11,125)" opacity="0.87"/>
<ellipse cx="409.7" cy="789.0" rx="3.5" ry="6.1" transform="rotate(31 409.7 789.0)" fill="rgb(8,13,145)" opacity="0.76"/>
<ellipse cx="413.7" cy="789.6" rx="3.4" ry="4.7" transform="rotate(-47 413.7 789.6)" fill="rgb(6,10,115)" opacity="0.84"/>
<ellipse cx="467.4" cy="781.2" rx="3.7" ry="5.5" transform="rotate(44 467.4 781.2)" fill="rgb(6,9,106)" opacity="0.65"/>
<ellipse cx="479.7" cy="788.6" rx="5.0" ry="6.7" transform="rotate(-2 479.7 788.6)" fill="rgb(9,14,161)" opacity="0.91"/>
<ellipse cx="485.7" cy="782.9" rx="4.1" ry="5.1" transform="rotate(7 485.7 782.9)" fill="rgb(12,18,206)" opacity="0.56"/>
<ellipse cx="496.9" cy="782.7" rx="4.3" ry="5.4" transform="rotate(39 496.9 782.7)" fill="rgb(5,7,88)" opacity="0.88"/>
<ellipse cx="511.0" cy="789.6" rx="4.8" ry="5.0" transform="rotate(34 511.0 789.6)" fill="rgb(7,10,119)" opacity="0.61"/>
<ellipse cx="334.5" cy="794.5" rx="4.0" ry="6.7" transform="rotate(-16 334.5 794.5)" fill="rgb(9,13,155)" opacity="0.83"/>
<ellipse cx="344.9" cy="797.9" rx="3.4" ry="7.1" transform="rotate(43 344.9 797.9)" fill="rgb(10,16,179)" opacity="0.88"/>
<ellipse cx="357.2" cy="795.9" rx="4.4" ry="6.2" transform="rotate(-24 357.2 795.9)" fill="rgb(12,19,213)" opacity="0.79"/>
<ellipse cx="359.1" cy="795.5" rx="4.2" ry="6.7" transform="rotate(38 359.1 795.5)" fill="rgb(13,19,217)" opacity="0.70"/>
<ellipse cx="374.5" cy="794.3" rx="4.0" ry="7.2" transform="rotate(-6 374.5 794.3)" fill="rgb(10,16,182)" opacity="0.82"/>
<ellipse cx="384.1" cy="795.9" rx="3.4" ry="5.9" transform="rotate(-9 384.1 795.9)" fill="rgb(7,10,121)" opacity="0.88"/>
<ellipse cx="391.7" cy="798.5" rx="4.0" ry="6.2" transform="rotate(25 391.7 798.5)" fill="rgb(8,13,148)" opacity="0.61"/>
<ellipse cx="404.1" cy="798.1" rx="3.6" ry="7.3" transform="rotate(-41 404.1 798.1)" fill="rgb(7,11,131)" opacity="0.60"/>
<ellipse cx="412.2" cy="790.5" rx="3.6" ry="5.0" transform="rotate(-48 412.2 790.5)" fill="rgb(6,10,114)" opacity="0.64"/>
<ellipse cx="444.7" cy="791.3" rx="4.4" ry="6.0" transform="rotate(2 444.7 791.3)" fill="rgb(7,10,119)" opacity="0.86"/>
<ellipse cx="447.6" cy="796.1" rx="4.0" ry="5.3" transform="rotate(-22 447.6 796.1)" fill="rgb(5,8,97)" opacity="0.91"/>
<ellipse cx="457.2" cy="796.2" rx="4.4" ry="5.0" transform="rotate(36 457.2 796.2)" fill="rgb(6,10,116)" opacity="0.94"/>
<ellipse cx="465.7" cy="797.0" rx="3.8" ry="4.9" transform="rotate(-6 465.7 797.0)" fill="rgb(11,16,185)" opacity="0.78"/>
<ellipse cx="475.9" cy="796.1" rx="3.8" ry="5.6" transform="rotate(-50 475.9 796.1)" fill="rgb(10,16,183)" opacity="0.90"/>
<ellipse cx="481.8" cy="790.8" rx="4.7" ry="5.8" transform="rotate(-8 481.8 790.8)" fill="rgb(10,15,170)" opacity="0.76"/>
<ellipse cx="346.6" cy="801.9" rx="4.7" ry="5.5" transform="rotate(-7 346.6 801.9)" fill="rgb(9,14,164)" opacity="0.67"/>
<ellipse cx="389.7" cy="803.5" rx="3.7" ry="5.8" transform="rotate(-0 389.7 803.5)" fill="rgb(7,11,132)" opacity="0.69"/>
<ellipse cx="416.0" cy="799.1" rx="4.7" ry="6.6" transform="rotate(6 416.0 799.1)" fill="rgb(6,10,112)" opacity="0.72"/>
<ellipse cx="434.9" cy="804.0" rx="4.8" ry="5.0" transform="rotate(46 434.9 804.0)" fill="rgb(13,20,231)" opacity="0.78"/>
<ellipse cx="441.2" cy="806.8" rx="4.2" ry="4.8" transform="rotate(30 441.2 806.8)" fill="rgb(12,18,211)" opacity="0.81"/>
<ellipse cx="448.1" cy="799.6" rx="4.9" ry="7.0" transform="rotate(-3 448.1 799.6)" fill="rgb(13,20,223)" opacity="0.63"/>
<ellipse cx="472.4" cy="803.6" rx="4.5" ry="7.3" transform="rotate(17 472.4 803.6)" fill="rgb(9,13,151)" opacity="0.75"/>
<ellipse cx="486.3" cy="800.8" rx="3.4" ry="6.6" transform="rotate(-43 486.3 800.8)" fill="rgb(6,10,116)" opacity="0.78"/>
<ellipse cx="320.5" cy="808.9" rx="3.7" ry="6.0" transform="rotate(29 320.5 808.9)" fill="rgb(6,10,115)" opacity="0.83"/>
<ellipse cx="343.3" cy="810.1" rx="4.6" ry="4.9" transform="rotate(-6 343.3 810.1)" fill="rgb(8,13,147)" opacity="0.88"/>
<ellipse cx="352.2" cy="813.7" rx="3.6" ry="5.4" transform="rotate(4 352.2 813.7)" fill="rgb(12,18,205)" opacity="0.87"/>
<ellipse cx="372.4" cy="811.1" rx="4.0" ry="6.5" transform="rotate(-23 372.4 811.1)" fill="rgb(11,17,191)" opacity="0.73"/>
<ellipse cx="376.7" cy="815.2" rx="3.9" ry="6.3" transform="rotate(16 376.7 815.2)" fill="rgb(11,17,189)" opacity="0.91"/>
<ellipse cx="433.8" cy="815.7" rx="4.3" ry="4.8" transform="rotate(8 433.8 815.7)" fill="rgb(7,11,131)" opacity="0.87"/>
<ellipse cx="440.9" cy="809.1" rx="4.3" ry="5.7" transform="rotate(-45 440.9 809.1)" fill="rgb(7,11,129)" opacity="0.67"/>
<ellipse cx="454.5" cy="811.5" rx="4.0" ry="4.8" transform="rotate(11 454.5 811.5)" fill="rgb(10,15,174)" opacity="0.80"/>
<ellipse cx="463.7" cy="808.8" rx="4.7" ry="6.6" transform="rotate(24 463.7 808.8)" fill="rgb(10,15,170)" opacity="0.72"/>
<ellipse cx="496.5" cy="813.3" rx="4.8" ry="6.0" transform="rotate(-29 496.5 813.3)" fill="rgb(13,19,220)" opacity="0.57"/>
<ellipse cx="315.0" cy="822.6" rx="5.0" ry="7.3" transform="rotate(-43 315.0 822.6)" fill="rgb(10,16,178)" opacity="0.84"/>
<ellipse cx="359.6" cy="817.9" rx="3.5" ry="4.9" transform="rotate(16 359.6 817.9)" fill="rgb(7,10,119)" opacity="0.76"/>
<ellipse cx="388.1" cy="819.7" rx="3.8" ry="6.5" transform="rotate(-2 388.1 819.7)" fill="rgb(7,10,119)" opacity="0.58"/>
<ellipse cx="424.3" cy="824.4" rx="3.6" ry="7.1" transform="rotate(43 424.3 824.4)" fill="rgb(9,13,153)" opacity="0.59"/>
<ellipse cx="440.8" cy="820.4" rx="3.6" ry="6.2" transform="rotate(36 440.8 820.4)" fill="rgb(4,7,82)" opacity="0.73"/>
<ellipse cx="449.9" cy="819.3" rx="3.7" ry="6.9" transform="rotate(46 449.9 819.3)" fill="rgb(8,12,144)" opacity="0.68"/>
<ellipse cx="462.3" cy="818.4" rx="3.8" ry="4.8" transform="rotate(-35 462.3 818.4)" fill="rgb(10,15,176)" opacity="0.64"/>
<ellipse cx="469.2" cy="824.2" rx="3.8" ry="6.2" transform="rotate(-47 469.2 824.2)" fill="rgb(10,15,177)" opacity="0.74"/>
<ellipse cx="475.3" cy="819.8" rx="3.7" ry="5.1" transform="rotate(-26 475.3 819.8)" fill="rgb(9,13,155)" opacity="0.58"/>
<ellipse cx="488.1" cy="816.3" rx="3.5" ry="5.2" transform="rotate(26 488.1 816.3)" fill="rgb(13,20,223)" opacity="0.68"/>
<ellipse cx="494.5" cy="819.9" rx="4.0" ry="6.3" transform="rotate(-10 494.5 819.9)" fill="rgb(6,9,102)" opacity="0.86"/>
<ellipse cx="353.5" cy="827.6" rx="3.5" ry="7.1" transform="rotate(5 353.5 827.6)" fill="rgb(8,13,148)" opacity="0.72"/>
<ellipse cx="379.5" cy="830.5" rx="4.1" ry="6.0" transform="rotate(41 379.5 830.5)" fill="rgb(7,10,121)" opacity="0.93"/>
<ellipse cx="445.3" cy="829.3" rx="3.8" ry="6.6" transform="rotate(8 445.3 829.3)" fill="rgb(5,7,86)" opacity="0.59"/>
<ellipse cx="468.1" cy="826.1" rx="4.5" ry="5.5" transform="rotate(3 468.1 826.1)" fill="rgb(9,13,153)" opacity="0.57"/>
<ellipse cx="486.4" cy="828.0" rx="4.3" ry="5.5" transform="rotate(-42 486.4 828.0)" fill="rgb(8,12,135)" opacity="0.91"/>
<ellipse cx="491.5" cy="832.9" rx="5.0" ry="5.9" transform="rotate(-24 491.5 832.9)" fill="rgb(9,14,156)" opacity="0.58"/>
<ellipse cx="503.9" cy="830.9" rx="4.9" ry="4.9" transform="rotate(15 503.9 830.9)" fill="rgb(7,11,132)" opacity="0.65"/>
<ellipse cx="317.8" cy="838.1" rx="3.9" ry="5.6" transform="rotate(-4 317.8 838.1)" fill="rgb(1,2,30)" opacity="0.71"/>
<ellipse cx="341.1" cy="841.0" rx="4.4" ry="5.0" transform="rotate(-17 341.1 841.0)" fill="rgb(9,13,152)" opacity="0.59"/>
<ellipse cx="358.2" cy="838.1" rx="3.6" ry="6.2" transform="rotate(24 358.2 838.1)" fill="rgb(7,11,131)" opacity="0.75"/>
<ellipse cx="378.9" cy="835.0" rx="4.4" ry="7.1" transform="rotate(19 378.9 835.0)" fill="rgb(4,6,70)" opacity="0.71"/>
<ellipse cx="410.3" cy="834.0" rx="4.1" ry="6.6" transform="rotate(-26 410.3 834.0)" fill="rgb(2,3,35)" opacity="0.73"/>
<ellipse cx="443.1" cy="839.3" rx="3.8" ry="5.0" transform="rotate(39 443.1 839.3)" fill="rgb(8,12,134)" opacity="0.85"/>
<ellipse cx="488.8" cy="841.7" rx="5.0" ry="4.9" transform="rotate(5 488.8 841.7)" fill="rgb(4,7,82)" opacity="0.75"/>
<ellipse cx="498.3" cy="835.7" rx="5.0" ry="5.9" transform="rotate(-4 498.3 835.7)" fill="rgb(8,12,137)" opacity="0.56"/>
<ellipse cx="503.3" cy="835.5" rx="5.1" ry="7.3" transform="rotate(-19 503.3 835.5)" fill="rgb(10,16,183)" opacity="0.68"/>
<ellipse cx="508.3" cy="838.9" rx="3.5" ry="7.1" transform="rotate(6 508.3 838.9)" fill="rgb(11,16,186)" opacity="0.62"/>
<ellipse cx="320.0" cy="848.4" rx="4.1" ry="6.2" transform="rotate(-0 320.0 848.4)" fill="rgb(5,8,97)" opacity="0.68"/>
<ellipse cx="327.6" cy="843.3" rx="3.3" ry="6.9" transform="rotate(-25 327.6 843.3)" fill="rgb(6,9,101)" opacity="0.90"/>
<ellipse cx="349.1" cy="850.1" rx="3.3" ry="5.3" transform="rotate(-46 349.1 850.1)" fill="rgb(8,12,136)" opacity="0.90"/>
<ellipse cx="370.8" cy="850.9" rx="4.2" ry="5.7" transform="rotate(5 370.8 850.9)" fill="rgb(5,8,95)" opacity="0.95"/>
<ellipse cx="412.4" cy="848.0" rx="3.5" ry="7.3" transform="rotate(42 412.4 848.0)" fill="rgb(14,21,234)" opacity="0.69"/>
<ellipse cx="427.4" cy="846.3" rx="4.9" ry="6.4" transform="rotate(-14 427.4 846.3)" fill="rgb(12,18,202)" opacity="0.78"/>
<ellipse cx="430.9" cy="847.4" rx="3.7" ry="5.9" transform="rotate(-2 430.9 847.4)" fill="rgb(9,14,162)" opacity="0.83"/>
<ellipse cx="490.8" cy="847.6" rx="3.6" ry="6.7" transform="rotate(-42 490.8 847.6)" fill="rgb(6,9,104)" opacity="0.93"/>
<ellipse cx="499.7" cy="845.7" rx="3.8" ry="6.9" transform="rotate(-39 499.7 845.7)" fill="rgb(9,14,162)" opacity="0.58"/>
<ellipse cx="507.3" cy="847.2" rx="4.2" ry="5.9" transform="rotate(38 507.3 847.2)" fill="rgb(9,14,158)" opacity="0.65"/>
<ellipse cx="322.2" cy="858.2" rx="3.2" ry="7.3" transform="rotate(47 322.2 858.2)" fill="rgb(8,12,136)" opacity="0.66"/>
<ellipse cx="333.9" cy="857.1" rx="4.3" ry="5.5" transform="rotate(-2 333.9 857.1)" fill="rgb(9,13,151)" opacity="0.94"/>
<ellipse cx="347.4" cy="853.1" rx="4.7" ry="6.7" transform="rotate(-36 347.4 853.1)" fill="rgb(7,11,129)" opacity="0.87"/>
<ellipse cx="366.7" cy="852.6" rx="3.7" ry="6.3" transform="rotate(47 366.7 852.6)" fill="rgb(5,8,99)" opacity="0.88"/>
<ellipse cx="388.9" cy="854.1" rx="4.3" ry="5.5" transform="rotate(-18 388.9 854.1)" fill="rgb(3,4,55)" opacity="0.75"/>
<ellipse cx="417.0" cy="858.5" rx="4.8" ry="4.6" transform="rotate(31 417.0 858.5)" fill="rgb(11,16,187)" opacity="0.66"/>
<ellipse cx="421.2" cy="857.6" rx="4.5" ry="4.8" transform="rotate(-29 421.2 857.6)" fill="rgb(8,12,144)" opacity="0.71"/>
<ellipse cx="433.5" cy="856.8" rx="4.8" ry="4.7" transform="rotate(-31 433.5 856.8)" fill="rgb(4,7,78)" opacity="0.81"/>
<ellipse cx="490.0" cy="852.9" rx="4.3" ry="6.2" transform="rotate(4 490.0 852.9)" fill="rgb(9,14,158)" opacity="0.61"/>
<ellipse cx="315.3" cy="865.1" rx="4.7" ry="6.5" transform="rotate(-43 315.3 865.1)" fill="rgb(12,18,208)" opacity="0.67"/>
<ellipse cx="362.6" cy="867.6" rx="3.3" ry="5.4" transform="rotate(40 362.6 867.6)" fill="rgb(9,13,154)" opacity="0.78"/>
<ellipse cx="377.7" cy="863.5" rx="3.8" ry="5.2" transform="rotate(44 377.7 863.5)" fill="rgb(9,14,156)" opacity="0.56"/>
<ellipse cx="386.2" cy="865.9" rx="4.1" ry="6.9" transform="rotate(20 386.2 865.9)" fill="rgb(9,14,163)" opacity="0.63"/>
<ellipse cx="507.1" cy="860.9" rx="4.0" ry="6.6" transform="rotate(-31 507.1 860.9)" fill="rgb(6,10,114)" opacity="0.94"/>
<ellipse cx="319.8" cy="870.9" rx="4.9" ry="5.9" transform="rotate(6 319.8 870.9)" fill="rgb(5,8,96)" opacity="0.93"/>
<ellipse cx="339.7" cy="874.0" rx="3.6" ry="5.4" transform="rotate(-28 339.7 874.0)" fill="rgb(3,4,54)" opacity="0.70"/>
<ellipse cx="351.7" cy="874.4" rx="3.5" ry="7.2" transform="rotate(17 351.7 874.4)" fill="rgb(4,7,82)" opacity="0.69"/>
<ellipse cx="359.8" cy="874.9" rx="3.8" ry="5.4" transform="rotate(13 359.8 874.9)" fill="rgb(7,11,123)" opacity="0.89"/>
<ellipse cx="372.0" cy="869.7" rx="4.9" ry="6.0" transform="rotate(5 372.0 869.7)" fill="rgb(9,14,165)" opacity="0.91"/>
<ellipse cx="376.3" cy="869.5" rx="4.5" ry="4.9" transform="rotate(6 376.3 869.5)" fill="rgb(10,15,168)" opacity="0.82"/>
<ellipse cx="385.2" cy="872.8" rx="4.5" ry="5.7" transform="rotate(16 385.2 872.8)" fill="rgb(6,10,112)" opacity="0.91"/>
<ellipse cx="410.7" cy="872.3" rx="4.7" ry="5.6" transform="rotate(-16 410.7 872.3)" fill="rgb(9,13,154)" opacity="0.60"/>
<ellipse cx="419.0" cy="868.6" rx="4.5" ry="5.1" transform="rotate(22 419.0 868.6)" fill="rgb(6,9,102)" opacity="0.55"/>
<ellipse cx="435.1" cy="874.5" rx="4.8" ry="4.7" transform="rotate(-6 435.1 874.5)" fill="rgb(9,14,166)" opacity="0.74"/>
<ellipse cx="451.7" cy="874.7" rx="4.6" ry="5.5" transform="rotate(23 451.7 874.7)" fill="rgb(6,9,109)" opacity="0.85"/>
<ellipse cx="502.3" cy="873.4" rx="4.2" ry="6.0" transform="rotate(-14 502.3 873.4)" fill="rgb(11,16,188)" opacity="0.88"/>
<ellipse cx="318.3" cy="882.4" rx="5.0" ry="6.2" transform="rotate(-5 318.3 882.4)" fill="rgb(4,7,83)" opacity="0.89"/>
<ellipse cx="365.8" cy="885.8" rx="3.5" ry="6.4" transform="rotate(34 365.8 885.8)" fill="rgb(7,11,123)" opacity="0.74"/>
<ellipse cx="386.7" cy="883.8" rx="4.6" ry="6.5" transform="rotate(-10 386.7 883.8)" fill="rgb(12,18,208)" opacity="0.78"/>
<ellipse cx="402.0" cy="883.3" rx="5.0" ry="6.8" transform="rotate(-20 402.0 883.3)" fill="rgb(5,7,86)" opacity="0.73"/>
<ellipse cx="413.8" cy="880.4" rx="4.7" ry="4.9" transform="rotate(-34 413.8 880.4)" fill="rgb(7,11,132)" opacity="0.87"/>
<ellipse cx="479.2" cy="883.1" rx="4.0" ry="5.2" transform="rotate(50 479.2 883.1)" fill="rgb(1,2,30)" opacity="0.72"/>
<ellipse cx="506.8" cy="884.6" rx="3.9" ry="5.8" transform="rotate(28 506.8 884.6)" fill="rgb(9,13,154)" opacity="0.59"/>
<ellipse cx="331.0" cy="889.2" rx="3.6" ry="5.6" transform="rotate(-9 331.0 889.2)" fill="rgb(10,16,180)" opacity="0.73"/>
<ellipse cx="334.7" cy="888.3" rx="4.1" ry="5.7" transform="rotate(29 334.7 888.3)" fill="rgb(10,15,175)" opacity="0.68"/>
<ellipse cx="351.3" cy="887.4" rx="4.2" ry="5.5" transform="rotate(25 351.3 887.4)" fill="rgb(3,5,65)" opacity="0.65"/>
<ellipse cx="374.4" cy="892.0" rx="4.0" ry="7.2" transform="rotate(-17 374.4 892.0)" fill="rgb(11,17,189)" opacity="0.71"/>
<ellipse cx="421.5" cy="893.8" rx="4.2" ry="5.5" transform="rotate(-6 421.5 893.8)" fill="rgb(6,9,105)" opacity="0.85"/>
<ellipse cx="432.0" cy="890.6" rx="3.5" ry="6.5" transform="rotate(-9 432.0 890.6)" fill="rgb(8,12,138)" opacity="0.78"/>
<ellipse cx="509.6" cy="893.1" rx="4.1" ry="6.1" transform="rotate(-47 509.6 893.1)" fill="rgb(9,14,160)" opacity="0.66"/>
<ellipse cx="328.0" cy="900.8" rx="4.1" ry="4.7" transform="rotate(-45 328.0 900.8)" fill="rgb(5,7,84)" opacity="0.79"/>
<ellipse cx="347.6" cy="900.6" rx="4.6" ry="5.1" transform="rotate(47 347.6 900.6)" fill="rgb(5,7,85)" opacity="0.82"/>
<ellipse cx="403.9" cy="903.0" rx="4.2" ry="5.2" transform="rotate(-43 403.9 903.0)" fill="rgb(5,7,88)" opacity="0.75"/>
<ellipse cx="424.7" cy="900.0" rx="3.9" ry="6.6" transform="rotate(11 424.7 900.0)" fill="rgb(5,7,84)" opacity="0.91"/>
<ellipse cx="442.9" cy="901.0" rx="4.1" ry="5.6" transform="rotate(-46 442.9 901.0)" fill="rgb(7,11,126)" opacity="0.74"/>
<ellipse cx="483.6" cy="897.7" rx="4.7" ry="4.7" transform="rotate(-18 483.6 897.7)" fill="rgb(7,11,125)" opacity="0.83"/>
<ellipse cx="513.3" cy="895.1" rx="3.5" ry="7.3" transform="rotate(-49 513.3 895.1)" fill="rgb(6,10,115)" opacity="0.86"/>
<ellipse cx="323.2" cy="911.6" rx="4.8" ry="4.9" transform="rotate(-7 323.2 911.6)" fill="rgb(6,10,116)" opacity="0.64"/>
<ellipse cx="373.1" cy="904.5" rx="4.6" ry="6.4" transform="rotate(-43 373.1 904.5)" fill="rgb(4,6,75)" opacity="0.60"/>
<ellipse cx="391.3" cy="906.1" rx="3.9" ry="5.0" transform="rotate(-31 391.3 906.1)" fill="rgb(9,14,164)" opacity="0.89"/>
<ellipse cx="409.4" cy="904.3" rx="3.9" ry="6.1" transform="rotate(6 409.4 904.3)" fill="rgb(6,10,113)" opacity="0.73"/>
<ellipse cx="483.8" cy="904.0" rx="3.3" ry="6.6" transform="rotate(-45 483.8 904.0)" fill="rgb(7,11,126)" opacity="0.76"/>
<ellipse cx="504.2" cy="908.3" rx="4.2" ry="5.8" transform="rotate(1 504.2 908.3)" fill="rgb(4,6,76)" opacity="0.94"/>
</g>
<ellipse cx="407.7" cy="816.6" rx="3.0" ry="3.0" fill="#e8ea50" filter="url(#bl08)" opacity="1"/>
<ellipse cx="407" cy="818" rx="1.875" ry="1.875" fill="#ff60b0" filter="url(#bl05)" opacity="1"/>
<ellipse cx="428" cy="825" rx="2.25" ry="2.25" fill="#22e03a" filter="url(#bl05)" opacity="1"/>
<ellipse cx="455.4" cy="828.8" rx="2.75" ry="2.75" fill="#ff9a30" filter="url(#bl08)" opacity="1"/>
<ellipse cx="457" cy="828" rx="1.375" ry="1.375" fill="#22e03a" filter="url(#bl05)" opacity="1"/>
<ellipse cx="480.5" cy="801.8" rx="3.5" ry="3.5" fill="#a0f040" filter="url(#bl08)" opacity="1"/>
<ellipse cx="482" cy="799" rx="1.5" ry="1.5" fill="#e8ea50" filter="url(#bl05)" opacity="1"/>
<ellipse cx="501.5" cy="819.6" rx="4.0" ry="4.0" fill="#ff2030" filter="url(#bl08)" opacity="1"/>
<ellipse cx="492.3" cy="837" rx="1.5" ry="4.25" fill="#f030c0" filter="url(#bl05)" opacity="1"/>
<ellipse cx="436.2" cy="855.4" rx="3.5" ry="3.5" fill="#e8ea50" filter="url(#bl08)" opacity="1"/>
<ellipse cx="437" cy="857" rx="1.875" ry="1.875" fill="#ff60b0" filter="url(#bl05)" opacity="1"/>
<ellipse cx="417.7" cy="864.6" rx="1.75" ry="1.75" fill="#ff60b0" filter="url(#bl05)" opacity="1"/>
<ellipse cx="365.3" cy="886.8" rx="3.5" ry="3.5" fill="#22e03a" filter="url(#bl08)" opacity="1"/>
<ellipse cx="359.7" cy="875" rx="1.75" ry="1.75" fill="#ff4080" filter="url(#bl05)" opacity="1"/>
<ellipse cx="334.6" cy="895" rx="2.375" ry="2.375" fill="#f040c0" filter="url(#bl05)" opacity="1"/>
<ellipse cx="345.7" cy="886" rx="1.25" ry="1.25" fill="#35d6e6" filter="url(#bl05)" opacity="1"/>
<ellipse cx="345.7" cy="829.5" rx="1.375" ry="1.375" fill="#ff2030" filter="url(#bl05)" opacity="1"/>
<ellipse cx="353" cy="813" rx="1.25" ry="1.25" fill="#ff60b0" filter="url(#bl05)" opacity="1"/>
<ellipse cx="460" cy="802" rx="1.25" ry="1.25" fill="#ff60b0" filter="url(#bl05)" opacity="1"/>
<ellipse cx="487.9" cy="891" rx="2.25" ry="2.25" fill="#f03090" filter="url(#bl05)" opacity="1"/>
<ellipse cx="476.8" cy="877.5" rx="1.125" ry="1.125" fill="#22e03a" filter="url(#bl05)" opacity="1"/>
<ellipse cx="432" cy="820" rx="1.0" ry="1.0" fill="#ff2030" filter="url(#bl05)" opacity="1"/>
</svg>
<text x="214" y="822.3" style="font-size:18.5px;fill:#e8282c">α<tspan dy="4.5" style="font-size:12.5px">IIb</tspan></text>
<text x="159.8" y="847.7" style="font-size:20.3px;fill:#2cc84a" textLength="78.8" lengthAdjust="spacingAndGlyphs">cl. cas-3</text>
<text x="191.3" y="874" style="font-size:19.8px;fill:#2060e0">DAPI</text>
<line x1="203.2" y1="895.8" x2="243.2" y2="895.8" stroke="#dcdcdc" stroke-width="2.2" />
<line x1="464.8" y1="895.8" x2="504" y2="895.8" stroke="#dcdcdc" stroke-width="2.2" />
</svg></body></html>
